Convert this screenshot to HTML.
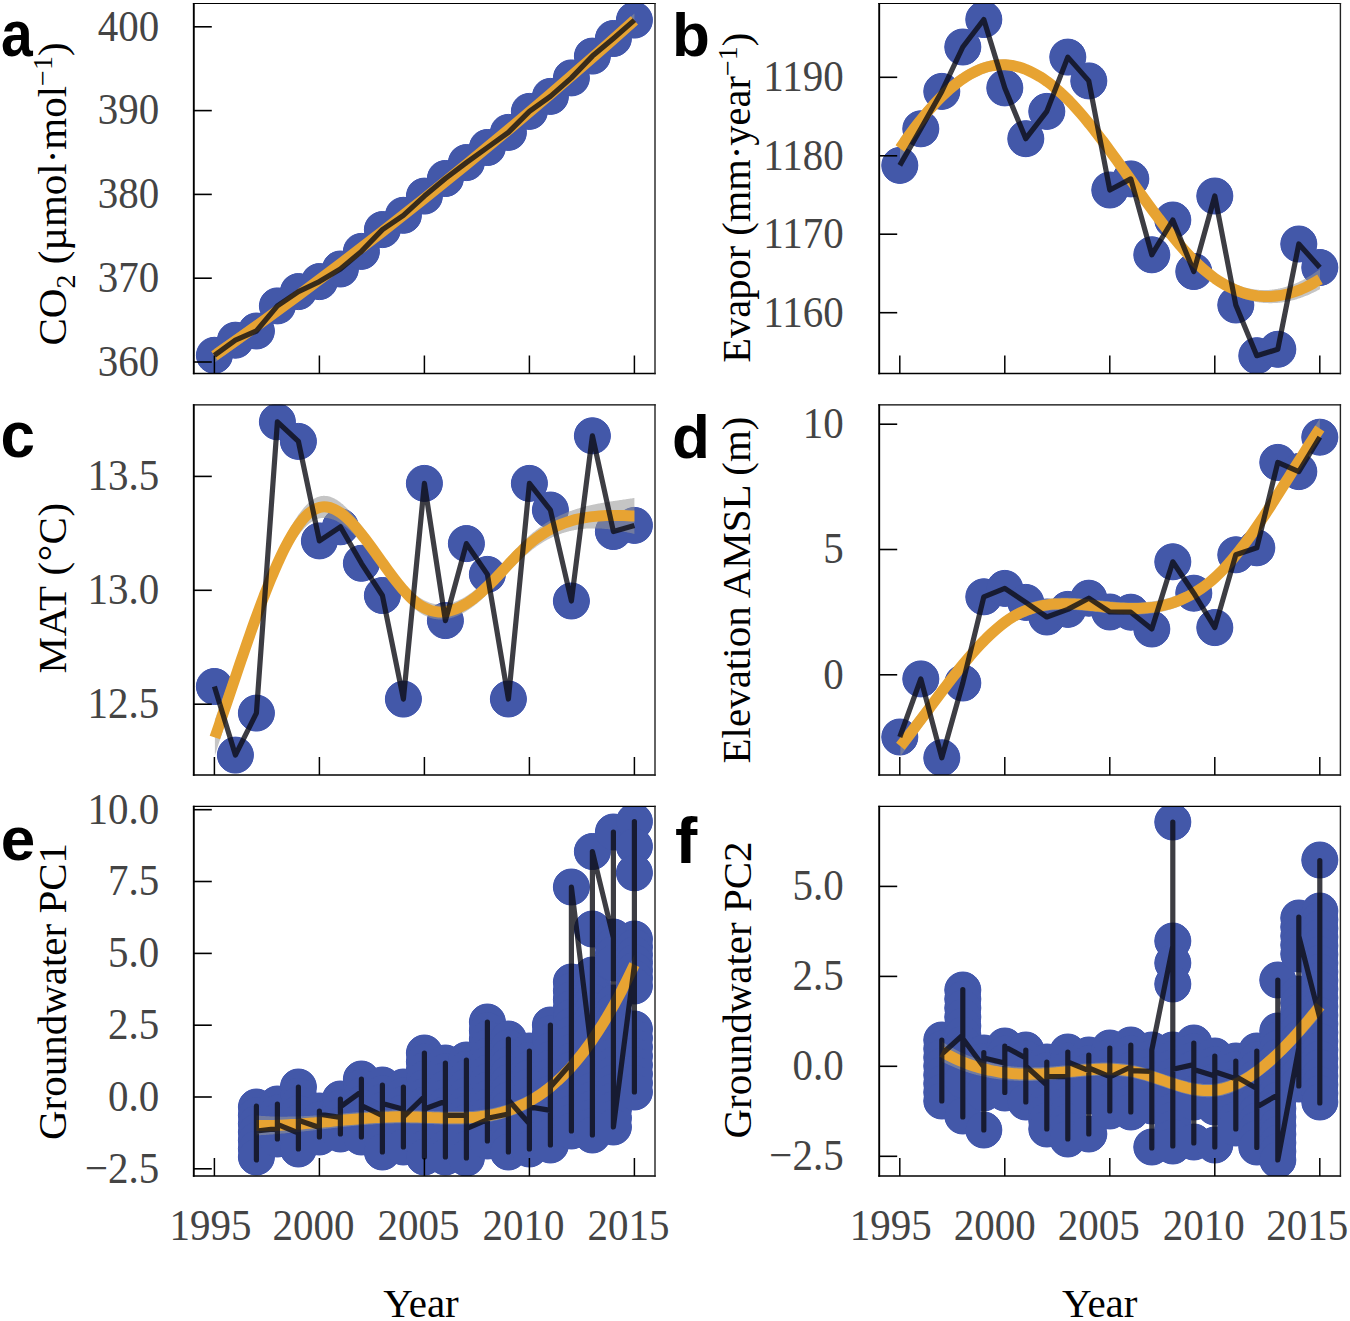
<!DOCTYPE html>
<html><head><meta charset="utf-8"><style>
html,body{margin:0;padding:0;background:#fff;overflow:hidden;width:1350px;height:1321px;}
svg{display:block;}
.tl{font-family:"Liberation Serif",serif;font-size:41px;fill:#444;}
.yt{font-family:"Liberation Serif",serif;font-size:41px;fill:#000;}
.pl{font-family:"Liberation Sans",sans-serif;font-weight:bold;font-size:62px;fill:#000;}
</style></head><body>
<svg width="1350" height="1321" viewBox="0 0 1350 1321">
<rect width="1350" height="1321" fill="#fff"/>
<defs><clipPath id="c00"><rect x="193.8" y="3.5" width="461.2" height="370"/></clipPath>
<clipPath id="c01"><rect x="193.8" y="404.8" width="461.2" height="370.2"/></clipPath>
<clipPath id="c02"><rect x="193.8" y="806.3" width="461.2" height="369.7"/></clipPath>
<clipPath id="c10"><rect x="879.2" y="3.5" width="461.2" height="370"/></clipPath>
<clipPath id="c11"><rect x="879.2" y="404.8" width="461.2" height="370.2"/></clipPath>
<clipPath id="c12"><rect x="879.2" y="806.3" width="461.2" height="369.7"/></clipPath></defs>
<g clip-path="url(#c00)">
<g fill="#4358A9" stroke="#3A50B4" stroke-width="1"><circle cx="214.4" cy="355.3" r="18"/><circle cx="235.4" cy="340.2" r="18"/><circle cx="256.4" cy="331" r="18"/><circle cx="277.4" cy="305.9" r="18"/><circle cx="298.4" cy="291.6" r="18"/><circle cx="319.4" cy="281.6" r="18"/><circle cx="340.4" cy="269" r="18"/><circle cx="361.4" cy="251.4" r="18"/><circle cx="382.4" cy="229.6" r="18"/><circle cx="403.4" cy="215.3" r="18"/><circle cx="424.4" cy="196.1" r="18"/><circle cx="445.4" cy="178.5" r="18"/><circle cx="466.4" cy="162.6" r="18"/><circle cx="487.4" cy="147.5" r="18"/><circle cx="508.4" cy="132.4" r="18"/><circle cx="529.4" cy="111.4" r="18"/><circle cx="550.4" cy="96.4" r="18"/><circle cx="571.4" cy="77.9" r="18"/><circle cx="592.4" cy="56.1" r="18"/><circle cx="613.4" cy="38.5" r="18"/><circle cx="634.4" cy="20.1" r="18"/></g>
<g fill="#4358A9"><circle cx="214.4" cy="355.3" r="18"/><circle cx="235.4" cy="340.2" r="18"/><circle cx="256.4" cy="331" r="18"/><circle cx="277.4" cy="305.9" r="18"/><circle cx="298.4" cy="291.6" r="18"/><circle cx="319.4" cy="281.6" r="18"/><circle cx="340.4" cy="269" r="18"/><circle cx="361.4" cy="251.4" r="18"/><circle cx="382.4" cy="229.6" r="18"/><circle cx="403.4" cy="215.3" r="18"/><circle cx="424.4" cy="196.1" r="18"/><circle cx="445.4" cy="178.5" r="18"/><circle cx="466.4" cy="162.6" r="18"/><circle cx="487.4" cy="147.5" r="18"/><circle cx="508.4" cy="132.4" r="18"/><circle cx="529.4" cy="111.4" r="18"/><circle cx="550.4" cy="96.4" r="18"/><circle cx="571.4" cy="77.9" r="18"/><circle cx="592.4" cy="56.1" r="18"/><circle cx="613.4" cy="38.5" r="18"/><circle cx="634.4" cy="20.1" r="18"/></g>
<path d="M214.4,348.8 L216.4,347.4 L219,345.6 L221.9,343.5 L225.3,341.2 L228.9,338.7 L232.8,336 L236.8,333.3 L240.8,330.4 L244.9,327.6 L248.9,324.8 L252.8,322.1 L256.4,319.5 L259.9,317 L263.4,314.6 L266.9,312.1 L270.4,309.6 L273.9,307.1 L277.4,304.5 L280.9,302 L284.4,299.5 L287.9,297 L291.4,294.4 L294.9,291.9 L298.4,289.3 L301.9,286.8 L305.4,284.2 L308.9,281.6 L312.4,279 L315.9,276.5 L319.4,273.9 L322.9,271.3 L326.4,268.7 L329.9,266.1 L333.4,263.4 L336.9,260.8 L340.4,258.2 L343.9,255.5 L347.4,252.9 L350.9,250.2 L354.4,247.6 L357.9,244.9 L361.4,242.2 L364.9,239.6 L368.4,236.9 L371.9,234.2 L375.4,231.5 L378.9,228.8 L382.4,226.1 L385.9,223.3 L389.4,220.6 L392.9,217.9 L396.4,215.2 L399.9,212.4 L403.4,209.7 L406.9,206.9 L410.4,204.1 L413.9,201.4 L417.4,198.6 L420.9,195.8 L424.4,193 L427.9,190.2 L431.4,187.4 L434.9,184.6 L438.4,181.8 L441.9,178.9 L445.4,176.1 L448.9,173.3 L452.4,170.4 L455.9,167.6 L459.4,164.7 L462.9,161.9 L466.4,159 L469.9,156.1 L473.4,153.2 L476.9,150.3 L480.4,147.4 L483.9,144.5 L487.4,141.6 L490.9,138.7 L494.4,135.8 L497.9,132.8 L501.4,129.9 L504.9,127 L508.4,124 L511.9,121.1 L515.4,118.1 L518.9,115.1 L522.4,112.1 L525.9,109.2 L529.4,106.2 L532.9,103.2 L536.4,100.2 L539.9,97.2 L543.4,94.1 L546.9,91.1 L550.4,88.1 L553.9,85.1 L557.4,82 L560.9,79 L564.4,75.9 L567.9,72.8 L571.4,69.8 L574.9,66.7 L578.4,63.6 L581.9,60.5 L585.4,57.4 L588.9,54.3 L592.4,51.2 L596.4,47.7 L600.6,43.9 L605,39.9 L609.4,35.9 L613.9,32 L618.1,28.1 L622.2,24.4 L626,21 L629.3,18 L632.2,15.4 L634.4,13.4 L634.4,27.4 L632.2,29.3 L629.3,31.8 L626,34.8 L622.2,38.1 L618.1,41.6 L613.9,45.4 L609.4,49.3 L605,53.2 L600.6,57 L596.4,60.7 L592.4,64.1 L588.9,67.2 L585.4,70.2 L581.9,73.2 L578.4,76.2 L574.9,79.2 L571.4,82.2 L567.9,85.2 L564.4,88.2 L560.9,91.2 L557.4,94.2 L553.9,97.2 L550.4,100.2 L546.9,103.1 L543.4,106.1 L539.9,109.1 L536.4,112 L532.9,115 L529.4,117.9 L525.9,120.9 L522.4,123.8 L518.9,126.7 L515.4,129.7 L511.9,132.6 L508.4,135.5 L504.9,138.4 L501.4,141.3 L497.9,144.2 L494.4,147.1 L490.9,150 L487.4,152.9 L483.9,155.8 L480.4,158.6 L476.9,161.5 L473.4,164.4 L469.9,167.2 L466.4,170.1 L462.9,173 L459.4,175.8 L455.9,178.6 L452.4,181.5 L448.9,184.3 L445.4,187.1 L441.9,190 L438.4,192.8 L434.9,195.6 L431.4,198.4 L427.9,201.2 L424.4,204 L420.9,206.8 L417.4,209.6 L413.9,212.4 L410.4,215.1 L406.9,217.9 L403.4,220.7 L399.9,223.4 L396.4,226.2 L392.9,229 L389.4,231.7 L385.9,234.4 L382.4,237.2 L378.9,239.9 L375.4,242.6 L371.9,245.4 L368.4,248.1 L364.9,250.8 L361.4,253.5 L357.9,256.2 L354.4,258.9 L350.9,261.6 L347.4,264.3 L343.9,267 L340.4,269.7 L336.9,272.3 L333.4,275 L329.9,277.7 L326.4,280.3 L322.9,283 L319.4,285.6 L315.9,288.3 L312.4,290.9 L308.9,293.5 L305.4,296.2 L301.9,298.8 L298.4,301.4 L294.9,304 L291.4,306.6 L287.9,309.2 L284.4,311.8 L280.9,314.4 L277.4,317 L273.9,319.6 L270.4,322.2 L266.9,324.8 L263.4,327.3 L259.9,329.9 L256.4,332.4 L252.8,335.1 L248.9,337.9 L244.9,340.8 L240.8,343.7 L236.8,346.7 L232.8,349.5 L228.9,352.3 L225.3,354.9 L221.9,357.3 L219,359.5 L216.4,361.3 L214.4,362.8 Z" fill="#989898" fill-opacity="0.56"/>
<path d="M214.4,355.8 C221.4,350.8 242.4,336.1 256.4,326 C270.4,315.9 284.4,305.7 298.4,295.4 C312.4,285 326.4,274.5 340.4,263.9 C354.4,253.3 368.4,242.5 382.4,231.6 C396.4,220.7 410.4,209.7 424.4,198.5 C438.4,187.3 452.4,176 466.4,164.5 C480.4,153.1 494.4,141.5 508.4,129.8 C522.4,118 536.4,106.1 550.4,94.1 C564.4,82.1 578.4,70 592.4,57.7 C606.4,45.4 627.4,26.6 634.4,20.4" fill="none" stroke="#E7A332" stroke-width="11"/>
<path d="M214.4,355.3 L235.4,340.2 L256.4,331 L277.4,305.9 L298.4,291.6 L319.4,281.6 L340.4,269 L361.4,251.4 L382.4,229.6 L403.4,215.3 L424.4,196.1 L445.4,178.5 L466.4,162.6 L487.4,147.5 L508.4,132.4 L529.4,111.4 L550.4,96.4 L571.4,77.9 L592.4,56.1 L613.4,38.5 L634.4,20.1" fill="none" stroke="#0c0c14" stroke-opacity="0.8" stroke-width="5.2" stroke-linejoin="round" stroke-linecap="butt"/>
</g>
<g clip-path="url(#c10)">
<g fill="#4358A9" stroke="#3A50B4" stroke-width="1"><circle cx="899.8" cy="165.4" r="18"/><circle cx="920.8" cy="128.8" r="18"/><circle cx="941.8" cy="91.4" r="18"/><circle cx="962.8" cy="47" r="18"/><circle cx="983.8" cy="19.5" r="18"/><circle cx="1004.8" cy="87.9" r="18"/><circle cx="1025.8" cy="138.7" r="18"/><circle cx="1046.8" cy="111.4" r="18"/><circle cx="1067.8" cy="57.1" r="18"/><circle cx="1088.8" cy="80.9" r="18"/><circle cx="1109.8" cy="190" r="18"/><circle cx="1130.8" cy="178.9" r="18"/><circle cx="1151.8" cy="254.8" r="18"/><circle cx="1172.8" cy="220" r="18"/><circle cx="1193.8" cy="271.5" r="18"/><circle cx="1214.8" cy="196" r="18"/><circle cx="1235.8" cy="305" r="18"/><circle cx="1256.8" cy="355.7" r="18"/><circle cx="1277.8" cy="349.3" r="18"/><circle cx="1298.8" cy="244" r="18"/><circle cx="1319.8" cy="267.5" r="18"/></g>
<g fill="#4358A9"><circle cx="899.8" cy="165.4" r="18"/><circle cx="920.8" cy="128.8" r="18"/><circle cx="941.8" cy="91.4" r="18"/><circle cx="962.8" cy="47" r="18"/><circle cx="983.8" cy="19.5" r="18"/><circle cx="1004.8" cy="87.9" r="18"/><circle cx="1025.8" cy="138.7" r="18"/><circle cx="1046.8" cy="111.4" r="18"/><circle cx="1067.8" cy="57.1" r="18"/><circle cx="1088.8" cy="80.9" r="18"/><circle cx="1109.8" cy="190" r="18"/><circle cx="1130.8" cy="178.9" r="18"/><circle cx="1151.8" cy="254.8" r="18"/><circle cx="1172.8" cy="220" r="18"/><circle cx="1193.8" cy="271.5" r="18"/><circle cx="1214.8" cy="196" r="18"/><circle cx="1235.8" cy="305" r="18"/><circle cx="1256.8" cy="355.7" r="18"/><circle cx="1277.8" cy="349.3" r="18"/><circle cx="1298.8" cy="244" r="18"/><circle cx="1319.8" cy="267.5" r="18"/></g>
<path d="M900,138.5 L900.3,138.1 L900.8,137.5 L901.3,136.8 L901.8,136.1 L902.4,135.2 L903.1,134.4 L903.7,133.5 L904.4,132.5 L905.1,131.6 L905.8,130.7 L906.4,129.9 L907,129.1 L907.6,128.3 L908.2,127.5 L908.8,126.8 L909.3,126 L909.9,125.2 L910.5,124.5 L911.1,123.7 L911.7,123 L912.2,122.2 L912.8,121.5 L913.4,120.8 L914,120 L914.6,119.3 L915.2,118.6 L915.8,117.9 L916.3,117.1 L916.9,116.4 L917.5,115.7 L918.1,115 L918.7,114.3 L919.2,113.6 L919.8,112.9 L920.4,112.2 L921,111.5 L921.6,110.8 L922.2,110.1 L922.8,109.4 L923.3,108.8 L923.9,108.1 L924.5,107.4 L925.1,106.8 L925.7,106.1 L926.2,105.4 L926.8,104.8 L927.4,104.1 L928,103.5 L928.6,102.8 L929.2,102.2 L929.8,101.6 L930.3,100.9 L930.9,100.3 L931.5,99.7 L932.1,99.1 L932.7,98.4 L933.2,97.8 L933.8,97.2 L934.4,96.6 L935,96 L935.6,95.4 L936.2,94.8 L936.8,94.3 L937.3,93.7 L937.9,93.1 L938.5,92.5 L939.1,91.9 L939.7,91.4 L940.2,90.8 L940.8,90.3 L941.4,89.7 L942,89.2 L942.6,88.6 L943.2,88.1 L943.8,87.5 L944.3,87 L944.9,86.5 L945.5,86 L946.1,85.4 L946.7,84.9 L947.2,84.4 L947.8,83.9 L948.4,83.4 L949,82.9 L949.6,82.4 L950.2,81.9 L950.8,81.5 L951.3,81 L951.9,80.5 L952.5,80 L953.1,79.6 L953.7,79.1 L954.2,78.7 L954.8,78.2 L955.4,77.8 L956,77.3 L956.6,76.9 L957.2,76.5 L957.8,76.1 L958.3,75.6 L958.9,75.2 L959.5,74.8 L960.1,74.4 L960.7,74 L961.2,73.6 L961.8,73.2 L962.4,72.8 L963,72.5 L963.6,72.1 L964.2,71.7 L964.8,71.3 L965.3,71 L965.9,70.6 L966.5,70.3 L967.1,69.9 L967.7,69.6 L968.2,69.3 L968.8,68.9 L969.4,68.6 L970,68.3 L970.6,68 L971.2,67.7 L971.8,67.4 L972.3,67.1 L972.9,66.8 L973.5,66.5 L974.1,66.2 L974.7,65.9 L975.2,65.7 L975.8,65.4 L976.4,65.1 L977,64.9 L977.6,64.6 L978.2,64.4 L978.8,64.2 L979.3,63.9 L979.9,63.7 L980.5,63.5 L981.1,63.3 L981.7,63.1 L982.2,62.9 L982.8,62.7 L983.4,62.5 L984,62.3 L984.6,62.1 L985.2,61.9 L985.8,61.7 L986.3,61.6 L986.9,61.4 L987.5,61.3 L988.1,61.1 L988.7,61 L989.2,60.9 L989.8,60.7 L990.4,60.6 L991,60.5 L991.6,60.4 L992.2,60.3 L992.8,60.2 L993.3,60.1 L993.9,60 L994.5,59.9 L995.1,59.8 L995.7,59.8 L996.2,59.7 L996.8,59.6 L997.4,59.6 L998,59.5 L998.6,59.5 L999.2,59.5 L999.8,59.5 L1000.3,59.4 L1000.9,59.4 L1001.5,59.4 L1002.1,59.4 L1002.7,59.4 L1003.2,59.4 L1003.8,59.4 L1004.4,59.5 L1005,59.5 L1005.6,59.5 L1006.2,59.6 L1006.8,59.6 L1007.3,59.7 L1007.9,59.7 L1008.5,59.8 L1009.1,59.9 L1009.7,59.9 L1010.2,60 L1010.8,60.1 L1011.4,60.2 L1012,60.3 L1012.6,60.4 L1013.2,60.5 L1013.8,60.6 L1014.3,60.8 L1014.9,60.9 L1015.5,61 L1016.1,61.2 L1016.7,61.3 L1017.2,61.5 L1017.8,61.6 L1018.4,61.8 L1019,62 L1019.6,62.1 L1020.2,62.3 L1020.8,62.5 L1021.3,62.7 L1021.9,62.9 L1022.5,63.1 L1023.1,63.3 L1023.7,63.5 L1024.2,63.7 L1024.8,64 L1025.4,64.2 L1026,64.4 L1026.6,64.7 L1027.2,64.9 L1027.8,65.2 L1028.3,65.4 L1028.9,65.7 L1029.5,65.9 L1030.1,66.2 L1030.7,66.5 L1031.2,66.8 L1031.8,67.1 L1032.4,67.4 L1033,67.7 L1033.6,68 L1034.2,68.3 L1034.8,68.6 L1035.3,68.9 L1035.9,69.2 L1036.5,69.6 L1037.1,69.9 L1037.7,70.3 L1038.2,70.6 L1038.8,71 L1039.4,71.3 L1040,71.7 L1040.6,72 L1041.2,72.4 L1041.8,72.8 L1042.3,73.2 L1042.9,73.6 L1043.5,73.9 L1044.1,74.3 L1044.7,74.7 L1045.2,75.2 L1045.8,75.6 L1046.4,76 L1047,76.4 L1047.6,76.8 L1048.2,77.3 L1048.8,77.7 L1049.3,78.1 L1049.9,78.6 L1050.5,79 L1051.1,79.5 L1051.7,80 L1052.2,80.4 L1052.8,80.9 L1053.4,81.4 L1054,81.8 L1054.6,82.3 L1055.2,82.8 L1055.8,83.3 L1056.3,83.8 L1056.9,84.3 L1057.5,84.8 L1058.1,85.3 L1058.7,85.8 L1059.2,86.4 L1059.8,86.9 L1060.4,87.4 L1061,88 L1061.6,88.5 L1062.2,89 L1062.8,89.6 L1063.3,90.1 L1063.9,90.7 L1064.5,91.3 L1065.1,91.8 L1065.7,92.4 L1066.2,93 L1066.8,93.5 L1067.4,94.1 L1068,94.7 L1068.6,95.3 L1069.2,95.9 L1069.8,96.5 L1070.3,97.1 L1070.9,97.7 L1071.5,98.3 L1072.1,98.9 L1072.7,99.6 L1073.2,100.2 L1073.8,100.8 L1074.4,101.4 L1075,102.1 L1075.6,102.7 L1076.2,103.4 L1076.8,104 L1077.3,104.7 L1077.9,105.3 L1078.5,106 L1079.1,106.6 L1079.7,107.3 L1080.2,108 L1080.8,108.7 L1081.4,109.3 L1082,110 L1082.6,110.7 L1083.2,111.4 L1083.8,112.1 L1084.3,112.8 L1084.9,113.5 L1085.5,114.2 L1086.1,114.9 L1086.7,115.6 L1087.2,116.3 L1087.8,117 L1088.4,117.7 L1089,118.4 L1089.6,119.1 L1090.2,119.9 L1090.8,120.6 L1091.3,121.3 L1091.9,122.1 L1092.5,122.8 L1093.1,123.5 L1093.7,124.3 L1094.2,125 L1094.8,125.8 L1095.4,126.5 L1096,127.3 L1096.6,128 L1097.2,128.8 L1097.8,129.5 L1098.3,130.3 L1098.9,131 L1099.5,131.8 L1100.1,132.6 L1100.7,133.3 L1101.2,134.1 L1101.8,134.9 L1102.4,135.7 L1103,136.4 L1103.6,137.2 L1104.2,138 L1104.8,138.8 L1105.3,139.6 L1105.9,140.3 L1106.5,141.1 L1107.1,141.9 L1107.7,142.7 L1108.2,143.5 L1108.8,144.3 L1109.4,145.1 L1110,145.9 L1110.6,146.7 L1111.2,147.5 L1111.8,148.3 L1112.3,149.1 L1112.9,149.9 L1113.5,150.7 L1114.1,151.5 L1114.7,152.3 L1115.2,153.1 L1115.8,153.9 L1116.4,154.7 L1117,155.5 L1117.6,156.4 L1118.2,157.2 L1118.8,158 L1119.3,158.8 L1119.9,159.6 L1120.5,160.4 L1121.1,161.2 L1121.7,162.1 L1122.2,162.9 L1122.8,163.7 L1123.4,164.5 L1124,165.3 L1124.6,166.2 L1125.2,167 L1125.8,167.8 L1126.3,168.6 L1126.9,169.4 L1127.5,170.3 L1128.1,171.1 L1128.7,171.9 L1129.2,172.7 L1129.8,173.6 L1130.4,174.4 L1131,175.2 L1131.6,176 L1132.2,176.8 L1132.8,177.7 L1133.3,178.5 L1133.9,179.3 L1134.5,180.1 L1135.1,181 L1135.7,181.8 L1136.2,182.6 L1136.8,183.4 L1137.4,184.2 L1138,185.1 L1138.6,185.9 L1139.2,186.7 L1139.8,187.5 L1140.3,188.3 L1140.9,189.2 L1141.5,190 L1142.1,190.8 L1142.7,191.6 L1143.2,192.4 L1143.8,193.2 L1144.4,194 L1145,194.8 L1145.6,195.7 L1146.2,196.5 L1146.8,197.3 L1147.3,198.1 L1147.9,198.9 L1148.5,199.7 L1149.1,200.5 L1149.7,201.3 L1150.2,202.1 L1150.8,202.9 L1151.4,203.7 L1152,204.5 L1152.6,205.3 L1153.2,206.1 L1153.8,206.9 L1154.3,207.7 L1154.9,208.4 L1155.5,209.2 L1156.1,210 L1156.7,210.8 L1157.2,211.6 L1157.8,212.4 L1158.4,213.1 L1159,213.9 L1159.6,214.7 L1160.2,215.5 L1160.8,216.2 L1161.3,217 L1161.9,217.8 L1162.5,218.5 L1163.1,219.3 L1163.7,220 L1164.2,220.8 L1164.8,221.5 L1165.4,222.3 L1166,223 L1166.6,223.8 L1167.2,224.5 L1167.8,225.3 L1168.3,226 L1168.9,226.8 L1169.5,227.5 L1170.1,228.2 L1170.7,228.9 L1171.2,229.7 L1171.8,230.4 L1172.4,231.1 L1173,231.8 L1173.6,232.5 L1174.2,233.2 L1174.8,234 L1175.3,234.7 L1175.9,235.4 L1176.5,236.1 L1177.1,236.8 L1177.7,237.4 L1178.2,238.1 L1178.8,238.8 L1179.4,239.5 L1180,240.2 L1180.6,240.8 L1181.2,241.5 L1181.8,242.2 L1182.3,242.9 L1182.9,243.5 L1183.5,244.2 L1184.1,244.8 L1184.7,245.5 L1185.2,246.1 L1185.8,246.8 L1186.4,247.4 L1187,248 L1187.6,248.7 L1188.2,249.3 L1188.8,249.9 L1189.3,250.5 L1189.9,251.1 L1190.5,251.7 L1191.1,252.3 L1191.7,252.9 L1192.2,253.5 L1192.8,254.1 L1193.4,254.7 L1194,255.3 L1194.6,255.9 L1195.2,256.5 L1195.8,257 L1196.3,257.6 L1196.9,258.1 L1197.5,258.7 L1198.1,259.3 L1198.7,259.8 L1199.2,260.3 L1199.8,260.9 L1200.4,261.4 L1201,261.9 L1201.6,262.5 L1202.2,263 L1202.8,263.5 L1203.3,264 L1203.9,264.5 L1204.5,265 L1205.1,265.5 L1205.7,266 L1206.2,266.4 L1206.8,266.9 L1207.4,267.4 L1208,267.9 L1208.6,268.3 L1209.2,268.8 L1209.8,269.2 L1210.3,269.7 L1210.9,270.1 L1211.5,270.6 L1212.1,271 L1212.7,271.4 L1213.2,271.8 L1213.8,272.3 L1214.4,272.7 L1215,273.1 L1215.6,273.5 L1216.2,273.9 L1216.8,274.3 L1217.3,274.6 L1217.9,275 L1218.5,275.4 L1219.1,275.8 L1219.7,276.1 L1220.2,276.5 L1220.8,276.9 L1221.4,277.2 L1222,277.6 L1222.6,277.9 L1223.2,278.3 L1223.8,278.6 L1224.3,278.9 L1224.9,279.2 L1225.5,279.6 L1226.1,279.9 L1226.7,280.2 L1227.2,280.5 L1227.8,280.8 L1228.4,281.1 L1229,281.4 L1229.6,281.7 L1230.2,281.9 L1230.8,282.2 L1231.3,282.5 L1231.9,282.8 L1232.5,283 L1233.1,283.3 L1233.7,283.5 L1234.2,283.8 L1234.8,284 L1235.4,284.2 L1236,284.5 L1236.6,284.7 L1237.2,284.9 L1237.8,285.1 L1238.3,285.4 L1238.9,285.6 L1239.5,285.8 L1240.1,286 L1240.7,286.2 L1241.2,286.3 L1241.8,286.5 L1242.4,286.7 L1243,286.9 L1243.6,287.1 L1244.2,287.2 L1244.8,287.4 L1245.3,287.5 L1245.9,287.7 L1246.5,287.8 L1247.1,288 L1247.7,288.1 L1248.2,288.2 L1248.8,288.4 L1249.4,288.5 L1250,288.6 L1250.6,288.7 L1251.2,288.8 L1251.8,288.9 L1252.3,289 L1252.9,289.1 L1253.5,289.2 L1254.1,289.3 L1254.7,289.4 L1255.2,289.5 L1255.8,289.5 L1256.4,289.6 L1257,289.7 L1257.6,289.7 L1258.2,289.8 L1258.8,289.8 L1259.3,289.9 L1259.9,289.9 L1260.5,289.9 L1261.1,290 L1261.7,290 L1262.2,290 L1262.8,290 L1263.4,290 L1264,290 L1264.6,290 L1265.2,290 L1265.8,290 L1266.3,290 L1266.9,290 L1267.5,290 L1268.1,289.9 L1268.7,289.9 L1269.2,289.9 L1269.8,289.8 L1270.4,289.8 L1271,289.7 L1271.6,289.7 L1272.2,289.6 L1272.8,289.5 L1273.3,289.5 L1273.9,289.4 L1274.5,289.3 L1275.1,289.2 L1275.7,289.1 L1276.2,289.1 L1276.8,289 L1277.4,288.9 L1278,288.7 L1278.6,288.6 L1279.2,288.5 L1279.8,288.4 L1280.3,288.3 L1280.9,288.1 L1281.5,288 L1282.1,287.9 L1282.7,287.7 L1283.2,287.6 L1283.8,287.4 L1284.4,287.3 L1285,287.1 L1285.6,287 L1286.2,286.8 L1286.8,286.6 L1287.3,286.4 L1287.9,286.2 L1288.5,286.1 L1289.1,285.9 L1289.7,285.7 L1290.2,285.5 L1290.8,285.3 L1291.4,285 L1292,284.8 L1292.6,284.6 L1293.2,284.4 L1293.8,284.2 L1294.3,283.9 L1294.9,283.7 L1295.5,283.4 L1296.1,283.2 L1296.7,282.9 L1297.2,282.7 L1297.8,282.4 L1298.4,282.2 L1299,281.9 L1299.6,281.6 L1300.2,281.3 L1300.8,281 L1301.3,280.8 L1301.9,280.5 L1302.5,280.2 L1303.1,279.9 L1303.7,279.6 L1304.2,279.2 L1304.8,278.9 L1305.4,278.6 L1306,278.3 L1306.6,278 L1307.2,277.6 L1307.8,277.3 L1308.3,276.9 L1308.9,276.6 L1309.5,276.3 L1310.1,275.9 L1310.7,275.5 L1311.2,275.2 L1311.8,274.8 L1312.4,274.4 L1313,274.1 L1313.7,273.6 L1314.4,273.1 L1315.1,272.6 L1315.8,272.1 L1316.6,271.6 L1317.3,271.1 L1318,270.6 L1318.6,270.2 L1319.2,269.8 L1319.6,269.4 L1320,269.2 L1320,289.2 L1319.6,289.4 L1319.2,289.6 L1318.6,289.9 L1318,290.2 L1317.3,290.6 L1316.6,291 L1315.8,291.4 L1315.1,291.7 L1314.4,292.1 L1313.7,292.5 L1313,292.8 L1312.4,293.1 L1311.8,293.3 L1311.2,293.6 L1310.7,293.9 L1310.1,294.1 L1309.5,294.4 L1308.9,294.7 L1308.3,294.9 L1307.8,295.2 L1307.2,295.4 L1306.6,295.6 L1306,295.9 L1305.4,296.1 L1304.8,296.3 L1304.2,296.6 L1303.7,296.8 L1303.1,297 L1302.5,297.2 L1301.9,297.4 L1301.3,297.6 L1300.8,297.9 L1300.2,298.1 L1299.6,298.3 L1299,298.4 L1298.4,298.6 L1297.8,298.8 L1297.2,299 L1296.7,299.2 L1296.1,299.4 L1295.5,299.5 L1294.9,299.7 L1294.3,299.9 L1293.8,300 L1293.2,300.2 L1292.6,300.3 L1292,300.5 L1291.4,300.6 L1290.8,300.8 L1290.2,300.9 L1289.7,301 L1289.1,301.1 L1288.5,301.3 L1287.9,301.4 L1287.3,301.5 L1286.8,301.6 L1286.2,301.7 L1285.6,301.8 L1285,301.9 L1284.4,302 L1283.8,302.1 L1283.2,302.2 L1282.7,302.3 L1282.1,302.4 L1281.5,302.5 L1280.9,302.5 L1280.3,302.6 L1279.8,302.7 L1279.2,302.7 L1278.6,302.8 L1278,302.8 L1277.4,302.9 L1276.8,302.9 L1276.2,303 L1275.7,303 L1275.1,303.1 L1274.5,303.1 L1273.9,303.1 L1273.3,303.1 L1272.8,303.1 L1272.2,303.2 L1271.6,303.2 L1271,303.2 L1270.4,303.2 L1269.8,303.2 L1269.2,303.2 L1268.7,303.2 L1268.1,303.1 L1267.5,303.1 L1266.9,303.1 L1266.3,303.1 L1265.8,303 L1265.2,303 L1264.6,303 L1264,302.9 L1263.4,302.9 L1262.8,302.8 L1262.2,302.8 L1261.7,302.7 L1261.1,302.6 L1260.5,302.6 L1259.9,302.5 L1259.3,302.4 L1258.8,302.3 L1258.2,302.2 L1257.6,302.2 L1257,302.1 L1256.4,302 L1255.8,301.9 L1255.2,301.7 L1254.7,301.6 L1254.1,301.5 L1253.5,301.4 L1252.9,301.3 L1252.3,301.1 L1251.8,301 L1251.2,300.9 L1250.6,300.7 L1250,300.6 L1249.4,300.4 L1248.8,300.3 L1248.2,300.1 L1247.7,300 L1247.1,299.8 L1246.5,299.6 L1245.9,299.4 L1245.3,299.3 L1244.8,299.1 L1244.2,298.9 L1243.6,298.7 L1243,298.5 L1242.4,298.3 L1241.8,298.1 L1241.2,297.9 L1240.7,297.7 L1240.1,297.4 L1239.5,297.2 L1238.9,297 L1238.3,296.8 L1237.8,296.5 L1237.2,296.3 L1236.6,296 L1236,295.8 L1235.4,295.5 L1234.8,295.3 L1234.2,295 L1233.7,294.7 L1233.1,294.4 L1232.5,294.2 L1231.9,293.9 L1231.3,293.6 L1230.8,293.3 L1230.2,293 L1229.6,292.7 L1229,292.4 L1228.4,292.1 L1227.8,291.8 L1227.2,291.5 L1226.7,291.1 L1226.1,290.8 L1225.5,290.5 L1224.9,290.1 L1224.3,289.8 L1223.8,289.4 L1223.2,289.1 L1222.6,288.7 L1222,288.4 L1221.4,288 L1220.8,287.6 L1220.2,287.3 L1219.7,286.9 L1219.1,286.5 L1218.5,286.1 L1217.9,285.7 L1217.3,285.3 L1216.8,284.9 L1216.2,284.5 L1215.6,284.1 L1215,283.7 L1214.4,283.3 L1213.8,282.8 L1213.2,282.4 L1212.7,282 L1212.1,281.5 L1211.5,281.1 L1210.9,280.6 L1210.3,280.2 L1209.8,279.7 L1209.2,279.3 L1208.6,278.8 L1208,278.3 L1207.4,277.9 L1206.8,277.4 L1206.2,276.9 L1205.7,276.4 L1205.1,275.9 L1204.5,275.4 L1203.9,274.9 L1203.3,274.4 L1202.8,273.9 L1202.2,273.3 L1201.6,272.8 L1201,272.3 L1200.4,271.7 L1199.8,271.2 L1199.2,270.7 L1198.7,270.1 L1198.1,269.6 L1197.5,269 L1196.9,268.4 L1196.3,267.9 L1195.8,267.3 L1195.2,266.7 L1194.6,266.1 L1194,265.6 L1193.4,265 L1192.8,264.4 L1192.2,263.8 L1191.7,263.2 L1191.1,262.6 L1190.5,262 L1189.9,261.3 L1189.3,260.7 L1188.8,260.1 L1188.2,259.5 L1187.6,258.8 L1187,258.2 L1186.4,257.6 L1185.8,256.9 L1185.2,256.3 L1184.7,255.6 L1184.1,255 L1183.5,254.3 L1182.9,253.7 L1182.3,253 L1181.8,252.3 L1181.2,251.7 L1180.6,251 L1180,250.3 L1179.4,249.6 L1178.8,248.9 L1178.2,248.2 L1177.7,247.6 L1177.1,246.9 L1176.5,246.2 L1175.9,245.5 L1175.3,244.8 L1174.8,244 L1174.2,243.3 L1173.6,242.6 L1173,241.9 L1172.4,241.2 L1171.8,240.5 L1171.2,239.7 L1170.7,239 L1170.1,238.3 L1169.5,237.6 L1168.9,236.8 L1168.3,236.1 L1167.8,235.3 L1167.2,234.6 L1166.6,233.8 L1166,233.1 L1165.4,232.3 L1164.8,231.6 L1164.2,230.8 L1163.7,230.1 L1163.1,229.3 L1162.5,228.6 L1161.9,227.8 L1161.3,227 L1160.8,226.3 L1160.2,225.5 L1159.6,224.7 L1159,223.9 L1158.4,223.2 L1157.8,222.4 L1157.2,221.6 L1156.7,220.8 L1156.1,220 L1155.5,219.3 L1154.9,218.5 L1154.3,217.7 L1153.8,216.9 L1153.2,216.1 L1152.6,215.3 L1152,214.5 L1151.4,213.7 L1150.8,212.9 L1150.2,212.1 L1149.7,211.3 L1149.1,210.5 L1148.5,209.7 L1147.9,208.9 L1147.3,208.1 L1146.8,207.3 L1146.2,206.5 L1145.6,205.7 L1145,204.9 L1144.4,204 L1143.8,203.2 L1143.2,202.4 L1142.7,201.6 L1142.1,200.8 L1141.5,200 L1140.9,199.2 L1140.3,198.3 L1139.8,197.5 L1139.2,196.7 L1138.6,195.9 L1138,195.1 L1137.4,194.2 L1136.8,193.4 L1136.2,192.6 L1135.7,191.8 L1135.1,191 L1134.5,190.1 L1133.9,189.3 L1133.3,188.5 L1132.8,187.7 L1132.2,186.8 L1131.6,186 L1131,185.2 L1130.4,184.4 L1129.8,183.6 L1129.2,182.7 L1128.7,181.9 L1128.1,181.1 L1127.5,180.3 L1126.9,179.4 L1126.3,178.6 L1125.8,177.8 L1125.2,177 L1124.6,176.2 L1124,175.3 L1123.4,174.5 L1122.8,173.7 L1122.2,172.9 L1121.7,172.1 L1121.1,171.2 L1120.5,170.4 L1119.9,169.6 L1119.3,168.8 L1118.8,168 L1118.2,167.2 L1117.6,166.4 L1117,165.5 L1116.4,164.7 L1115.8,163.9 L1115.2,163.1 L1114.7,162.3 L1114.1,161.5 L1113.5,160.7 L1112.9,159.9 L1112.3,159.1 L1111.8,158.3 L1111.2,157.5 L1110.6,156.7 L1110,155.9 L1109.4,155.1 L1108.8,154.3 L1108.2,153.5 L1107.7,152.7 L1107.1,151.9 L1106.5,151.1 L1105.9,150.3 L1105.3,149.6 L1104.8,148.8 L1104.2,148 L1103.6,147.2 L1103,146.4 L1102.4,145.7 L1101.8,144.9 L1101.2,144.1 L1100.7,143.3 L1100.1,142.6 L1099.5,141.8 L1098.9,141 L1098.3,140.3 L1097.8,139.5 L1097.2,138.8 L1096.6,138 L1096,137.3 L1095.4,136.5 L1094.8,135.8 L1094.2,135 L1093.7,134.3 L1093.1,133.5 L1092.5,132.8 L1091.9,132.1 L1091.3,131.3 L1090.8,130.6 L1090.2,129.9 L1089.6,129.1 L1089,128.4 L1088.4,127.7 L1087.8,127 L1087.2,126.3 L1086.7,125.6 L1086.1,124.9 L1085.5,124.2 L1084.9,123.5 L1084.3,122.8 L1083.8,122.1 L1083.2,121.4 L1082.6,120.7 L1082,120 L1081.4,119.3 L1080.8,118.7 L1080.2,118 L1079.7,117.3 L1079.1,116.6 L1078.5,116 L1077.9,115.3 L1077.3,114.7 L1076.8,114 L1076.2,113.4 L1075.6,112.7 L1075,112.1 L1074.4,111.5 L1073.8,110.8 L1073.2,110.2 L1072.7,109.6 L1072.1,109 L1071.5,108.3 L1070.9,107.7 L1070.3,107.1 L1069.8,106.5 L1069.2,105.9 L1068.6,105.3 L1068,104.7 L1067.4,104.1 L1066.8,103.6 L1066.2,103 L1065.7,102.4 L1065.1,101.8 L1064.5,101.3 L1063.9,100.7 L1063.3,100.2 L1062.8,99.6 L1062.2,99.1 L1061.6,98.5 L1061,98 L1060.4,97.4 L1059.8,96.9 L1059.2,96.4 L1058.7,95.9 L1058.1,95.4 L1057.5,94.9 L1056.9,94.3 L1056.3,93.8 L1055.8,93.4 L1055.2,92.9 L1054.6,92.4 L1054,91.9 L1053.4,91.4 L1052.8,90.9 L1052.2,90.5 L1051.7,90 L1051.1,89.6 L1050.5,89.1 L1049.9,88.7 L1049.3,88.2 L1048.8,87.8 L1048.2,87.3 L1047.6,86.9 L1047,86.5 L1046.4,86.1 L1045.8,85.7 L1045.2,85.2 L1044.7,84.8 L1044.1,84.4 L1043.5,84 L1042.9,83.7 L1042.3,83.3 L1041.8,82.9 L1041.2,82.5 L1040.6,82.2 L1040,81.8 L1039.4,81.4 L1038.8,81.1 L1038.2,80.7 L1037.7,80.4 L1037.1,80.1 L1036.5,79.7 L1035.9,79.4 L1035.3,79.1 L1034.8,78.8 L1034.2,78.5 L1033.6,78.1 L1033,77.8 L1032.4,77.6 L1031.8,77.3 L1031.2,77 L1030.7,76.7 L1030.1,76.4 L1029.5,76.2 L1028.9,75.9 L1028.3,75.6 L1027.8,75.4 L1027.2,75.1 L1026.6,74.9 L1026,74.7 L1025.4,74.4 L1024.8,74.2 L1024.2,74 L1023.7,73.8 L1023.1,73.6 L1022.5,73.4 L1021.9,73.2 L1021.3,73 L1020.8,72.8 L1020.2,72.6 L1019.6,72.5 L1019,72.3 L1018.4,72.1 L1017.8,72 L1017.2,71.8 L1016.7,71.7 L1016.1,71.6 L1015.5,71.4 L1014.9,71.3 L1014.3,71.2 L1013.8,71.1 L1013.2,71 L1012.6,70.9 L1012,70.8 L1011.4,70.7 L1010.8,70.6 L1010.2,70.5 L1009.7,70.5 L1009.1,70.4 L1008.5,70.3 L1007.9,70.3 L1007.3,70.2 L1006.8,70.2 L1006.2,70.2 L1005.6,70.1 L1005,70.1 L1004.4,70.1 L1003.8,70.1 L1003.2,70.1 L1002.7,70.1 L1002.1,70.1 L1001.5,70.1 L1000.9,70.1 L1000.3,70.2 L999.8,70.2 L999.2,70.3 L998.6,70.3 L998,70.4 L997.4,70.4 L996.8,70.5 L996.2,70.6 L995.7,70.6 L995.1,70.7 L994.5,70.8 L993.9,70.9 L993.3,71 L992.8,71.1 L992.2,71.3 L991.6,71.4 L991,71.5 L990.4,71.7 L989.8,71.8 L989.2,71.9 L988.7,72.1 L988.1,72.3 L987.5,72.4 L986.9,72.6 L986.3,72.8 L985.8,73 L985.2,73.2 L984.6,73.4 L984,73.6 L983.4,73.8 L982.8,74 L982.2,74.2 L981.7,74.4 L981.1,74.7 L980.5,74.9 L979.9,75.2 L979.3,75.4 L978.8,75.7 L978.2,75.9 L977.6,76.2 L977,76.5 L976.4,76.8 L975.8,77.1 L975.2,77.4 L974.7,77.7 L974.1,78 L973.5,78.3 L972.9,78.6 L972.3,78.9 L971.8,79.2 L971.2,79.6 L970.6,79.9 L970,80.3 L969.4,80.6 L968.8,81 L968.2,81.3 L967.7,81.7 L967.1,82.1 L966.5,82.5 L965.9,82.8 L965.3,83.2 L964.8,83.6 L964.2,84 L963.6,84.4 L963,84.9 L962.4,85.3 L961.8,85.7 L961.2,86.1 L960.7,86.6 L960.1,87 L959.5,87.4 L958.9,87.9 L958.3,88.4 L957.8,88.8 L957.2,89.3 L956.6,89.8 L956,90.2 L955.4,90.7 L954.8,91.2 L954.2,91.7 L953.7,92.2 L953.1,92.7 L952.5,93.2 L951.9,93.7 L951.3,94.2 L950.8,94.8 L950.2,95.3 L949.6,95.8 L949,96.4 L948.4,96.9 L947.8,97.5 L947.2,98 L946.7,98.6 L946.1,99.2 L945.5,99.7 L944.9,100.3 L944.3,100.9 L943.8,101.5 L943.2,102.1 L942.6,102.7 L942,103.3 L941.4,103.9 L940.8,104.5 L940.2,105.1 L939.7,105.7 L939.1,106.3 L938.5,107 L937.9,107.6 L937.3,108.2 L936.8,108.9 L936.2,109.5 L935.6,110.2 L935,110.8 L934.4,111.5 L933.8,112.2 L933.2,112.9 L932.7,113.5 L932.1,114.2 L931.5,114.9 L930.9,115.6 L930.3,116.3 L929.8,117 L929.2,117.7 L928.6,118.4 L928,119.1 L927.4,119.8 L926.8,120.6 L926.2,121.3 L925.7,122 L925.1,122.8 L924.5,123.5 L923.9,124.3 L923.3,125 L922.8,125.8 L922.2,126.5 L921.6,127.3 L921,128.1 L920.4,128.8 L919.8,129.6 L919.2,130.4 L918.7,131.2 L918.1,132 L917.5,132.8 L916.9,133.6 L916.3,134.4 L915.8,135.2 L915.2,136 L914.6,136.8 L914,137.6 L913.4,138.4 L912.8,139.3 L912.2,140.1 L911.7,140.9 L911.1,141.8 L910.5,142.6 L909.9,143.5 L909.3,144.3 L908.8,145.2 L908.2,146.1 L907.6,146.9 L907,147.8 L906.4,148.7 L905.8,149.7 L905.1,150.7 L904.4,151.7 L903.7,152.8 L903.1,153.8 L902.4,154.8 L901.8,155.7 L901.3,156.6 L900.8,157.4 L900.3,158 L900,158.5 Z" fill="#989898" fill-opacity="0.56"/>
<path d="M900,148.5 C901.2,146.9 904.7,141.7 907,138.4 C909.3,135.1 911.7,131.9 914,128.8 C916.3,125.7 918.7,122.7 921,119.8 C923.3,116.9 925.7,114 928,111.3 C930.3,108.6 932.7,106 935,103.4 C937.3,100.9 939.7,98.5 942,96.2 C944.3,93.9 946.7,91.7 949,89.6 C951.3,87.6 953.7,85.6 956,83.8 C958.3,82 960.7,80.2 963,78.7 C965.3,77.1 967.7,75.6 970,74.3 C972.3,73 974.7,71.8 977,70.7 C979.3,69.6 981.7,68.7 984,67.9 C986.3,67.1 988.7,66.5 991,66 C993.3,65.5 995.7,65.2 998,65 C1000.3,64.8 1002.7,64.7 1005,64.8 C1007.3,64.9 1009.7,65.2 1012,65.5 C1014.3,65.9 1016.7,66.5 1019,67.1 C1021.3,67.8 1023.7,68.6 1026,69.5 C1028.3,70.5 1030.7,71.6 1033,72.8 C1035.3,74 1037.7,75.3 1040,76.7 C1042.3,78.2 1044.7,79.8 1047,81.4 C1049.3,83.1 1051.7,84.9 1054,86.9 C1056.3,88.8 1058.7,90.8 1061,93 C1063.3,95.1 1065.7,97.4 1068,99.7 C1070.3,102.1 1072.7,104.5 1075,107.1 C1077.3,109.6 1079.7,112.3 1082,115 C1084.3,117.7 1086.7,120.6 1089,123.4 C1091.3,126.3 1093.7,129.3 1096,132.3 C1098.3,135.3 1100.7,138.3 1103,141.4 C1105.3,144.5 1107.7,147.7 1110,150.9 C1112.3,154.1 1114.7,157.3 1117,160.5 C1119.3,163.8 1121.7,167.1 1124,170.3 C1126.3,173.6 1128.7,176.9 1131,180.2 C1133.3,183.5 1135.7,186.8 1138,190.1 C1140.3,193.3 1142.7,196.6 1145,199.9 C1147.3,203.1 1149.7,206.3 1152,209.5 C1154.3,212.7 1156.7,215.8 1159,218.9 C1161.3,222 1163.7,225.1 1166,228.1 C1168.3,231.1 1170.7,234 1173,236.9 C1175.3,239.7 1177.7,242.5 1180,245.2 C1182.3,247.9 1184.7,250.6 1187,253.1 C1189.3,255.6 1191.7,258.1 1194,260.4 C1196.3,262.8 1198.7,265 1201,267.1 C1203.3,269.2 1205.7,271.2 1208,273.1 C1210.3,275 1212.7,276.7 1215,278.4 C1217.3,280 1219.7,281.6 1222,283 C1224.3,284.4 1226.7,285.7 1229,286.9 C1231.3,288.1 1233.7,289.2 1236,290.1 C1238.3,291.1 1240.7,291.9 1243,292.7 C1245.3,293.4 1247.7,294.1 1250,294.6 C1252.3,295.1 1254.7,295.5 1257,295.9 C1259.3,296.2 1261.7,296.4 1264,296.5 C1266.3,296.6 1268.7,296.6 1271,296.4 C1273.3,296.3 1275.7,296.1 1278,295.8 C1280.3,295.5 1282.7,295.1 1285,294.5 C1287.3,294 1289.7,293.4 1292,292.6 C1294.3,291.9 1296.7,291.1 1299,290.2 C1301.3,289.2 1303.7,288.2 1306,287.1 C1308.3,286 1310.7,284.7 1313,283.4 C1315.3,282.1 1318.8,279.9 1320,279.2" fill="none" stroke="#E7A332" stroke-width="11"/>
<path d="M899.8,165.4 L920.8,128.8 L941.8,91.4 L962.8,47 L983.8,19.5 L1004.8,87.9 L1025.8,138.7 L1046.8,111.4 L1067.8,57.1 L1088.8,80.9 L1109.8,190 L1130.8,178.9 L1151.8,254.8 L1172.8,220 L1193.8,271.5 L1214.8,196 L1235.8,305 L1256.8,355.7 L1277.8,349.3 L1298.8,244 L1319.8,267.5" fill="none" stroke="#0c0c14" stroke-opacity="0.8" stroke-width="5.2" stroke-linejoin="round" stroke-linecap="butt"/>
</g>
<g clip-path="url(#c01)">
<g fill="#4358A9" stroke="#3A50B4" stroke-width="1"><circle cx="214.4" cy="686.5" r="18"/><circle cx="235.4" cy="755.1" r="18"/><circle cx="256.4" cy="713.1" r="18"/><circle cx="277.4" cy="421.8" r="18"/><circle cx="298.4" cy="441.4" r="18"/><circle cx="319.4" cy="540.9" r="18"/><circle cx="340.4" cy="526.8" r="18"/><circle cx="361.4" cy="563.3" r="18"/><circle cx="382.4" cy="595.5" r="18"/><circle cx="403.4" cy="699.1" r="18"/><circle cx="424.4" cy="483.4" r="18"/><circle cx="445.4" cy="620.6" r="18"/><circle cx="466.4" cy="543.6" r="18"/><circle cx="487.4" cy="574.4" r="18"/><circle cx="508.4" cy="699" r="18"/><circle cx="529.4" cy="483.4" r="18"/><circle cx="550.4" cy="510" r="18"/><circle cx="571.4" cy="601" r="18"/><circle cx="592.4" cy="435.8" r="18"/><circle cx="613.4" cy="531.5" r="18"/><circle cx="634.4" cy="525.4" r="18"/></g>
<g fill="#4358A9"><circle cx="214.4" cy="686.5" r="18"/><circle cx="235.4" cy="755.1" r="18"/><circle cx="256.4" cy="713.1" r="18"/><circle cx="277.4" cy="421.8" r="18"/><circle cx="298.4" cy="441.4" r="18"/><circle cx="319.4" cy="540.9" r="18"/><circle cx="340.4" cy="526.8" r="18"/><circle cx="361.4" cy="563.3" r="18"/><circle cx="382.4" cy="595.5" r="18"/><circle cx="403.4" cy="699.1" r="18"/><circle cx="424.4" cy="483.4" r="18"/><circle cx="445.4" cy="620.6" r="18"/><circle cx="466.4" cy="543.6" r="18"/><circle cx="487.4" cy="574.4" r="18"/><circle cx="508.4" cy="699" r="18"/><circle cx="529.4" cy="483.4" r="18"/><circle cx="550.4" cy="510" r="18"/><circle cx="571.4" cy="601" r="18"/><circle cx="592.4" cy="435.8" r="18"/><circle cx="613.4" cy="531.5" r="18"/><circle cx="634.4" cy="525.4" r="18"/></g>
<path d="M214.9,719.5 L215.2,718.5 L215.7,717.4 L216.2,716.1 L216.7,714.5 L217.3,712.9 L218,711.2 L218.6,709.4 L219.3,707.5 L220,705.7 L220.6,703.9 L221.3,702.1 L221.9,700.4 L222.5,698.8 L223.1,697.2 L223.6,695.6 L224.2,694 L224.8,692.4 L225.4,690.7 L226,689.1 L226.6,687.5 L227.1,685.9 L227.7,684.2 L228.3,682.6 L228.9,681 L229.5,679.3 L230,677.7 L230.6,676 L231.2,674.4 L231.8,672.8 L232.4,671.1 L233,669.5 L233.5,667.8 L234.1,666.2 L234.7,664.6 L235.3,662.9 L235.9,661.3 L236.5,659.6 L237,658 L237.6,656.4 L238.2,654.7 L238.8,653.1 L239.4,651.4 L240,649.8 L240.5,648.2 L241.1,646.5 L241.7,644.9 L242.3,643.3 L242.9,641.6 L243.4,640 L244,638.4 L244.6,636.8 L245.2,635.1 L245.8,633.5 L246.4,631.9 L246.9,630.3 L247.5,628.7 L248.1,627.1 L248.7,625.5 L249.3,623.9 L249.9,622.3 L250.4,620.7 L251,619.1 L251.6,617.5 L252.2,615.9 L252.8,614.3 L253.4,612.8 L253.9,611.2 L254.5,609.6 L255.1,608.1 L255.7,606.5 L256.3,605 L256.9,603.4 L257.4,601.9 L258,600.4 L258.6,598.8 L259.2,597.3 L259.8,595.8 L260.3,594.3 L260.9,592.8 L261.5,591.3 L262.1,589.8 L262.7,588.3 L263.3,586.8 L263.8,585.4 L264.4,583.9 L265,582.4 L265.6,581 L266.2,579.5 L266.8,578.1 L267.3,576.7 L267.9,575.3 L268.5,573.8 L269.1,572.4 L269.7,571 L270.3,569.6 L270.8,568.3 L271.4,566.9 L272,565.5 L272.6,564.2 L273.2,562.8 L273.7,561.5 L274.3,560.2 L274.9,558.8 L275.5,557.5 L276.1,556.2 L276.7,554.9 L277.2,553.7 L277.8,552.4 L278.4,551.1 L279,549.9 L279.6,548.6 L280.2,547.4 L280.7,546.2 L281.3,545 L281.9,543.8 L282.5,542.6 L283.1,541.4 L283.7,540.2 L284.2,539.1 L284.8,537.9 L285.4,536.8 L286,535.7 L286.6,534.6 L287.1,533.5 L287.7,532.4 L288.3,531.3 L288.9,530.3 L289.5,529.2 L290.1,528.2 L290.6,527.1 L291.2,526.1 L291.8,525.1 L292.4,524.2 L293,523.2 L293.6,522.2 L294.1,521.3 L294.7,520.4 L295.3,519.5 L295.9,518.6 L296.5,517.7 L297.1,516.8 L297.6,516 L298.2,515.1 L298.8,514.3 L299.4,513.5 L300,512.7 L300.5,511.9 L301.1,511.2 L301.7,510.4 L302.3,509.7 L302.9,509 L303.5,508.3 L304,507.6 L304.6,506.9 L305.2,506.3 L305.8,505.7 L306.4,505 L307,504.5 L307.5,503.9 L308.1,503.3 L308.7,502.8 L309.3,502.3 L309.9,501.8 L310.5,501.3 L311,500.8 L311.6,500.4 L312.2,500 L312.8,499.6 L313.4,499.2 L313.9,498.8 L314.5,498.5 L315.1,498.2 L315.7,497.9 L316.3,497.6 L316.9,497.4 L317.4,497.1 L318,496.9 L318.6,496.7 L319.2,496.5 L319.8,496.4 L320.4,496.2 L320.9,496.1 L321.5,496 L322.1,495.9 L322.7,495.9 L323.3,495.8 L323.9,495.8 L324.4,495.8 L325,495.9 L325.6,495.9 L326.2,495.9 L326.8,496 L327.3,496.1 L327.9,496.2 L328.5,496.3 L329.1,496.5 L329.7,496.6 L330.3,496.8 L330.8,497 L331.4,497.2 L332,497.5 L332.6,497.7 L333.2,498 L333.8,498.2 L334.3,498.5 L334.9,498.8 L335.5,499.2 L336.1,499.5 L336.7,499.8 L337.3,500.2 L337.8,500.6 L338.4,501 L339,501.4 L339.6,501.8 L340.2,502.3 L340.8,502.7 L341.3,503.2 L341.9,503.7 L342.5,504.1 L343.1,504.6 L343.7,505.2 L344.2,505.7 L344.8,506.2 L345.4,506.8 L346,507.3 L346.6,507.9 L347.2,508.5 L347.7,509.1 L348.3,509.7 L348.9,510.3 L349.5,510.9 L350.1,511.5 L350.7,512.2 L351.2,512.8 L351.8,513.5 L352.4,514.2 L353,514.8 L353.6,515.5 L354.2,516.2 L354.7,516.9 L355.3,517.6 L355.9,518.3 L356.5,519 L357.1,519.8 L357.6,520.5 L358.2,521.2 L358.8,522 L359.4,522.7 L360,523.5 L360.6,524.2 L361.1,525 L361.7,525.8 L362.3,526.6 L362.9,527.3 L363.5,528.1 L364.1,528.9 L364.6,529.7 L365.2,530.5 L365.8,531.3 L366.4,532.1 L367,532.9 L367.6,533.7 L368.1,534.5 L368.7,535.4 L369.3,536.2 L369.9,537 L370.5,537.8 L371,538.6 L371.6,539.5 L372.2,540.3 L372.8,541.1 L373.4,542 L374,542.8 L374.5,543.6 L375.1,544.5 L375.7,545.3 L376.3,546.1 L376.9,547 L377.5,547.8 L378,548.6 L378.6,549.5 L379.2,550.3 L379.8,551.1 L380.4,552 L381,552.8 L381.5,553.6 L382.1,554.5 L382.7,555.3 L383.3,556.1 L383.9,556.9 L384.4,557.8 L385,558.6 L385.6,559.4 L386.2,560.2 L386.8,561.1 L387.4,561.9 L387.9,562.7 L388.5,563.5 L389.1,564.3 L389.7,565.1 L390.3,565.9 L390.9,566.7 L391.4,567.5 L392,568.2 L392.6,569 L393.2,569.8 L393.8,570.6 L394.4,571.3 L394.9,572.1 L395.5,572.9 L396.1,573.6 L396.7,574.3 L397.3,575.1 L397.8,575.8 L398.4,576.5 L399,577.3 L399.6,578 L400.2,578.7 L400.8,579.4 L401.3,580.1 L401.9,580.8 L402.5,581.5 L403.1,582.2 L403.7,582.8 L404.3,583.5 L404.8,584.1 L405.4,584.8 L406,585.4 L406.6,586 L407.2,586.7 L407.8,587.3 L408.3,587.9 L408.9,588.5 L409.5,589.1 L410.1,589.6 L410.7,590.2 L411.2,590.8 L411.8,591.3 L412.4,591.8 L413,592.4 L413.6,592.9 L414.2,593.4 L414.7,593.9 L415.3,594.4 L415.9,594.8 L416.5,595.3 L417.1,595.7 L417.7,596.2 L418.2,596.6 L418.8,597 L419.4,597.4 L420,597.8 L420.6,598.2 L421.2,598.6 L421.7,598.9 L422.3,599.3 L422.9,599.6 L423.5,599.9 L424.1,600.2 L424.6,600.5 L425.2,600.8 L425.8,601.1 L426.4,601.3 L427,601.6 L427.6,601.8 L428.1,602.1 L428.7,602.3 L429.3,602.5 L429.9,602.7 L430.5,602.9 L431.1,603.1 L431.6,603.2 L432.2,603.4 L432.8,603.5 L433.4,603.7 L434,603.8 L434.6,603.9 L435.1,604 L435.7,604.1 L436.3,604.2 L436.9,604.2 L437.5,604.3 L438.1,604.4 L438.6,604.4 L439.2,604.4 L439.8,604.5 L440.4,604.5 L441,604.5 L441.5,604.5 L442.1,604.4 L442.7,604.4 L443.3,604.4 L443.9,604.3 L444.5,604.3 L445,604.2 L445.6,604.2 L446.2,604.1 L446.8,604 L447.4,603.9 L448,603.8 L448.5,603.7 L449.1,603.5 L449.7,603.4 L450.3,603.3 L450.9,603.1 L451.5,602.9 L452,602.8 L452.6,602.6 L453.2,602.4 L453.8,602.2 L454.4,602 L454.9,601.8 L455.5,601.6 L456.1,601.4 L456.7,601.1 L457.3,600.9 L457.9,600.6 L458.4,600.4 L459,600.1 L459.6,599.8 L460.2,599.6 L460.8,599.3 L461.4,599 L461.9,598.7 L462.5,598.4 L463.1,598 L463.7,597.7 L464.3,597.4 L464.9,597 L465.4,596.7 L466,596.3 L466.6,596 L467.2,595.6 L467.8,595.2 L468.3,594.8 L468.9,594.4 L469.5,594 L470.1,593.6 L470.7,593.2 L471.3,592.8 L471.8,592.4 L472.4,592 L473,591.5 L473.6,591.1 L474.2,590.6 L474.8,590.2 L475.3,589.7 L475.9,589.3 L476.5,588.8 L477.1,588.3 L477.7,587.8 L478.3,587.3 L478.8,586.8 L479.4,586.3 L480,585.8 L480.6,585.3 L481.2,584.8 L481.7,584.3 L482.3,583.7 L482.9,583.2 L483.5,582.7 L484.1,582.1 L484.7,581.6 L485.2,581 L485.8,580.5 L486.4,579.9 L487,579.3 L487.6,578.8 L488.2,578.2 L488.7,577.6 L489.3,577 L489.9,576.5 L490.5,575.9 L491.1,575.3 L491.7,574.7 L492.2,574.1 L492.8,573.5 L493.4,572.9 L494,572.3 L494.6,571.6 L495.1,571 L495.7,570.4 L496.3,569.8 L496.9,569.2 L497.5,568.6 L498.1,567.9 L498.6,567.3 L499.2,566.7 L499.8,566.1 L500.4,565.4 L501,564.8 L501.6,564.2 L502.1,563.6 L502.7,562.9 L503.3,562.3 L503.9,561.7 L504.5,561 L505.1,560.4 L505.6,559.8 L506.2,559.1 L506.8,558.5 L507.4,557.9 L508,557.2 L508.5,556.6 L509.1,556 L509.7,555.4 L510.3,554.7 L510.9,554.1 L511.5,553.5 L512,552.9 L512.6,552.2 L513.2,551.6 L513.8,551 L514.4,550.4 L515,549.8 L515.5,549.2 L516.1,548.6 L516.7,548 L517.3,547.4 L517.9,546.8 L518.5,546.2 L519,545.6 L519.6,545 L520.2,544.4 L520.8,543.8 L521.4,543.2 L522,542.7 L522.5,542.1 L523.1,541.5 L523.7,541 L524.3,540.4 L524.9,539.9 L525.4,539.3 L526,538.8 L526.6,538.2 L527.2,537.7 L527.8,537.1 L528.4,536.6 L528.9,536.1 L529.5,535.6 L530.1,535.1 L530.7,534.6 L531.3,534.1 L531.9,533.6 L532.4,533.1 L533,532.6 L533.6,532.1 L534.2,531.7 L534.8,531.2 L535.4,530.7 L535.9,530.3 L536.5,529.8 L537.1,529.4 L537.7,528.9 L538.3,528.5 L538.8,528.1 L539.4,527.7 L540,527.2 L540.6,526.8 L541.2,526.4 L541.8,526 L542.3,525.6 L542.9,525.2 L543.5,524.8 L544.1,524.4 L544.7,524 L545.3,523.6 L545.8,523.3 L546.4,522.9 L547,522.5 L547.6,522.2 L548.2,521.8 L548.8,521.5 L549.3,521.1 L549.9,520.8 L550.5,520.4 L551.1,520.1 L551.7,519.8 L552.2,519.4 L552.8,519.1 L553.4,518.8 L554,518.5 L554.6,518.2 L555.2,517.8 L555.7,517.5 L556.3,517.2 L556.9,516.9 L557.5,516.7 L558.1,516.4 L558.7,516.1 L559.2,515.8 L559.8,515.5 L560.4,515.2 L561,515 L561.6,514.7 L562.2,514.4 L562.7,514.2 L563.3,513.9 L563.9,513.7 L564.5,513.4 L565.1,513.2 L565.6,512.9 L566.2,512.7 L566.8,512.5 L567.4,512.2 L568,512 L568.6,511.8 L569.1,511.6 L569.7,511.3 L570.3,511.1 L570.9,510.9 L571.5,510.7 L572.1,510.5 L572.6,510.3 L573.2,510.1 L573.8,509.9 L574.4,509.7 L575,509.5 L575.6,509.3 L576.1,509.1 L576.7,508.9 L577.3,508.7 L577.9,508.6 L578.5,508.4 L579,508.2 L579.6,508 L580.2,507.9 L580.8,507.7 L581.4,507.5 L582,507.4 L582.5,507.2 L583.1,507 L583.7,506.9 L584.3,506.7 L584.9,506.6 L585.5,506.4 L586,506.3 L586.6,506.1 L587.2,506 L587.8,505.8 L588.4,505.7 L589,505.6 L589.5,505.4 L590.1,505.3 L590.7,505.2 L591.3,505 L591.9,504.9 L592.4,504.8 L593,504.7 L593.6,504.5 L594.2,504.4 L594.8,504.3 L595.4,504.2 L595.9,504.1 L596.5,503.9 L597.1,503.8 L597.7,503.7 L598.3,503.6 L598.9,503.5 L599.4,503.4 L600,503.3 L600.6,503.2 L601.2,503.1 L601.8,503 L602.4,502.9 L602.9,502.8 L603.5,502.7 L604.1,502.6 L604.7,502.5 L605.3,502.4 L605.9,502.3 L606.4,502.2 L607,502.1 L607.6,502 L608.2,501.9 L608.8,501.8 L609.3,501.7 L609.9,501.6 L610.5,501.5 L611.1,501.4 L611.7,501.3 L612.3,501.3 L612.8,501.2 L613.4,501.1 L614,501 L614.6,500.9 L615.2,500.8 L615.8,500.7 L616.3,500.7 L616.9,500.6 L617.5,500.5 L618.1,500.4 L618.7,500.3 L619.3,500.2 L619.8,500.1 L620.4,500.1 L621,500 L621.6,499.9 L622.2,499.8 L622.7,499.7 L623.3,499.6 L623.9,499.5 L624.5,499.5 L625.1,499.4 L625.7,499.3 L626.2,499.2 L626.8,499.1 L627.4,499 L628.1,498.9 L628.8,498.8 L629.5,498.7 L630.2,498.6 L631,498.5 L631.7,498.4 L632.4,498.3 L633,498.2 L633.6,498.1 L634,498 L634.4,497.9 L634.4,533.9 L634,533.9 L633.6,533.7 L633,533.6 L632.4,533.5 L631.7,533.3 L631,533.1 L630.2,533 L629.5,532.8 L628.8,532.7 L628.1,532.5 L627.4,532.4 L626.8,532.2 L626.2,532.1 L625.7,532 L625.1,531.9 L624.5,531.8 L623.9,531.7 L623.3,531.5 L622.7,531.4 L622.2,531.3 L621.6,531.2 L621,531.1 L620.4,531 L619.8,530.9 L619.3,530.8 L618.7,530.7 L618.1,530.6 L617.5,530.5 L616.9,530.4 L616.3,530.3 L615.8,530.2 L615.2,530.1 L614.6,530 L614,529.9 L613.4,529.9 L612.8,529.8 L612.3,529.7 L611.7,529.6 L611.1,529.5 L610.5,529.5 L609.9,529.4 L609.3,529.3 L608.8,529.3 L608.2,529.2 L607.6,529.1 L607,529.1 L606.4,529 L605.9,529 L605.3,528.9 L604.7,528.9 L604.1,528.8 L603.5,528.8 L602.9,528.7 L602.4,528.7 L601.8,528.6 L601.2,528.6 L600.6,528.6 L600,528.5 L599.4,528.5 L598.9,528.5 L598.3,528.5 L597.7,528.4 L597.1,528.4 L596.5,528.4 L595.9,528.4 L595.4,528.4 L594.8,528.4 L594.2,528.4 L593.6,528.4 L593,528.4 L592.4,528.4 L591.9,528.4 L591.3,528.4 L590.7,528.4 L590.1,528.4 L589.5,528.5 L589,528.5 L588.4,528.5 L587.8,528.5 L587.2,528.6 L586.6,528.6 L586,528.6 L585.5,528.7 L584.9,528.7 L584.3,528.8 L583.7,528.8 L583.1,528.9 L582.5,528.9 L582,529 L581.4,529.1 L580.8,529.1 L580.2,529.2 L579.6,529.3 L579,529.4 L578.5,529.4 L577.9,529.5 L577.3,529.6 L576.7,529.7 L576.1,529.8 L575.6,529.9 L575,530 L574.4,530.1 L573.8,530.2 L573.2,530.4 L572.6,530.5 L572.1,530.6 L571.5,530.7 L570.9,530.9 L570.3,531 L569.7,531.1 L569.1,531.3 L568.6,531.4 L568,531.6 L567.4,531.7 L566.8,531.9 L566.2,532.1 L565.6,532.2 L565.1,532.4 L564.5,532.6 L563.9,532.8 L563.3,532.9 L562.7,533.1 L562.2,533.3 L561.6,533.5 L561,533.7 L560.4,533.9 L559.8,534.1 L559.2,534.4 L558.7,534.6 L558.1,534.8 L557.5,535 L556.9,535.3 L556.3,535.5 L555.7,535.7 L555.2,536 L554.6,536.2 L554,536.5 L553.4,536.8 L552.8,537 L552.2,537.3 L551.7,537.6 L551.1,537.9 L550.5,538.1 L549.9,538.4 L549.3,538.7 L548.8,539 L548.2,539.3 L547.6,539.6 L547,540 L546.4,540.3 L545.8,540.6 L545.3,540.9 L544.7,541.3 L544.1,541.6 L543.5,542 L542.9,542.3 L542.3,542.7 L541.8,543 L541.2,543.4 L540.6,543.8 L540,544.2 L539.4,544.5 L538.8,544.9 L538.3,545.3 L537.7,545.7 L537.1,546.1 L536.5,546.5 L535.9,546.9 L535.4,547.4 L534.8,547.8 L534.2,548.2 L533.6,548.7 L533,549.1 L532.4,549.6 L531.9,550 L531.3,550.5 L530.7,550.9 L530.1,551.4 L529.5,551.9 L528.9,552.4 L528.4,552.9 L527.8,553.4 L527.2,553.9 L526.6,554.4 L526,554.9 L525.4,555.4 L524.9,555.9 L524.3,556.5 L523.7,557 L523.1,557.5 L522.5,558.1 L522,558.6 L521.4,559.2 L520.8,559.7 L520.2,560.3 L519.6,560.9 L519,561.4 L518.5,562 L517.9,562.6 L517.3,563.2 L516.7,563.7 L516.1,564.3 L515.5,564.9 L515,565.5 L514.4,566.1 L513.8,566.7 L513.2,567.3 L512.6,567.9 L512,568.5 L511.5,569.1 L510.9,569.7 L510.3,570.3 L509.7,570.9 L509.1,571.5 L508.5,572.2 L508,572.8 L507.4,573.4 L506.8,574 L506.2,574.6 L505.6,575.2 L505.1,575.9 L504.5,576.5 L503.9,577.1 L503.3,577.7 L502.7,578.3 L502.1,579 L501.6,579.6 L501,580.2 L500.4,580.8 L499.8,581.4 L499.2,582 L498.6,582.6 L498.1,583.3 L497.5,583.9 L496.9,584.5 L496.3,585.1 L495.7,585.7 L495.1,586.3 L494.6,586.9 L494,587.5 L493.4,588.1 L492.8,588.7 L492.2,589.3 L491.7,589.9 L491.1,590.5 L490.5,591.1 L489.9,591.6 L489.3,592.2 L488.7,592.8 L488.2,593.4 L487.6,593.9 L487,594.5 L486.4,595.1 L485.8,595.6 L485.2,596.2 L484.7,596.7 L484.1,597.3 L483.5,597.8 L482.9,598.3 L482.3,598.9 L481.7,599.4 L481.2,599.9 L480.6,600.4 L480,600.9 L479.4,601.4 L478.8,601.9 L478.3,602.4 L477.7,602.9 L477.1,603.4 L476.5,603.9 L475.9,604.3 L475.3,604.8 L474.8,605.3 L474.2,605.7 L473.6,606.2 L473,606.6 L472.4,607 L471.8,607.4 L471.3,607.9 L470.7,608.3 L470.1,608.7 L469.5,609.1 L468.9,609.5 L468.3,609.9 L467.8,610.3 L467.2,610.6 L466.6,611 L466,611.4 L465.4,611.7 L464.9,612.1 L464.3,612.4 L463.7,612.7 L463.1,613.1 L462.5,613.4 L461.9,613.7 L461.4,614 L460.8,614.3 L460.2,614.6 L459.6,614.9 L459,615.1 L458.4,615.4 L457.9,615.6 L457.3,615.9 L456.7,616.1 L456.1,616.4 L455.5,616.6 L454.9,616.8 L454.4,617 L453.8,617.2 L453.2,617.4 L452.6,617.6 L452,617.8 L451.5,617.9 L450.9,618.1 L450.3,618.3 L449.7,618.4 L449.1,618.5 L448.5,618.7 L448,618.8 L447.4,618.9 L446.8,619 L446.2,619.1 L445.6,619.2 L445,619.2 L444.5,619.3 L443.9,619.3 L443.3,619.4 L442.7,619.4 L442.1,619.4 L441.5,619.5 L441,619.5 L440.4,619.5 L439.8,619.5 L439.2,619.4 L438.6,619.4 L438.1,619.4 L437.5,619.3 L436.9,619.2 L436.3,619.2 L435.7,619.1 L435.1,619 L434.6,618.9 L434,618.8 L433.4,618.7 L432.8,618.5 L432.2,618.4 L431.6,618.2 L431.1,618.1 L430.5,617.9 L429.9,617.7 L429.3,617.5 L428.7,617.3 L428.1,617.1 L427.6,616.8 L427,616.6 L426.4,616.3 L425.8,616.1 L425.2,615.8 L424.6,615.5 L424.1,615.2 L423.5,614.9 L422.9,614.6 L422.3,614.3 L421.7,613.9 L421.2,613.6 L420.6,613.2 L420,612.8 L419.4,612.4 L418.8,612 L418.2,611.6 L417.7,611.2 L417.1,610.8 L416.5,610.3 L415.9,609.8 L415.3,609.4 L414.7,608.9 L414.2,608.4 L413.6,607.9 L413,607.4 L412.4,606.8 L411.8,606.3 L411.2,605.8 L410.7,605.2 L410.1,604.7 L409.5,604.1 L408.9,603.5 L408.3,602.9 L407.8,602.3 L407.2,601.7 L406.6,601.1 L406,600.4 L405.4,599.8 L404.8,599.2 L404.3,598.5 L403.7,597.9 L403.1,597.2 L402.5,596.5 L401.9,595.9 L401.3,595.2 L400.8,594.5 L400.2,593.8 L399.6,593.1 L399,592.3 L398.4,591.6 L397.8,590.9 L397.3,590.2 L396.7,589.4 L396.1,588.7 L395.5,588 L394.9,587.2 L394.4,586.5 L393.8,585.7 L393.2,584.9 L392.6,584.2 L392,583.4 L391.4,582.6 L390.9,581.9 L390.3,581.1 L389.7,580.3 L389.1,579.5 L388.5,578.7 L387.9,577.9 L387.4,577.2 L386.8,576.4 L386.2,575.6 L385.6,574.8 L385,574 L384.4,573.2 L383.9,572.4 L383.3,571.6 L382.7,570.8 L382.1,570 L381.5,569.2 L381,568.4 L380.4,567.6 L379.8,566.8 L379.2,565.9 L378.6,565.1 L378,564.3 L377.5,563.5 L376.9,562.8 L376.3,562 L375.7,561.2 L375.1,560.4 L374.5,559.6 L374,558.8 L373.4,558 L372.8,557.2 L372.2,556.5 L371.6,555.7 L371,554.9 L370.5,554.1 L369.9,553.4 L369.3,552.6 L368.7,551.9 L368.1,551.1 L367.6,550.4 L367,549.6 L366.4,548.9 L365.8,548.1 L365.2,547.4 L364.6,546.7 L364.1,546 L363.5,545.3 L362.9,544.5 L362.3,543.8 L361.7,543.2 L361.1,542.5 L360.6,541.8 L360,541.1 L359.4,540.4 L358.8,539.8 L358.2,539.1 L357.6,538.5 L357.1,537.8 L356.5,537.2 L355.9,536.6 L355.3,536 L354.7,535.4 L354.2,534.8 L353.6,534.2 L353,533.6 L352.4,533 L351.8,532.4 L351.2,531.9 L350.7,531.3 L350.1,530.8 L349.5,530.3 L348.9,529.7 L348.3,529.2 L347.7,528.7 L347.2,528.2 L346.6,527.7 L346,527.3 L345.4,526.8 L344.8,526.4 L344.2,525.9 L343.7,525.5 L343.1,525 L342.5,524.6 L341.9,524.2 L341.3,523.8 L340.8,523.5 L340.2,523.1 L339.6,522.7 L339,522.4 L338.4,522.1 L337.8,521.7 L337.3,521.4 L336.7,521.1 L336.1,520.8 L335.5,520.6 L334.9,520.3 L334.3,520 L333.8,519.8 L333.2,519.6 L332.6,519.4 L332,519.2 L331.4,519 L330.8,518.8 L330.3,518.7 L329.7,518.5 L329.1,518.4 L328.5,518.3 L327.9,518.2 L327.3,518.1 L326.8,518 L326.2,517.9 L325.6,517.9 L325,517.9 L324.4,517.9 L323.9,517.9 L323.3,517.9 L322.7,517.9 L322.1,517.9 L321.5,518 L320.9,518.1 L320.4,518.2 L319.8,518.3 L319.2,518.5 L318.6,518.6 L318,518.8 L317.4,519 L316.9,519.2 L316.3,519.4 L315.7,519.6 L315.1,519.9 L314.5,520.2 L313.9,520.5 L313.4,520.8 L312.8,521.1 L312.2,521.5 L311.6,521.9 L311,522.3 L310.5,522.7 L309.9,523.1 L309.3,523.6 L308.7,524 L308.1,524.5 L307.5,525 L307,525.6 L306.4,526.1 L305.8,526.7 L305.2,527.2 L304.6,527.8 L304,528.5 L303.5,529.1 L302.9,529.7 L302.3,530.4 L301.7,531.1 L301.1,531.8 L300.5,532.5 L300,533.3 L299.4,534 L298.8,534.8 L298.2,535.6 L297.6,536.4 L297.1,537.2 L296.5,538.1 L295.9,538.9 L295.3,539.8 L294.7,540.7 L294.1,541.6 L293.6,542.5 L293,543.5 L292.4,544.4 L291.8,545.4 L291.2,546.4 L290.6,547.4 L290.1,548.4 L289.5,549.4 L288.9,550.5 L288.3,551.5 L287.7,552.6 L287.1,553.7 L286.6,554.8 L286,555.9 L285.4,557.1 L284.8,558.2 L284.2,559.4 L283.7,560.5 L283.1,561.7 L282.5,562.9 L281.9,564.2 L281.3,565.4 L280.7,566.6 L280.2,567.9 L279.6,569.2 L279,570.5 L278.4,571.8 L277.8,573.1 L277.2,574.4 L276.7,575.7 L276.1,577.1 L275.5,578.4 L274.9,579.8 L274.3,581.2 L273.7,582.6 L273.2,584 L272.6,585.4 L272,586.8 L271.4,588.2 L270.8,589.7 L270.3,591.1 L269.7,592.6 L269.1,594.1 L268.5,595.5 L267.9,597 L267.3,598.5 L266.8,600.1 L266.2,601.6 L265.6,603.1 L265,604.7 L264.4,606.2 L263.8,607.8 L263.3,609.3 L262.7,610.9 L262.1,612.5 L261.5,614.1 L260.9,615.7 L260.3,617.3 L259.8,618.9 L259.2,620.5 L258.6,622.2 L258,623.8 L257.4,625.5 L256.9,627.1 L256.3,628.8 L255.7,630.4 L255.1,632.1 L254.5,633.8 L253.9,635.5 L253.4,637.2 L252.8,638.9 L252.2,640.6 L251.6,642.3 L251,644 L250.4,645.7 L249.9,647.4 L249.3,649.2 L248.7,650.9 L248.1,652.6 L247.5,654.4 L246.9,656.1 L246.4,657.9 L245.8,659.6 L245.2,661.4 L244.6,663.2 L244,664.9 L243.4,666.7 L242.9,668.5 L242.3,670.3 L241.7,672.1 L241.1,673.8 L240.5,675.6 L240,677.4 L239.4,679.2 L238.8,681 L238.2,682.8 L237.6,684.6 L237,686.4 L236.5,688.2 L235.9,690.1 L235.3,691.9 L234.7,693.7 L234.1,695.5 L233.5,697.3 L233,699.1 L232.4,701 L231.8,702.8 L231.2,704.6 L230.6,706.4 L230,708.2 L229.5,710.1 L228.9,711.9 L228.3,713.7 L227.7,715.5 L227.1,717.4 L226.6,719.2 L226,721 L225.4,722.8 L224.8,724.7 L224.2,726.5 L223.6,728.3 L223.1,730.1 L222.5,732 L221.9,733.8 L221.3,735.7 L220.6,737.6 L220,739.7 L219.3,741.8 L218.6,743.9 L218,746 L217.3,748 L216.7,749.8 L216.2,751.6 L215.7,753.1 L215.2,754.4 L214.9,755.5 Z" fill="#989898" fill-opacity="0.56"/>
<path d="M214.9,737.5 C216.1,734.1 219.6,723.9 221.9,717.1 C224.2,710.3 226.6,703.3 228.9,696.4 C231.2,689.5 233.5,682.6 235.9,675.7 C238.2,668.8 240.5,661.9 242.9,655.1 C245.2,648.3 247.5,641.5 249.9,634.8 C252.2,628.2 254.5,621.6 256.9,615.3 C259.2,608.9 261.5,602.6 263.8,596.6 C266.2,590.5 268.5,584.6 270.8,579 C273.2,573.3 275.5,567.9 277.8,562.7 C280.2,557.6 282.5,552.6 284.8,548.1 C287.1,543.5 289.5,539.2 291.8,535.3 C294.1,531.3 296.5,527.7 298.8,524.5 C301.1,521.4 303.5,518.5 305.8,516.2 C308.1,513.8 310.5,511.8 312.8,510.4 C315.1,508.9 317.4,507.9 319.8,507.3 C322.1,506.8 324.4,506.7 326.8,507 C329.1,507.3 331.4,508 333.8,509 C336.1,510 338.4,511.4 340.8,513.1 C343.1,514.7 345.4,516.7 347.7,518.9 C350.1,521.1 352.4,523.5 354.7,526.1 C357.1,528.7 359.4,531.6 361.7,534.5 C364.1,537.4 366.4,540.5 368.7,543.6 C371,546.7 373.4,550 375.7,553.2 C378,556.5 380.4,559.8 382.7,563 C385,566.3 387.4,569.5 389.7,572.7 C392,575.8 394.4,579 396.7,581.9 C399,584.8 401.3,587.7 403.7,590.3 C406,593 408.3,595.5 410.7,597.7 C413,599.9 415.3,602 417.7,603.7 C420,605.4 422.3,606.8 424.6,608 C427,609.2 429.3,610.1 431.6,610.7 C434,611.4 436.3,611.7 438.6,611.9 C441,612.1 443.3,612 445.6,611.7 C448,611.4 450.3,610.8 452.6,610.1 C454.9,609.4 457.3,608.4 459.6,607.3 C461.9,606.2 464.3,604.9 466.6,603.5 C468.9,602 471.3,600.4 473.6,598.6 C475.9,596.9 478.3,594.9 480.6,592.9 C482.9,590.8 485.2,588.6 487.6,586.4 C489.9,584.1 492.2,581.7 494.6,579.3 C496.9,576.9 499.2,574.4 501.6,571.9 C503.9,569.4 506.2,566.9 508.5,564.4 C510.9,561.9 513.2,559.4 515.5,557 C517.9,554.7 520.2,552.3 522.5,550.1 C524.9,547.9 527.2,545.7 529.5,543.7 C531.9,541.8 534.2,539.9 536.5,538.2 C538.8,536.5 541.2,534.9 543.5,533.4 C545.8,531.9 548.2,530.5 550.5,529.3 C552.8,528 555.2,526.9 557.5,525.8 C559.8,524.8 562.2,523.9 564.5,523 C566.8,522.1 569.1,521.4 571.5,520.7 C573.8,520 576.1,519.4 578.5,518.9 C580.8,518.4 583.1,517.9 585.5,517.6 C587.8,517.2 590.1,516.9 592.4,516.6 C594.8,516.3 597.1,516.1 599.4,515.9 C601.8,515.8 604.1,515.7 606.4,515.6 C608.8,515.5 611.1,515.5 613.4,515.5 C615.8,515.5 618.1,515.5 620.4,515.5 C622.7,515.6 625.1,515.6 627.4,515.7 C629.7,515.8 633.2,515.9 634.4,515.9" fill="none" stroke="#E7A332" stroke-width="11"/>
<path d="M214.4,686.5 L235.4,755.1 L256.4,713.1 L277.4,421.8 L298.4,441.4 L319.4,540.9 L340.4,526.8 L361.4,563.3 L382.4,595.5 L403.4,699.1 L424.4,483.4 L445.4,620.6 L466.4,543.6 L487.4,574.4 L508.4,699 L529.4,483.4 L550.4,510 L571.4,601 L592.4,435.8 L613.4,531.5 L634.4,525.4" fill="none" stroke="#0c0c14" stroke-opacity="0.8" stroke-width="5.2" stroke-linejoin="round" stroke-linecap="butt"/>
</g>
<g clip-path="url(#c11)">
<g fill="#4358A9" stroke="#3A50B4" stroke-width="1"><circle cx="899.8" cy="737" r="18"/><circle cx="920.8" cy="678.9" r="18"/><circle cx="941.8" cy="757.8" r="18"/><circle cx="962.8" cy="683" r="18"/><circle cx="983.8" cy="596.8" r="18"/><circle cx="1004.8" cy="588.4" r="18"/><circle cx="1025.8" cy="602.4" r="18"/><circle cx="1046.8" cy="617" r="18"/><circle cx="1067.8" cy="609.4" r="18"/><circle cx="1088.8" cy="598.2" r="18"/><circle cx="1109.8" cy="612" r="18"/><circle cx="1130.8" cy="612.2" r="18"/><circle cx="1151.8" cy="629" r="18"/><circle cx="1172.8" cy="561.8" r="18"/><circle cx="1193.8" cy="593.2" r="18"/><circle cx="1214.8" cy="627.6" r="18"/><circle cx="1235.8" cy="554.8" r="18"/><circle cx="1256.8" cy="547.8" r="18"/><circle cx="1277.8" cy="462.4" r="18"/><circle cx="1298.8" cy="471.6" r="18"/><circle cx="1319.8" cy="437.2" r="18"/></g>
<g fill="#4358A9"><circle cx="899.8" cy="737" r="18"/><circle cx="920.8" cy="678.9" r="18"/><circle cx="941.8" cy="757.8" r="18"/><circle cx="962.8" cy="683" r="18"/><circle cx="983.8" cy="596.8" r="18"/><circle cx="1004.8" cy="588.4" r="18"/><circle cx="1025.8" cy="602.4" r="18"/><circle cx="1046.8" cy="617" r="18"/><circle cx="1067.8" cy="609.4" r="18"/><circle cx="1088.8" cy="598.2" r="18"/><circle cx="1109.8" cy="612" r="18"/><circle cx="1130.8" cy="612.2" r="18"/><circle cx="1151.8" cy="629" r="18"/><circle cx="1172.8" cy="561.8" r="18"/><circle cx="1193.8" cy="593.2" r="18"/><circle cx="1214.8" cy="627.6" r="18"/><circle cx="1235.8" cy="554.8" r="18"/><circle cx="1256.8" cy="547.8" r="18"/><circle cx="1277.8" cy="462.4" r="18"/><circle cx="1298.8" cy="471.6" r="18"/><circle cx="1319.8" cy="437.2" r="18"/></g>
<path d="M900.4,736.2 L900.7,735.8 L901.2,735.3 L901.7,734.7 L902.2,734 L902.8,733.3 L903.5,732.5 L904.1,731.7 L904.8,730.9 L905.5,730.1 L906.1,729.3 L906.8,728.5 L907.4,727.8 L908,727.1 L908.6,726.4 L909.1,725.7 L909.7,725 L910.3,724.2 L910.9,723.5 L911.5,722.8 L912,722.1 L912.6,721.3 L913.2,720.6 L913.8,719.9 L914.4,719.2 L915,718.4 L915.5,717.7 L916.1,717 L916.7,716.2 L917.3,715.5 L917.9,714.7 L918.5,714 L919,713.3 L919.6,712.5 L920.2,711.8 L920.8,711 L921.4,710.3 L922,709.6 L922.5,708.8 L923.1,708.1 L923.7,707.3 L924.3,706.6 L924.9,705.8 L925.4,705.1 L926,704.3 L926.6,703.6 L927.2,702.8 L927.8,702.1 L928.4,701.3 L928.9,700.6 L929.5,699.8 L930.1,699.1 L930.7,698.3 L931.3,697.6 L931.9,696.8 L932.4,696 L933,695.3 L933.6,694.5 L934.2,693.8 L934.8,693 L935.4,692.3 L935.9,691.5 L936.5,690.8 L937.1,690 L937.7,689.3 L938.3,688.5 L938.8,687.8 L939.4,687 L940,686.3 L940.6,685.5 L941.2,684.8 L941.8,684 L942.3,683.3 L942.9,682.5 L943.5,681.8 L944.1,681 L944.7,680.3 L945.3,679.5 L945.8,678.8 L946.4,678.1 L947,677.3 L947.6,676.6 L948.2,675.8 L948.7,675.1 L949.3,674.4 L949.9,673.6 L950.5,672.9 L951.1,672.2 L951.7,671.4 L952.2,670.7 L952.8,670 L953.4,669.2 L954,668.5 L954.6,667.8 L955.2,667.1 L955.7,666.3 L956.3,665.6 L956.9,664.9 L957.5,664.2 L958.1,663.5 L958.6,662.8 L959.2,662.1 L959.8,661.3 L960.4,660.6 L961,659.9 L961.6,659.2 L962.1,658.5 L962.7,657.8 L963.3,657.1 L963.9,656.4 L964.5,655.8 L965.1,655.1 L965.6,654.4 L966.2,653.7 L966.8,653 L967.4,652.3 L968,651.7 L968.6,651 L969.1,650.3 L969.7,649.6 L970.3,649 L970.9,648.3 L971.5,647.7 L972,647 L972.6,646.3 L973.2,645.7 L973.8,645 L974.4,644.4 L975,643.8 L975.5,643.1 L976.1,642.5 L976.7,641.9 L977.3,641.2 L977.9,640.6 L978.5,640 L979,639.4 L979.6,638.7 L980.2,638.1 L980.8,637.5 L981.4,636.9 L981.9,636.3 L982.5,635.7 L983.1,635.1 L983.7,634.5 L984.3,633.9 L984.9,633.4 L985.4,632.8 L986,632.2 L986.6,631.6 L987.2,631.1 L987.8,630.5 L988.4,630 L988.9,629.4 L989.5,628.8 L990.1,628.3 L990.7,627.8 L991.3,627.2 L991.9,626.7 L992.4,626.2 L993,625.6 L993.6,625.1 L994.2,624.6 L994.8,624.1 L995.3,623.6 L995.9,623.1 L996.5,622.6 L997.1,622.1 L997.7,621.6 L998.3,621.1 L998.8,620.6 L999.4,620.2 L1000,619.7 L1000.6,619.2 L1001.2,618.8 L1001.8,618.3 L1002.3,617.9 L1002.9,617.4 L1003.5,617 L1004.1,616.6 L1004.7,616.1 L1005.2,615.7 L1005.8,615.3 L1006.4,614.9 L1007,614.5 L1007.6,614.1 L1008.2,613.7 L1008.7,613.3 L1009.3,612.9 L1009.9,612.6 L1010.5,612.2 L1011.1,611.8 L1011.7,611.5 L1012.2,611.1 L1012.8,610.8 L1013.4,610.4 L1014,610.1 L1014.6,609.7 L1015.2,609.4 L1015.7,609.1 L1016.3,608.8 L1016.9,608.5 L1017.5,608.2 L1018.1,607.9 L1018.6,607.6 L1019.2,607.3 L1019.8,607 L1020.4,606.7 L1021,606.4 L1021.6,606.2 L1022.1,605.9 L1022.7,605.7 L1023.3,605.4 L1023.9,605.2 L1024.5,604.9 L1025.1,604.7 L1025.6,604.4 L1026.2,604.2 L1026.8,604 L1027.4,603.8 L1028,603.6 L1028.5,603.3 L1029.1,603.1 L1029.7,602.9 L1030.3,602.7 L1030.9,602.5 L1031.5,602.4 L1032,602.2 L1032.6,602 L1033.2,601.8 L1033.8,601.7 L1034.4,601.5 L1035,601.3 L1035.5,601.2 L1036.1,601 L1036.7,600.9 L1037.3,600.7 L1037.9,600.6 L1038.5,600.4 L1039,600.3 L1039.6,600.2 L1040.2,600 L1040.8,599.9 L1041.4,599.8 L1041.9,599.7 L1042.5,599.6 L1043.1,599.5 L1043.7,599.4 L1044.3,599.3 L1044.9,599.2 L1045.4,599.1 L1046,599 L1046.6,598.9 L1047.2,598.8 L1047.8,598.7 L1048.4,598.7 L1048.9,598.6 L1049.5,598.5 L1050.1,598.5 L1050.7,598.4 L1051.3,598.3 L1051.8,598.3 L1052.4,598.2 L1053,598.2 L1053.6,598.1 L1054.2,598.1 L1054.8,598 L1055.3,598 L1055.9,598 L1056.5,597.9 L1057.1,597.9 L1057.7,597.9 L1058.3,597.8 L1058.8,597.8 L1059.4,597.8 L1060,597.8 L1060.6,597.8 L1061.2,597.7 L1061.8,597.7 L1062.3,597.7 L1062.9,597.7 L1063.5,597.7 L1064.1,597.7 L1064.7,597.7 L1065.2,597.7 L1065.8,597.7 L1066.4,597.7 L1067,597.7 L1067.6,597.7 L1068.2,597.8 L1068.7,597.8 L1069.3,597.8 L1069.9,597.8 L1070.5,597.8 L1071.1,597.8 L1071.7,597.9 L1072.2,597.9 L1072.8,597.9 L1073.4,598 L1074,598 L1074.6,598 L1075.1,598.1 L1075.7,598.1 L1076.3,598.1 L1076.9,598.2 L1077.5,598.2 L1078.1,598.2 L1078.6,598.3 L1079.2,598.3 L1079.8,598.4 L1080.4,598.4 L1081,598.5 L1081.6,598.5 L1082.1,598.6 L1082.7,598.6 L1083.3,598.7 L1083.9,598.7 L1084.5,598.8 L1085.1,598.8 L1085.6,598.9 L1086.2,598.9 L1086.8,599 L1087.4,599 L1088,599.1 L1088.5,599.2 L1089.1,599.2 L1089.7,599.3 L1090.3,599.3 L1090.9,599.4 L1091.5,599.5 L1092,599.5 L1092.6,599.6 L1093.2,599.6 L1093.8,599.7 L1094.4,599.8 L1095,599.8 L1095.5,599.9 L1096.1,599.9 L1096.7,600 L1097.3,600.1 L1097.9,600.1 L1098.5,600.2 L1099,600.3 L1099.6,600.3 L1100.2,600.4 L1100.8,600.4 L1101.4,600.5 L1101.9,600.6 L1102.5,600.6 L1103.1,600.7 L1103.7,600.8 L1104.3,600.8 L1104.9,600.9 L1105.4,600.9 L1106,601 L1106.6,601 L1107.2,601.1 L1107.8,601.2 L1108.4,601.2 L1108.9,601.3 L1109.5,601.3 L1110.1,601.4 L1110.7,601.4 L1111.3,601.5 L1111.8,601.5 L1112.4,601.6 L1113,601.6 L1113.6,601.7 L1114.2,601.7 L1114.8,601.8 L1115.3,601.8 L1115.9,601.9 L1116.5,601.9 L1117.1,601.9 L1117.7,602 L1118.3,602 L1118.8,602.1 L1119.4,602.1 L1120,602.1 L1120.6,602.2 L1121.2,602.2 L1121.7,602.2 L1122.3,602.3 L1122.9,602.3 L1123.5,602.3 L1124.1,602.3 L1124.7,602.4 L1125.2,602.4 L1125.8,602.4 L1126.4,602.4 L1127,602.5 L1127.6,602.5 L1128.2,602.5 L1128.7,602.5 L1129.3,602.5 L1129.9,602.5 L1130.5,602.5 L1131.1,602.5 L1131.7,602.5 L1132.2,602.5 L1132.8,602.5 L1133.4,602.5 L1134,602.5 L1134.6,602.5 L1135.1,602.5 L1135.7,602.5 L1136.3,602.5 L1136.9,602.5 L1137.5,602.5 L1138.1,602.5 L1138.6,602.5 L1139.2,602.4 L1139.8,602.4 L1140.4,602.4 L1141,602.4 L1141.6,602.3 L1142.1,602.3 L1142.7,602.3 L1143.3,602.2 L1143.9,602.2 L1144.5,602.1 L1145,602.1 L1145.6,602.1 L1146.2,602 L1146.8,602 L1147.4,601.9 L1148,601.8 L1148.5,601.8 L1149.1,601.7 L1149.7,601.7 L1150.3,601.6 L1150.9,601.5 L1151.5,601.5 L1152,601.4 L1152.6,601.3 L1153.2,601.2 L1153.8,601.1 L1154.4,601.1 L1155,601 L1155.5,600.9 L1156.1,600.8 L1156.7,600.7 L1157.3,600.6 L1157.9,600.5 L1158.4,600.4 L1159,600.3 L1159.6,600.1 L1160.2,600 L1160.8,599.9 L1161.4,599.8 L1161.9,599.7 L1162.5,599.5 L1163.1,599.4 L1163.7,599.3 L1164.3,599.1 L1164.9,599 L1165.4,598.8 L1166,598.7 L1166.6,598.5 L1167.2,598.4 L1167.8,598.2 L1168.4,598.1 L1168.9,597.9 L1169.5,597.7 L1170.1,597.6 L1170.7,597.4 L1171.3,597.2 L1171.8,597 L1172.4,596.8 L1173,596.6 L1173.6,596.4 L1174.2,596.2 L1174.8,596 L1175.3,595.8 L1175.9,595.6 L1176.5,595.4 L1177.1,595.2 L1177.7,595 L1178.3,594.7 L1178.8,594.5 L1179.4,594.3 L1180,594 L1180.6,593.8 L1181.2,593.6 L1181.7,593.3 L1182.3,593.1 L1182.9,592.8 L1183.5,592.5 L1184.1,592.3 L1184.7,592 L1185.2,591.7 L1185.8,591.4 L1186.4,591.2 L1187,590.9 L1187.6,590.6 L1188.2,590.3 L1188.7,590 L1189.3,589.7 L1189.9,589.4 L1190.5,589 L1191.1,588.7 L1191.7,588.4 L1192.2,588.1 L1192.8,587.7 L1193.4,587.4 L1194,587.1 L1194.6,586.7 L1195.1,586.4 L1195.7,586 L1196.3,585.6 L1196.9,585.3 L1197.5,584.9 L1198.1,584.5 L1198.6,584.1 L1199.2,583.8 L1199.8,583.4 L1200.4,583 L1201,582.6 L1201.6,582.2 L1202.1,581.7 L1202.7,581.3 L1203.3,580.9 L1203.9,580.5 L1204.5,580 L1205,579.6 L1205.6,579.2 L1206.2,578.7 L1206.8,578.3 L1207.4,577.8 L1208,577.3 L1208.5,576.9 L1209.1,576.4 L1209.7,575.9 L1210.3,575.4 L1210.9,574.9 L1211.5,574.4 L1212,573.9 L1212.6,573.4 L1213.2,572.9 L1213.8,572.4 L1214.4,571.9 L1214.9,571.4 L1215.5,570.8 L1216.1,570.3 L1216.7,569.7 L1217.3,569.2 L1217.9,568.6 L1218.4,568 L1219,567.5 L1219.6,566.9 L1220.2,566.3 L1220.8,565.7 L1221.4,565.1 L1221.9,564.5 L1222.5,563.9 L1223.1,563.3 L1223.7,562.7 L1224.3,562.1 L1224.9,561.5 L1225.4,560.8 L1226,560.2 L1226.6,559.5 L1227.2,558.9 L1227.8,558.2 L1228.3,557.6 L1228.9,556.9 L1229.5,556.2 L1230.1,555.6 L1230.7,554.9 L1231.3,554.2 L1231.8,553.5 L1232.4,552.8 L1233,552.1 L1233.6,551.4 L1234.2,550.7 L1234.8,550 L1235.3,549.2 L1235.9,548.5 L1236.5,547.8 L1237.1,547.1 L1237.7,546.3 L1238.2,545.6 L1238.8,544.8 L1239.4,544.1 L1240,543.3 L1240.6,542.6 L1241.2,541.8 L1241.7,541 L1242.3,540.2 L1242.9,539.5 L1243.5,538.7 L1244.1,537.9 L1244.7,537.1 L1245.2,536.3 L1245.8,535.5 L1246.4,534.7 L1247,533.9 L1247.6,533.1 L1248.2,532.3 L1248.7,531.5 L1249.3,530.7 L1249.9,529.8 L1250.5,529 L1251.1,528.2 L1251.6,527.3 L1252.2,526.5 L1252.8,525.7 L1253.4,524.8 L1254,524 L1254.6,523.1 L1255.1,522.3 L1255.7,521.4 L1256.3,520.5 L1256.9,519.7 L1257.5,518.8 L1258.1,517.9 L1258.6,517.1 L1259.2,516.2 L1259.8,515.3 L1260.4,514.4 L1261,513.6 L1261.5,512.7 L1262.1,511.8 L1262.7,510.9 L1263.3,510 L1263.9,509.1 L1264.5,508.2 L1265,507.3 L1265.6,506.4 L1266.2,505.5 L1266.8,504.6 L1267.4,503.7 L1268,502.8 L1268.5,501.9 L1269.1,500.9 L1269.7,500 L1270.3,499.1 L1270.9,498.2 L1271.5,497.3 L1272,496.3 L1272.6,495.4 L1273.2,494.5 L1273.8,493.5 L1274.4,492.6 L1274.9,491.7 L1275.5,490.7 L1276.1,489.8 L1276.7,488.9 L1277.3,487.9 L1277.9,487 L1278.4,486 L1279,485.1 L1279.6,484.1 L1280.2,483.2 L1280.8,482.3 L1281.4,481.3 L1281.9,480.4 L1282.5,479.4 L1283.1,478.4 L1283.7,477.5 L1284.3,476.5 L1284.8,475.6 L1285.4,474.6 L1286,473.7 L1286.6,472.7 L1287.2,471.8 L1287.8,470.8 L1288.3,469.8 L1288.9,468.9 L1289.5,467.9 L1290.1,467 L1290.7,466 L1291.3,465 L1291.8,464.1 L1292.4,463.1 L1293,462.2 L1293.6,461.2 L1294.2,460.2 L1294.8,459.3 L1295.3,458.3 L1295.9,457.4 L1296.5,456.4 L1297.1,455.4 L1297.7,454.5 L1298.2,453.5 L1298.8,452.6 L1299.4,451.6 L1300,450.6 L1300.6,449.7 L1301.2,448.7 L1301.7,447.8 L1302.3,446.8 L1302.9,445.8 L1303.5,444.9 L1304.1,443.9 L1304.7,443 L1305.2,442 L1305.8,441.1 L1306.4,440.1 L1307,439.2 L1307.6,438.2 L1308.2,437.3 L1308.7,436.3 L1309.3,435.4 L1309.9,434.4 L1310.5,433.5 L1311.1,432.5 L1311.6,431.6 L1312.2,430.6 L1312.8,429.7 L1313.5,428.6 L1314.2,427.5 L1314.9,426.3 L1315.6,425.2 L1316.4,424 L1317.1,422.8 L1317.8,421.8 L1318.4,420.8 L1319,419.9 L1319.4,419.1 L1319.8,418.5 L1319.8,438.5 L1319.4,439.1 L1319,439.8 L1318.4,440.6 L1317.8,441.5 L1317.1,442.4 L1316.4,443.5 L1315.6,444.5 L1314.9,445.6 L1314.2,446.7 L1313.5,447.7 L1312.8,448.7 L1312.2,449.5 L1311.6,450.4 L1311.1,451.3 L1310.5,452.1 L1309.9,453 L1309.3,453.9 L1308.7,454.7 L1308.2,455.6 L1307.6,456.5 L1307,457.4 L1306.4,458.3 L1305.8,459.1 L1305.2,460 L1304.7,460.9 L1304.1,461.8 L1303.5,462.7 L1302.9,463.6 L1302.3,464.4 L1301.7,465.3 L1301.2,466.2 L1300.6,467.1 L1300,468 L1299.4,468.9 L1298.8,469.8 L1298.2,470.7 L1297.7,471.6 L1297.1,472.5 L1296.5,473.4 L1295.9,474.3 L1295.3,475.2 L1294.8,476.1 L1294.2,477 L1293.6,477.9 L1293,478.8 L1292.4,479.7 L1291.8,480.6 L1291.3,481.5 L1290.7,482.4 L1290.1,483.3 L1289.5,484.2 L1288.9,485.1 L1288.3,486 L1287.8,486.9 L1287.2,487.8 L1286.6,488.7 L1286,489.6 L1285.4,490.5 L1284.8,491.4 L1284.3,492.4 L1283.7,493.3 L1283.1,494.2 L1282.5,495.1 L1281.9,496 L1281.4,496.9 L1280.8,497.8 L1280.2,498.7 L1279.6,499.6 L1279,500.5 L1278.4,501.4 L1277.9,502.3 L1277.3,503.2 L1276.7,504 L1276.1,504.9 L1275.5,505.8 L1274.9,506.7 L1274.4,507.6 L1273.8,508.5 L1273.2,509.4 L1272.6,510.3 L1272,511.2 L1271.5,512.1 L1270.9,512.9 L1270.3,513.8 L1269.7,514.7 L1269.1,515.6 L1268.5,516.5 L1268,517.3 L1267.4,518.2 L1266.8,519.1 L1266.2,520 L1265.6,520.8 L1265,521.7 L1264.5,522.6 L1263.9,523.4 L1263.3,524.3 L1262.7,525.1 L1262.1,526 L1261.5,526.8 L1261,527.7 L1260.4,528.6 L1259.8,529.4 L1259.2,530.2 L1258.6,531.1 L1258.1,531.9 L1257.5,532.8 L1256.9,533.6 L1256.3,534.4 L1255.7,535.3 L1255.1,536.1 L1254.6,536.9 L1254,537.7 L1253.4,538.6 L1252.8,539.4 L1252.2,540.2 L1251.6,541 L1251.1,541.8 L1250.5,542.6 L1249.9,543.4 L1249.3,544.2 L1248.7,545 L1248.2,545.8 L1247.6,546.6 L1247,547.4 L1246.4,548.1 L1245.8,548.9 L1245.2,549.7 L1244.7,550.5 L1244.1,551.2 L1243.5,552 L1242.9,552.8 L1242.3,553.5 L1241.7,554.3 L1241.2,555 L1240.6,555.8 L1240,556.5 L1239.4,557.2 L1238.8,558 L1238.2,558.7 L1237.7,559.4 L1237.1,560.1 L1236.5,560.8 L1235.9,561.6 L1235.3,562.3 L1234.8,563 L1234.2,563.7 L1233.6,564.4 L1233,565 L1232.4,565.7 L1231.8,566.4 L1231.3,567.1 L1230.7,567.7 L1230.1,568.4 L1229.5,569.1 L1228.9,569.7 L1228.3,570.4 L1227.8,571 L1227.2,571.7 L1226.6,572.3 L1226,572.9 L1225.4,573.5 L1224.9,574.2 L1224.3,574.8 L1223.7,575.4 L1223.1,576 L1222.5,576.6 L1221.9,577.2 L1221.4,577.8 L1220.8,578.4 L1220.2,578.9 L1219.6,579.5 L1219,580.1 L1218.4,580.6 L1217.9,581.2 L1217.3,581.7 L1216.7,582.3 L1216.1,582.8 L1215.5,583.3 L1214.9,583.9 L1214.4,584.4 L1213.8,584.9 L1213.2,585.4 L1212.6,585.9 L1212,586.4 L1211.5,586.9 L1210.9,587.4 L1210.3,587.9 L1209.7,588.3 L1209.1,588.8 L1208.5,589.3 L1208,589.7 L1207.4,590.2 L1206.8,590.6 L1206.2,591.1 L1205.6,591.5 L1205,591.9 L1204.5,592.4 L1203.9,592.8 L1203.3,593.2 L1202.7,593.6 L1202.1,594 L1201.6,594.4 L1201,594.8 L1200.4,595.2 L1199.8,595.6 L1199.2,596 L1198.6,596.4 L1198.1,596.8 L1197.5,597.1 L1196.9,597.5 L1196.3,597.9 L1195.7,598.2 L1195.1,598.6 L1194.6,598.9 L1194,599.3 L1193.4,599.6 L1192.8,599.9 L1192.2,600.3 L1191.7,600.6 L1191.1,600.9 L1190.5,601.2 L1189.9,601.5 L1189.3,601.8 L1188.7,602.1 L1188.2,602.4 L1187.6,602.7 L1187,603 L1186.4,603.3 L1185.8,603.6 L1185.2,603.9 L1184.7,604.1 L1184.1,604.4 L1183.5,604.7 L1182.9,604.9 L1182.3,605.2 L1181.7,605.4 L1181.2,605.7 L1180.6,605.9 L1180,606.1 L1179.4,606.4 L1178.8,606.6 L1178.3,606.8 L1177.7,607.1 L1177.1,607.3 L1176.5,607.5 L1175.9,607.7 L1175.3,607.9 L1174.8,608.1 L1174.2,608.3 L1173.6,608.5 L1173,608.7 L1172.4,608.9 L1171.8,609.1 L1171.3,609.3 L1170.7,609.4 L1170.1,609.6 L1169.5,609.8 L1168.9,609.9 L1168.4,610.1 L1167.8,610.3 L1167.2,610.4 L1166.6,610.6 L1166,610.7 L1165.4,610.9 L1164.9,611 L1164.3,611.2 L1163.7,611.3 L1163.1,611.4 L1162.5,611.6 L1161.9,611.7 L1161.4,611.8 L1160.8,611.9 L1160.2,612.1 L1159.6,612.2 L1159,612.3 L1158.4,612.4 L1157.9,612.5 L1157.3,612.6 L1156.7,612.7 L1156.1,612.8 L1155.5,612.9 L1155,613 L1154.4,613.1 L1153.8,613.2 L1153.2,613.2 L1152.6,613.3 L1152,613.4 L1151.5,613.5 L1150.9,613.5 L1150.3,613.6 L1149.7,613.7 L1149.1,613.7 L1148.5,613.8 L1148,613.9 L1147.4,613.9 L1146.8,614 L1146.2,614 L1145.6,614.1 L1145,614.1 L1144.5,614.2 L1143.9,614.2 L1143.3,614.2 L1142.7,614.3 L1142.1,614.3 L1141.6,614.3 L1141,614.4 L1140.4,614.4 L1139.8,614.4 L1139.2,614.4 L1138.6,614.5 L1138.1,614.5 L1137.5,614.5 L1136.9,614.5 L1136.3,614.5 L1135.7,614.5 L1135.1,614.5 L1134.6,614.5 L1134,614.5 L1133.4,614.5 L1132.8,614.5 L1132.2,614.5 L1131.7,614.5 L1131.1,614.5 L1130.5,614.5 L1129.9,614.5 L1129.3,614.5 L1128.7,614.5 L1128.2,614.5 L1127.6,614.5 L1127,614.5 L1126.4,614.4 L1125.8,614.4 L1125.2,614.4 L1124.7,614.4 L1124.1,614.3 L1123.5,614.3 L1122.9,614.3 L1122.3,614.3 L1121.7,614.2 L1121.2,614.2 L1120.6,614.2 L1120,614.1 L1119.4,614.1 L1118.8,614.1 L1118.3,614 L1117.7,614 L1117.1,613.9 L1116.5,613.9 L1115.9,613.9 L1115.3,613.8 L1114.8,613.8 L1114.2,613.7 L1113.6,613.7 L1113,613.6 L1112.4,613.6 L1111.8,613.5 L1111.3,613.5 L1110.7,613.4 L1110.1,613.4 L1109.5,613.3 L1108.9,613.3 L1108.4,613.2 L1107.8,613.2 L1107.2,613.1 L1106.6,613 L1106,613 L1105.4,612.9 L1104.9,612.9 L1104.3,612.8 L1103.7,612.8 L1103.1,612.7 L1102.5,612.6 L1101.9,612.6 L1101.4,612.5 L1100.8,612.4 L1100.2,612.4 L1099.6,612.3 L1099,612.3 L1098.5,612.2 L1097.9,612.1 L1097.3,612.1 L1096.7,612 L1096.1,611.9 L1095.5,611.9 L1095,611.8 L1094.4,611.8 L1093.8,611.7 L1093.2,611.6 L1092.6,611.6 L1092,611.5 L1091.5,611.5 L1090.9,611.4 L1090.3,611.3 L1089.7,611.3 L1089.1,611.2 L1088.5,611.2 L1088,611.1 L1087.4,611 L1086.8,611 L1086.2,610.9 L1085.6,610.9 L1085.1,610.8 L1084.5,610.8 L1083.9,610.7 L1083.3,610.7 L1082.7,610.6 L1082.1,610.6 L1081.6,610.5 L1081,610.5 L1080.4,610.4 L1079.8,610.4 L1079.2,610.3 L1078.6,610.3 L1078.1,610.2 L1077.5,610.2 L1076.9,610.2 L1076.3,610.1 L1075.7,610.1 L1075.1,610.1 L1074.6,610 L1074,610 L1073.4,610 L1072.8,609.9 L1072.2,609.9 L1071.7,609.9 L1071.1,609.9 L1070.5,609.8 L1069.9,609.8 L1069.3,609.8 L1068.7,609.8 L1068.2,609.8 L1067.6,609.8 L1067,609.7 L1066.4,609.7 L1065.8,609.7 L1065.2,609.7 L1064.7,609.7 L1064.1,609.7 L1063.5,609.7 L1062.9,609.7 L1062.3,609.7 L1061.8,609.8 L1061.2,609.8 L1060.6,609.8 L1060,609.8 L1059.4,609.8 L1058.8,609.8 L1058.3,609.9 L1057.7,609.9 L1057.1,609.9 L1056.5,610 L1055.9,610 L1055.3,610 L1054.8,610.1 L1054.2,610.1 L1053.6,610.2 L1053,610.2 L1052.4,610.3 L1051.8,610.3 L1051.3,610.4 L1050.7,610.4 L1050.1,610.5 L1049.5,610.6 L1048.9,610.6 L1048.4,610.7 L1047.8,610.8 L1047.2,610.9 L1046.6,611 L1046,611.1 L1045.4,611.2 L1044.9,611.2 L1044.3,611.3 L1043.7,611.5 L1043.1,611.6 L1042.5,611.7 L1041.9,611.8 L1041.4,611.9 L1040.8,612 L1040.2,612.1 L1039.6,612.3 L1039,612.4 L1038.5,612.5 L1037.9,612.7 L1037.3,612.8 L1036.7,613 L1036.1,613.1 L1035.5,613.3 L1035,613.5 L1034.4,613.6 L1033.8,613.8 L1033.2,614 L1032.6,614.1 L1032,614.3 L1031.5,614.5 L1030.9,614.7 L1030.3,614.9 L1029.7,615.1 L1029.1,615.3 L1028.5,615.5 L1028,615.7 L1027.4,616 L1026.8,616.2 L1026.2,616.4 L1025.6,616.7 L1025.1,616.9 L1024.5,617.1 L1023.9,617.4 L1023.3,617.6 L1022.7,617.9 L1022.1,618.2 L1021.6,618.4 L1021,618.7 L1020.4,619 L1019.8,619.3 L1019.2,619.6 L1018.6,619.9 L1018.1,620.2 L1017.5,620.5 L1016.9,620.8 L1016.3,621.1 L1015.7,621.4 L1015.2,621.8 L1014.6,622.1 L1014,622.4 L1013.4,622.8 L1012.8,623.1 L1012.2,623.5 L1011.7,623.8 L1011.1,624.2 L1010.5,624.6 L1009.9,625 L1009.3,625.4 L1008.7,625.8 L1008.2,626.1 L1007.6,626.6 L1007,627 L1006.4,627.4 L1005.8,627.8 L1005.2,628.2 L1004.7,628.7 L1004.1,629.1 L1003.5,629.5 L1002.9,630 L1002.3,630.4 L1001.8,630.9 L1001.2,631.4 L1000.6,631.8 L1000,632.3 L999.4,632.8 L998.8,633.3 L998.3,633.8 L997.7,634.3 L997.1,634.8 L996.5,635.3 L995.9,635.8 L995.3,636.3 L994.8,636.8 L994.2,637.3 L993.6,637.9 L993,638.4 L992.4,639 L991.9,639.5 L991.3,640 L990.7,640.6 L990.1,641.2 L989.5,641.7 L988.9,642.3 L988.4,642.9 L987.8,643.4 L987.2,644 L986.6,644.6 L986,645.2 L985.4,645.8 L984.9,646.4 L984.3,647 L983.7,647.6 L983.1,648.2 L982.5,648.8 L981.9,649.4 L981.4,650.1 L980.8,650.7 L980.2,651.3 L979.6,651.9 L979,652.6 L978.5,653.2 L977.9,653.9 L977.3,654.5 L976.7,655.2 L976.1,655.8 L975.5,656.5 L975,657.1 L974.4,657.8 L973.8,658.5 L973.2,659.2 L972.6,659.8 L972,660.5 L971.5,661.2 L970.9,661.9 L970.3,662.6 L969.7,663.3 L969.1,663.9 L968.6,664.6 L968,665.3 L967.4,666.1 L966.8,666.8 L966.2,667.5 L965.6,668.2 L965.1,668.9 L964.5,669.6 L963.9,670.3 L963.3,671.1 L962.7,671.8 L962.1,672.5 L961.6,673.2 L961,674 L960.4,674.7 L959.8,675.5 L959.2,676.2 L958.6,676.9 L958.1,677.7 L957.5,678.4 L956.9,679.2 L956.3,679.9 L955.7,680.7 L955.2,681.4 L954.6,682.2 L954,683 L953.4,683.7 L952.8,684.5 L952.2,685.3 L951.7,686 L951.1,686.8 L950.5,687.6 L949.9,688.3 L949.3,689.1 L948.7,689.9 L948.2,690.7 L947.6,691.5 L947,692.2 L946.4,693 L945.8,693.8 L945.3,694.6 L944.7,695.4 L944.1,696.2 L943.5,697 L942.9,697.8 L942.3,698.5 L941.8,699.3 L941.2,700.1 L940.6,700.9 L940,701.7 L939.4,702.5 L938.8,703.3 L938.3,704.1 L937.7,704.9 L937.1,705.7 L936.5,706.5 L935.9,707.3 L935.4,708.1 L934.8,708.9 L934.2,709.7 L933.6,710.6 L933,711.4 L932.4,712.2 L931.9,713 L931.3,713.8 L930.7,714.6 L930.1,715.4 L929.5,716.2 L928.9,717 L928.4,717.8 L927.8,718.6 L927.2,719.4 L926.6,720.3 L926,721.1 L925.4,721.9 L924.9,722.7 L924.3,723.5 L923.7,724.3 L923.1,725.1 L922.5,725.9 L922,726.7 L921.4,727.5 L920.8,728.4 L920.2,729.2 L919.6,730 L919,730.8 L918.5,731.6 L917.9,732.4 L917.3,733.2 L916.7,734 L916.1,734.8 L915.5,735.6 L915,736.4 L914.4,737.2 L913.8,738 L913.2,738.8 L912.6,739.6 L912,740.4 L911.5,741.2 L910.9,742 L910.3,742.8 L909.7,743.6 L909.1,744.4 L908.6,745.2 L908,746 L907.4,746.8 L906.8,747.6 L906.1,748.5 L905.5,749.4 L904.8,750.3 L904.1,751.2 L903.5,752.1 L902.8,752.9 L902.2,753.8 L901.7,754.5 L901.2,755.2 L900.7,755.7 L900.4,756.2 Z" fill="#989898" fill-opacity="0.56"/>
<path d="M900.4,746.2 C901.6,744.7 905.1,740.3 907.4,737.3 C909.7,734.3 912,731.3 914.4,728.2 C916.7,725.1 919,722 921.4,718.9 C923.7,715.8 926,712.7 928.4,709.6 C930.7,706.5 933,703.3 935.4,700.2 C937.7,697.1 940,694 942.3,690.9 C944.7,687.8 947,684.8 949.3,681.7 C951.7,678.7 954,675.7 956.3,672.8 C958.6,669.8 961,666.9 963.3,664.1 C965.6,661.3 968,658.5 970.3,655.8 C972.6,653.1 975,650.4 977.3,647.9 C979.6,645.3 981.9,642.8 984.3,640.5 C986.6,638.1 988.9,635.8 991.3,633.6 C993.6,631.5 995.9,629.4 998.3,627.4 C1000.6,625.5 1002.9,623.7 1005.2,622 C1007.6,620.3 1009.9,618.7 1012.2,617.3 C1014.6,615.9 1016.9,614.6 1019.2,613.4 C1021.6,612.3 1023.9,611.2 1026.2,610.3 C1028.5,609.4 1030.9,608.6 1033.2,607.9 C1035.5,607.2 1037.9,606.6 1040.2,606.1 C1042.5,605.6 1044.9,605.2 1047.2,604.9 C1049.5,604.5 1051.8,604.3 1054.2,604.1 C1056.5,603.9 1058.8,603.8 1061.2,603.8 C1063.5,603.7 1065.8,603.7 1068.2,603.8 C1070.5,603.8 1072.8,603.9 1075.1,604.1 C1077.5,604.2 1079.8,604.4 1082.1,604.6 C1084.5,604.8 1086.8,605 1089.1,605.2 C1091.5,605.4 1093.8,605.7 1096.1,605.9 C1098.4,606.2 1100.8,606.5 1103.1,606.7 C1105.4,606.9 1107.8,607.2 1110.1,607.4 C1112.4,607.6 1114.8,607.8 1117.1,607.9 C1119.4,608.1 1121.8,608.2 1124.1,608.3 C1126.4,608.4 1128.7,608.5 1131.1,608.5 C1133.4,608.6 1135.7,608.5 1138.1,608.5 C1140.4,608.4 1142.7,608.3 1145,608.1 C1147.4,607.9 1149.7,607.7 1152,607.4 C1154.4,607.1 1156.7,606.7 1159,606.3 C1161.4,605.8 1163.7,605.3 1166,604.7 C1168.3,604.1 1170.7,603.4 1173,602.7 C1175.3,601.9 1177.7,601 1180,600.1 C1182.3,599.1 1184.7,598.1 1187,596.9 C1189.3,595.8 1191.7,594.5 1194,593.2 C1196.3,591.8 1198.6,590.3 1201,588.7 C1203.3,587.1 1205.6,585.4 1208,583.5 C1210.3,581.7 1212.6,579.7 1214.9,577.6 C1217.3,575.5 1219.6,573.2 1221.9,570.9 C1224.3,568.5 1226.6,566 1228.9,563.3 C1231.3,560.7 1233.6,557.9 1235.9,555 C1238.2,552.2 1240.6,549.2 1242.9,546.1 C1245.2,543 1247.6,539.9 1249.9,536.6 C1252.2,533.4 1254.6,530 1256.9,526.6 C1259.2,523.2 1261.5,519.8 1263.9,516.3 C1266.2,512.7 1268.5,509.2 1270.9,505.6 C1273.2,502 1275.5,498.3 1277.9,494.6 C1280.2,490.9 1282.5,487.2 1284.8,483.5 C1287.2,479.8 1289.5,476.1 1291.8,472.3 C1294.2,468.6 1296.5,464.9 1298.8,461.2 C1301.2,457.5 1303.5,453.8 1305.8,450.1 C1308.1,446.4 1310.5,442.8 1312.8,439.2 C1315.1,435.6 1318.6,430.3 1319.8,428.5" fill="none" stroke="#E7A332" stroke-width="11"/>
<path d="M899.8,737 L920.8,678.9 L941.8,757.8 L962.8,683 L983.8,596.8 L1004.8,588.4 L1025.8,602.4 L1046.8,617 L1067.8,609.4 L1088.8,598.2 L1109.8,612 L1130.8,612.2 L1151.8,629 L1172.8,561.8 L1193.8,593.2 L1214.8,627.6 L1235.8,554.8 L1256.8,547.8 L1277.8,462.4 L1298.8,471.6 L1319.8,437.2" fill="none" stroke="#0c0c14" stroke-opacity="0.8" stroke-width="5.2" stroke-linejoin="round" stroke-linecap="butt"/>
</g>
<g clip-path="url(#c02)">
<g fill="#4358A9" stroke="#3A50B4" stroke-width="1"><circle cx="256.4" cy="1107" r="18"/><circle cx="256.4" cy="1115.3" r="18"/><circle cx="256.4" cy="1123.7" r="18"/><circle cx="256.4" cy="1132" r="18"/><circle cx="256.4" cy="1140.3" r="18"/><circle cx="256.4" cy="1148.7" r="18"/><circle cx="256.4" cy="1157" r="18"/><circle cx="277.4" cy="1104" r="18"/><circle cx="277.4" cy="1112.8" r="18"/><circle cx="277.4" cy="1121.5" r="18"/><circle cx="277.4" cy="1130.2" r="18"/><circle cx="277.4" cy="1139" r="18"/><circle cx="298.4" cy="1087" r="18"/><circle cx="298.4" cy="1095.9" r="18"/><circle cx="298.4" cy="1104.7" r="18"/><circle cx="298.4" cy="1113.6" r="18"/><circle cx="298.4" cy="1122.4" r="18"/><circle cx="298.4" cy="1131.3" r="18"/><circle cx="298.4" cy="1140.1" r="18"/><circle cx="298.4" cy="1149" r="18"/><circle cx="319.4" cy="1111" r="18"/><circle cx="319.4" cy="1119.7" r="18"/><circle cx="319.4" cy="1128.3" r="18"/><circle cx="319.4" cy="1137" r="18"/><circle cx="340.4" cy="1099" r="18"/><circle cx="340.4" cy="1107.8" r="18"/><circle cx="340.4" cy="1116.5" r="18"/><circle cx="340.4" cy="1125.2" r="18"/><circle cx="340.4" cy="1134" r="18"/><circle cx="361.4" cy="1079" r="18"/><circle cx="361.4" cy="1087.3" r="18"/><circle cx="361.4" cy="1095.6" r="18"/><circle cx="361.4" cy="1103.9" r="18"/><circle cx="361.4" cy="1112.1" r="18"/><circle cx="361.4" cy="1120.4" r="18"/><circle cx="361.4" cy="1128.7" r="18"/><circle cx="361.4" cy="1137" r="18"/><circle cx="382.4" cy="1085" r="18"/><circle cx="382.4" cy="1093.4" r="18"/><circle cx="382.4" cy="1101.8" r="18"/><circle cx="382.4" cy="1110.1" r="18"/><circle cx="382.4" cy="1118.5" r="18"/><circle cx="382.4" cy="1126.9" r="18"/><circle cx="382.4" cy="1135.2" r="18"/><circle cx="382.4" cy="1143.6" r="18"/><circle cx="382.4" cy="1152" r="18"/><circle cx="403.4" cy="1087" r="18"/><circle cx="403.4" cy="1095.6" r="18"/><circle cx="403.4" cy="1104.1" r="18"/><circle cx="403.4" cy="1112.7" r="18"/><circle cx="403.4" cy="1121.3" r="18"/><circle cx="403.4" cy="1129.9" r="18"/><circle cx="403.4" cy="1138.4" r="18"/><circle cx="403.4" cy="1147" r="18"/><circle cx="424.4" cy="1053" r="18"/><circle cx="424.4" cy="1061.7" r="18"/><circle cx="424.4" cy="1070.3" r="18"/><circle cx="424.4" cy="1079" r="18"/><circle cx="424.4" cy="1087.7" r="18"/><circle cx="424.4" cy="1096.3" r="18"/><circle cx="424.4" cy="1105" r="18"/><circle cx="424.4" cy="1113.7" r="18"/><circle cx="424.4" cy="1122.3" r="18"/><circle cx="424.4" cy="1131" r="18"/><circle cx="424.4" cy="1139.7" r="18"/><circle cx="424.4" cy="1148.3" r="18"/><circle cx="424.4" cy="1157" r="18"/><circle cx="445.4" cy="1063" r="18"/><circle cx="445.4" cy="1071.5" r="18"/><circle cx="445.4" cy="1080.1" r="18"/><circle cx="445.4" cy="1088.6" r="18"/><circle cx="445.4" cy="1097.2" r="18"/><circle cx="445.4" cy="1105.7" r="18"/><circle cx="445.4" cy="1114.3" r="18"/><circle cx="445.4" cy="1122.8" r="18"/><circle cx="445.4" cy="1131.4" r="18"/><circle cx="445.4" cy="1139.9" r="18"/><circle cx="445.4" cy="1148.5" r="18"/><circle cx="445.4" cy="1157" r="18"/><circle cx="466.4" cy="1060" r="18"/><circle cx="466.4" cy="1068.9" r="18"/><circle cx="466.4" cy="1077.8" r="18"/><circle cx="466.4" cy="1086.7" r="18"/><circle cx="466.4" cy="1095.6" r="18"/><circle cx="466.4" cy="1104.5" r="18"/><circle cx="466.4" cy="1113.5" r="18"/><circle cx="466.4" cy="1122.4" r="18"/><circle cx="466.4" cy="1131.3" r="18"/><circle cx="466.4" cy="1140.2" r="18"/><circle cx="466.4" cy="1149.1" r="18"/><circle cx="466.4" cy="1158" r="18"/><circle cx="487.4" cy="1022" r="18"/><circle cx="487.4" cy="1030.5" r="18"/><circle cx="487.4" cy="1039" r="18"/><circle cx="487.4" cy="1047.5" r="18"/><circle cx="487.4" cy="1056" r="18"/><circle cx="487.4" cy="1064.5" r="18"/><circle cx="487.4" cy="1073" r="18"/><circle cx="487.4" cy="1081.5" r="18"/><circle cx="487.4" cy="1090" r="18"/><circle cx="487.4" cy="1098.5" r="18"/><circle cx="487.4" cy="1107" r="18"/><circle cx="487.4" cy="1115.5" r="18"/><circle cx="487.4" cy="1124" r="18"/><circle cx="487.4" cy="1132.5" r="18"/><circle cx="487.4" cy="1141" r="18"/><circle cx="508.4" cy="1039" r="18"/><circle cx="508.4" cy="1047.7" r="18"/><circle cx="508.4" cy="1056.4" r="18"/><circle cx="508.4" cy="1065.1" r="18"/><circle cx="508.4" cy="1073.8" r="18"/><circle cx="508.4" cy="1082.5" r="18"/><circle cx="508.4" cy="1091.2" r="18"/><circle cx="508.4" cy="1099.8" r="18"/><circle cx="508.4" cy="1108.5" r="18"/><circle cx="508.4" cy="1117.2" r="18"/><circle cx="508.4" cy="1125.9" r="18"/><circle cx="508.4" cy="1134.6" r="18"/><circle cx="508.4" cy="1143.3" r="18"/><circle cx="508.4" cy="1152" r="18"/><circle cx="529.4" cy="1051" r="18"/><circle cx="529.4" cy="1059.9" r="18"/><circle cx="529.4" cy="1068.8" r="18"/><circle cx="529.4" cy="1077.7" r="18"/><circle cx="529.4" cy="1086.6" r="18"/><circle cx="529.4" cy="1095.5" r="18"/><circle cx="529.4" cy="1104.5" r="18"/><circle cx="529.4" cy="1113.4" r="18"/><circle cx="529.4" cy="1122.3" r="18"/><circle cx="529.4" cy="1131.2" r="18"/><circle cx="529.4" cy="1140.1" r="18"/><circle cx="529.4" cy="1149" r="18"/><circle cx="550.4" cy="1025" r="18"/><circle cx="550.4" cy="1033.6" r="18"/><circle cx="550.4" cy="1042.1" r="18"/><circle cx="550.4" cy="1050.7" r="18"/><circle cx="550.4" cy="1059.3" r="18"/><circle cx="550.4" cy="1067.9" r="18"/><circle cx="550.4" cy="1076.4" r="18"/><circle cx="550.4" cy="1085" r="18"/><circle cx="550.4" cy="1093.6" r="18"/><circle cx="550.4" cy="1102.1" r="18"/><circle cx="550.4" cy="1110.7" r="18"/><circle cx="550.4" cy="1119.3" r="18"/><circle cx="550.4" cy="1127.9" r="18"/><circle cx="550.4" cy="1136.4" r="18"/><circle cx="550.4" cy="1145" r="18"/><circle cx="571.4" cy="887" r="18"/><circle cx="571.4" cy="982" r="18"/><circle cx="571.4" cy="990.8" r="18"/><circle cx="571.4" cy="999.5" r="18"/><circle cx="571.4" cy="1008.3" r="18"/><circle cx="571.4" cy="1017.1" r="18"/><circle cx="571.4" cy="1025.8" r="18"/><circle cx="571.4" cy="1034.6" r="18"/><circle cx="571.4" cy="1043.4" r="18"/><circle cx="571.4" cy="1052.1" r="18"/><circle cx="571.4" cy="1060.9" r="18"/><circle cx="571.4" cy="1069.6" r="18"/><circle cx="571.4" cy="1078.4" r="18"/><circle cx="571.4" cy="1087.2" r="18"/><circle cx="571.4" cy="1095.9" r="18"/><circle cx="571.4" cy="1104.7" r="18"/><circle cx="571.4" cy="1113.5" r="18"/><circle cx="571.4" cy="1122.2" r="18"/><circle cx="571.4" cy="1131" r="18"/><circle cx="592.4" cy="851.5" r="18"/><circle cx="592.4" cy="929" r="18"/><circle cx="592.4" cy="975" r="18"/><circle cx="592.4" cy="983.9" r="18"/><circle cx="592.4" cy="992.8" r="18"/><circle cx="592.4" cy="1001.7" r="18"/><circle cx="592.4" cy="1010.6" r="18"/><circle cx="592.4" cy="1019.4" r="18"/><circle cx="592.4" cy="1028.3" r="18"/><circle cx="592.4" cy="1037.2" r="18"/><circle cx="592.4" cy="1046.1" r="18"/><circle cx="592.4" cy="1055" r="18"/><circle cx="592.4" cy="1063.9" r="18"/><circle cx="592.4" cy="1072.8" r="18"/><circle cx="592.4" cy="1081.7" r="18"/><circle cx="592.4" cy="1090.6" r="18"/><circle cx="592.4" cy="1099.4" r="18"/><circle cx="592.4" cy="1108.3" r="18"/><circle cx="592.4" cy="1117.2" r="18"/><circle cx="592.4" cy="1126.1" r="18"/><circle cx="592.4" cy="1135" r="18"/><circle cx="613.4" cy="832" r="18"/><circle cx="613.4" cy="937" r="18"/><circle cx="613.4" cy="945.7" r="18"/><circle cx="613.4" cy="954.3" r="18"/><circle cx="613.4" cy="963" r="18"/><circle cx="613.4" cy="1003" r="18"/><circle cx="613.4" cy="1011.9" r="18"/><circle cx="613.4" cy="1020.7" r="18"/><circle cx="613.4" cy="1029.6" r="18"/><circle cx="613.4" cy="1038.4" r="18"/><circle cx="613.4" cy="1047.3" r="18"/><circle cx="613.4" cy="1056.1" r="18"/><circle cx="613.4" cy="1065" r="18"/><circle cx="613.4" cy="1073.9" r="18"/><circle cx="613.4" cy="1082.7" r="18"/><circle cx="613.4" cy="1091.6" r="18"/><circle cx="613.4" cy="1100.4" r="18"/><circle cx="613.4" cy="1109.3" r="18"/><circle cx="613.4" cy="1118.1" r="18"/><circle cx="613.4" cy="1127" r="18"/><circle cx="634.4" cy="821.5" r="18"/><circle cx="634.4" cy="846.4" r="18"/><circle cx="634.4" cy="872.8" r="18"/><circle cx="634.4" cy="939" r="18"/><circle cx="634.4" cy="946.8" r="18"/><circle cx="634.4" cy="954.7" r="18"/><circle cx="634.4" cy="962.5" r="18"/><circle cx="634.4" cy="970.3" r="18"/><circle cx="634.4" cy="978.2" r="18"/><circle cx="634.4" cy="986" r="18"/><circle cx="634.4" cy="1029" r="18"/><circle cx="634.4" cy="1038" r="18"/><circle cx="634.4" cy="1047" r="18"/><circle cx="634.4" cy="1056" r="18"/><circle cx="634.4" cy="1065" r="18"/><circle cx="634.4" cy="1074" r="18"/><circle cx="634.4" cy="1083" r="18"/><circle cx="634.4" cy="1092" r="18"/></g>
<g fill="#4358A9"><circle cx="256.4" cy="1107" r="18"/><circle cx="256.4" cy="1115.3" r="18"/><circle cx="256.4" cy="1123.7" r="18"/><circle cx="256.4" cy="1132" r="18"/><circle cx="256.4" cy="1140.3" r="18"/><circle cx="256.4" cy="1148.7" r="18"/><circle cx="256.4" cy="1157" r="18"/><circle cx="277.4" cy="1104" r="18"/><circle cx="277.4" cy="1112.8" r="18"/><circle cx="277.4" cy="1121.5" r="18"/><circle cx="277.4" cy="1130.2" r="18"/><circle cx="277.4" cy="1139" r="18"/><circle cx="298.4" cy="1087" r="18"/><circle cx="298.4" cy="1095.9" r="18"/><circle cx="298.4" cy="1104.7" r="18"/><circle cx="298.4" cy="1113.6" r="18"/><circle cx="298.4" cy="1122.4" r="18"/><circle cx="298.4" cy="1131.3" r="18"/><circle cx="298.4" cy="1140.1" r="18"/><circle cx="298.4" cy="1149" r="18"/><circle cx="319.4" cy="1111" r="18"/><circle cx="319.4" cy="1119.7" r="18"/><circle cx="319.4" cy="1128.3" r="18"/><circle cx="319.4" cy="1137" r="18"/><circle cx="340.4" cy="1099" r="18"/><circle cx="340.4" cy="1107.8" r="18"/><circle cx="340.4" cy="1116.5" r="18"/><circle cx="340.4" cy="1125.2" r="18"/><circle cx="340.4" cy="1134" r="18"/><circle cx="361.4" cy="1079" r="18"/><circle cx="361.4" cy="1087.3" r="18"/><circle cx="361.4" cy="1095.6" r="18"/><circle cx="361.4" cy="1103.9" r="18"/><circle cx="361.4" cy="1112.1" r="18"/><circle cx="361.4" cy="1120.4" r="18"/><circle cx="361.4" cy="1128.7" r="18"/><circle cx="361.4" cy="1137" r="18"/><circle cx="382.4" cy="1085" r="18"/><circle cx="382.4" cy="1093.4" r="18"/><circle cx="382.4" cy="1101.8" r="18"/><circle cx="382.4" cy="1110.1" r="18"/><circle cx="382.4" cy="1118.5" r="18"/><circle cx="382.4" cy="1126.9" r="18"/><circle cx="382.4" cy="1135.2" r="18"/><circle cx="382.4" cy="1143.6" r="18"/><circle cx="382.4" cy="1152" r="18"/><circle cx="403.4" cy="1087" r="18"/><circle cx="403.4" cy="1095.6" r="18"/><circle cx="403.4" cy="1104.1" r="18"/><circle cx="403.4" cy="1112.7" r="18"/><circle cx="403.4" cy="1121.3" r="18"/><circle cx="403.4" cy="1129.9" r="18"/><circle cx="403.4" cy="1138.4" r="18"/><circle cx="403.4" cy="1147" r="18"/><circle cx="424.4" cy="1053" r="18"/><circle cx="424.4" cy="1061.7" r="18"/><circle cx="424.4" cy="1070.3" r="18"/><circle cx="424.4" cy="1079" r="18"/><circle cx="424.4" cy="1087.7" r="18"/><circle cx="424.4" cy="1096.3" r="18"/><circle cx="424.4" cy="1105" r="18"/><circle cx="424.4" cy="1113.7" r="18"/><circle cx="424.4" cy="1122.3" r="18"/><circle cx="424.4" cy="1131" r="18"/><circle cx="424.4" cy="1139.7" r="18"/><circle cx="424.4" cy="1148.3" r="18"/><circle cx="424.4" cy="1157" r="18"/><circle cx="445.4" cy="1063" r="18"/><circle cx="445.4" cy="1071.5" r="18"/><circle cx="445.4" cy="1080.1" r="18"/><circle cx="445.4" cy="1088.6" r="18"/><circle cx="445.4" cy="1097.2" r="18"/><circle cx="445.4" cy="1105.7" r="18"/><circle cx="445.4" cy="1114.3" r="18"/><circle cx="445.4" cy="1122.8" r="18"/><circle cx="445.4" cy="1131.4" r="18"/><circle cx="445.4" cy="1139.9" r="18"/><circle cx="445.4" cy="1148.5" r="18"/><circle cx="445.4" cy="1157" r="18"/><circle cx="466.4" cy="1060" r="18"/><circle cx="466.4" cy="1068.9" r="18"/><circle cx="466.4" cy="1077.8" r="18"/><circle cx="466.4" cy="1086.7" r="18"/><circle cx="466.4" cy="1095.6" r="18"/><circle cx="466.4" cy="1104.5" r="18"/><circle cx="466.4" cy="1113.5" r="18"/><circle cx="466.4" cy="1122.4" r="18"/><circle cx="466.4" cy="1131.3" r="18"/><circle cx="466.4" cy="1140.2" r="18"/><circle cx="466.4" cy="1149.1" r="18"/><circle cx="466.4" cy="1158" r="18"/><circle cx="487.4" cy="1022" r="18"/><circle cx="487.4" cy="1030.5" r="18"/><circle cx="487.4" cy="1039" r="18"/><circle cx="487.4" cy="1047.5" r="18"/><circle cx="487.4" cy="1056" r="18"/><circle cx="487.4" cy="1064.5" r="18"/><circle cx="487.4" cy="1073" r="18"/><circle cx="487.4" cy="1081.5" r="18"/><circle cx="487.4" cy="1090" r="18"/><circle cx="487.4" cy="1098.5" r="18"/><circle cx="487.4" cy="1107" r="18"/><circle cx="487.4" cy="1115.5" r="18"/><circle cx="487.4" cy="1124" r="18"/><circle cx="487.4" cy="1132.5" r="18"/><circle cx="487.4" cy="1141" r="18"/><circle cx="508.4" cy="1039" r="18"/><circle cx="508.4" cy="1047.7" r="18"/><circle cx="508.4" cy="1056.4" r="18"/><circle cx="508.4" cy="1065.1" r="18"/><circle cx="508.4" cy="1073.8" r="18"/><circle cx="508.4" cy="1082.5" r="18"/><circle cx="508.4" cy="1091.2" r="18"/><circle cx="508.4" cy="1099.8" r="18"/><circle cx="508.4" cy="1108.5" r="18"/><circle cx="508.4" cy="1117.2" r="18"/><circle cx="508.4" cy="1125.9" r="18"/><circle cx="508.4" cy="1134.6" r="18"/><circle cx="508.4" cy="1143.3" r="18"/><circle cx="508.4" cy="1152" r="18"/><circle cx="529.4" cy="1051" r="18"/><circle cx="529.4" cy="1059.9" r="18"/><circle cx="529.4" cy="1068.8" r="18"/><circle cx="529.4" cy="1077.7" r="18"/><circle cx="529.4" cy="1086.6" r="18"/><circle cx="529.4" cy="1095.5" r="18"/><circle cx="529.4" cy="1104.5" r="18"/><circle cx="529.4" cy="1113.4" r="18"/><circle cx="529.4" cy="1122.3" r="18"/><circle cx="529.4" cy="1131.2" r="18"/><circle cx="529.4" cy="1140.1" r="18"/><circle cx="529.4" cy="1149" r="18"/><circle cx="550.4" cy="1025" r="18"/><circle cx="550.4" cy="1033.6" r="18"/><circle cx="550.4" cy="1042.1" r="18"/><circle cx="550.4" cy="1050.7" r="18"/><circle cx="550.4" cy="1059.3" r="18"/><circle cx="550.4" cy="1067.9" r="18"/><circle cx="550.4" cy="1076.4" r="18"/><circle cx="550.4" cy="1085" r="18"/><circle cx="550.4" cy="1093.6" r="18"/><circle cx="550.4" cy="1102.1" r="18"/><circle cx="550.4" cy="1110.7" r="18"/><circle cx="550.4" cy="1119.3" r="18"/><circle cx="550.4" cy="1127.9" r="18"/><circle cx="550.4" cy="1136.4" r="18"/><circle cx="550.4" cy="1145" r="18"/><circle cx="571.4" cy="887" r="18"/><circle cx="571.4" cy="982" r="18"/><circle cx="571.4" cy="990.8" r="18"/><circle cx="571.4" cy="999.5" r="18"/><circle cx="571.4" cy="1008.3" r="18"/><circle cx="571.4" cy="1017.1" r="18"/><circle cx="571.4" cy="1025.8" r="18"/><circle cx="571.4" cy="1034.6" r="18"/><circle cx="571.4" cy="1043.4" r="18"/><circle cx="571.4" cy="1052.1" r="18"/><circle cx="571.4" cy="1060.9" r="18"/><circle cx="571.4" cy="1069.6" r="18"/><circle cx="571.4" cy="1078.4" r="18"/><circle cx="571.4" cy="1087.2" r="18"/><circle cx="571.4" cy="1095.9" r="18"/><circle cx="571.4" cy="1104.7" r="18"/><circle cx="571.4" cy="1113.5" r="18"/><circle cx="571.4" cy="1122.2" r="18"/><circle cx="571.4" cy="1131" r="18"/><circle cx="592.4" cy="851.5" r="18"/><circle cx="592.4" cy="929" r="18"/><circle cx="592.4" cy="975" r="18"/><circle cx="592.4" cy="983.9" r="18"/><circle cx="592.4" cy="992.8" r="18"/><circle cx="592.4" cy="1001.7" r="18"/><circle cx="592.4" cy="1010.6" r="18"/><circle cx="592.4" cy="1019.4" r="18"/><circle cx="592.4" cy="1028.3" r="18"/><circle cx="592.4" cy="1037.2" r="18"/><circle cx="592.4" cy="1046.1" r="18"/><circle cx="592.4" cy="1055" r="18"/><circle cx="592.4" cy="1063.9" r="18"/><circle cx="592.4" cy="1072.8" r="18"/><circle cx="592.4" cy="1081.7" r="18"/><circle cx="592.4" cy="1090.6" r="18"/><circle cx="592.4" cy="1099.4" r="18"/><circle cx="592.4" cy="1108.3" r="18"/><circle cx="592.4" cy="1117.2" r="18"/><circle cx="592.4" cy="1126.1" r="18"/><circle cx="592.4" cy="1135" r="18"/><circle cx="613.4" cy="832" r="18"/><circle cx="613.4" cy="937" r="18"/><circle cx="613.4" cy="945.7" r="18"/><circle cx="613.4" cy="954.3" r="18"/><circle cx="613.4" cy="963" r="18"/><circle cx="613.4" cy="1003" r="18"/><circle cx="613.4" cy="1011.9" r="18"/><circle cx="613.4" cy="1020.7" r="18"/><circle cx="613.4" cy="1029.6" r="18"/><circle cx="613.4" cy="1038.4" r="18"/><circle cx="613.4" cy="1047.3" r="18"/><circle cx="613.4" cy="1056.1" r="18"/><circle cx="613.4" cy="1065" r="18"/><circle cx="613.4" cy="1073.9" r="18"/><circle cx="613.4" cy="1082.7" r="18"/><circle cx="613.4" cy="1091.6" r="18"/><circle cx="613.4" cy="1100.4" r="18"/><circle cx="613.4" cy="1109.3" r="18"/><circle cx="613.4" cy="1118.1" r="18"/><circle cx="613.4" cy="1127" r="18"/><circle cx="634.4" cy="821.5" r="18"/><circle cx="634.4" cy="846.4" r="18"/><circle cx="634.4" cy="872.8" r="18"/><circle cx="634.4" cy="939" r="18"/><circle cx="634.4" cy="946.8" r="18"/><circle cx="634.4" cy="954.7" r="18"/><circle cx="634.4" cy="962.5" r="18"/><circle cx="634.4" cy="970.3" r="18"/><circle cx="634.4" cy="978.2" r="18"/><circle cx="634.4" cy="986" r="18"/><circle cx="634.4" cy="1029" r="18"/><circle cx="634.4" cy="1038" r="18"/><circle cx="634.4" cy="1047" r="18"/><circle cx="634.4" cy="1056" r="18"/><circle cx="634.4" cy="1065" r="18"/><circle cx="634.4" cy="1074" r="18"/><circle cx="634.4" cy="1083" r="18"/><circle cx="634.4" cy="1092" r="18"/></g>
<path d="M256.4,1115.4 L256.7,1115.4 L257.2,1115.5 L257.7,1115.5 L258.2,1115.6 L258.8,1115.6 L259.5,1115.7 L260.1,1115.7 L260.8,1115.8 L261.5,1115.9 L262.2,1115.9 L262.8,1116 L263.4,1116 L264,1116 L264.6,1116.1 L265.1,1116.1 L265.7,1116.2 L266.3,1116.2 L266.9,1116.2 L267.5,1116.3 L268.1,1116.3 L268.6,1116.3 L269.2,1116.3 L269.8,1116.4 L270.4,1116.4 L271,1116.4 L271.6,1116.4 L272.1,1116.5 L272.7,1116.5 L273.3,1116.5 L273.9,1116.5 L274.5,1116.5 L275.1,1116.6 L275.6,1116.6 L276.2,1116.6 L276.8,1116.6 L277.4,1116.6 L278,1116.6 L278.6,1116.6 L279.1,1116.6 L279.7,1116.6 L280.3,1116.7 L280.9,1116.7 L281.5,1116.7 L282.1,1116.7 L282.6,1116.7 L283.2,1116.7 L283.8,1116.7 L284.4,1116.7 L285,1116.7 L285.6,1116.7 L286.1,1116.7 L286.7,1116.7 L287.3,1116.7 L287.9,1116.6 L288.5,1116.6 L289.1,1116.6 L289.6,1116.6 L290.2,1116.6 L290.8,1116.6 L291.4,1116.6 L292,1116.6 L292.6,1116.6 L293.1,1116.6 L293.7,1116.5 L294.3,1116.5 L294.9,1116.5 L295.5,1116.5 L296.1,1116.5 L296.6,1116.5 L297.2,1116.4 L297.8,1116.4 L298.4,1116.4 L299,1116.4 L299.6,1116.3 L300.1,1116.3 L300.7,1116.3 L301.3,1116.3 L301.9,1116.3 L302.5,1116.2 L303.1,1116.2 L303.6,1116.2 L304.2,1116.1 L304.8,1116.1 L305.4,1116.1 L306,1116.1 L306.6,1116 L307.1,1116 L307.7,1116 L308.3,1115.9 L308.9,1115.9 L309.5,1115.9 L310.1,1115.8 L310.6,1115.8 L311.2,1115.8 L311.8,1115.7 L312.4,1115.7 L313,1115.7 L313.6,1115.6 L314.1,1115.6 L314.7,1115.6 L315.3,1115.5 L315.9,1115.5 L316.5,1115.4 L317.1,1115.4 L317.6,1115.4 L318.2,1115.3 L318.8,1115.3 L319.4,1115.2 L320,1115.2 L320.6,1115.2 L321.1,1115.1 L321.7,1115.1 L322.3,1115 L322.9,1115 L323.5,1114.9 L324.1,1114.9 L324.6,1114.9 L325.2,1114.8 L325.8,1114.8 L326.4,1114.7 L327,1114.7 L327.6,1114.6 L328.1,1114.6 L328.7,1114.5 L329.3,1114.5 L329.9,1114.5 L330.5,1114.4 L331.1,1114.4 L331.6,1114.3 L332.2,1114.3 L332.8,1114.2 L333.4,1114.2 L334,1114.1 L334.6,1114.1 L335.1,1114 L335.7,1114 L336.3,1113.9 L336.9,1113.9 L337.5,1113.8 L338.1,1113.8 L338.6,1113.7 L339.2,1113.7 L339.8,1113.7 L340.4,1113.6 L341,1113.6 L341.6,1113.5 L342.1,1113.5 L342.7,1113.4 L343.3,1113.4 L343.9,1113.3 L344.5,1113.3 L345.1,1113.2 L345.6,1113.2 L346.2,1113.1 L346.8,1113.1 L347.4,1113 L348,1113 L348.6,1112.9 L349.1,1112.9 L349.7,1112.8 L350.3,1112.8 L350.9,1112.7 L351.5,1112.7 L352.1,1112.7 L352.6,1112.6 L353.2,1112.6 L353.8,1112.5 L354.4,1112.5 L355,1112.4 L355.6,1112.4 L356.1,1112.3 L356.7,1112.3 L357.3,1112.2 L357.9,1112.2 L358.5,1112.2 L359.1,1112.1 L359.6,1112.1 L360.2,1112 L360.8,1112 L361.4,1111.9 L362,1111.9 L362.6,1111.9 L363.1,1111.8 L363.7,1111.8 L364.3,1111.7 L364.9,1111.7 L365.5,1111.7 L366.1,1111.6 L366.6,1111.6 L367.2,1111.5 L367.8,1111.5 L368.4,1111.5 L369,1111.4 L369.6,1111.4 L370.1,1111.3 L370.7,1111.3 L371.3,1111.3 L371.9,1111.2 L372.5,1111.2 L373.1,1111.2 L373.6,1111.1 L374.2,1111.1 L374.8,1111.1 L375.4,1111 L376,1111 L376.6,1111 L377.1,1110.9 L377.7,1110.9 L378.3,1110.9 L378.9,1110.8 L379.5,1110.8 L380.1,1110.8 L380.6,1110.8 L381.2,1110.7 L381.8,1110.7 L382.4,1110.7 L383,1110.7 L383.6,1110.6 L384.1,1110.6 L384.7,1110.6 L385.3,1110.6 L385.9,1110.5 L386.5,1110.5 L387.1,1110.5 L387.6,1110.5 L388.2,1110.5 L388.8,1110.4 L389.4,1110.4 L390,1110.4 L390.6,1110.4 L391.1,1110.4 L391.7,1110.4 L392.3,1110.3 L392.9,1110.3 L393.5,1110.3 L394.1,1110.3 L394.6,1110.3 L395.2,1110.3 L395.8,1110.3 L396.4,1110.3 L397,1110.3 L397.6,1110.3 L398.1,1110.3 L398.7,1110.3 L399.3,1110.2 L399.9,1110.2 L400.5,1110.2 L401.1,1110.2 L401.6,1110.2 L402.2,1110.2 L402.8,1110.2 L403.4,1110.2 L404,1110.3 L404.6,1110.3 L405.1,1110.3 L405.7,1110.3 L406.3,1110.3 L406.9,1110.3 L407.5,1110.3 L408.1,1110.3 L408.6,1110.3 L409.2,1110.3 L409.8,1110.3 L410.4,1110.3 L411,1110.4 L411.6,1110.4 L412.1,1110.4 L412.7,1110.4 L413.3,1110.4 L413.9,1110.4 L414.5,1110.5 L415.1,1110.5 L415.6,1110.5 L416.2,1110.5 L416.8,1110.5 L417.4,1110.5 L418,1110.6 L418.6,1110.6 L419.1,1110.6 L419.7,1110.6 L420.3,1110.6 L420.9,1110.7 L421.5,1110.7 L422.1,1110.7 L422.6,1110.7 L423.2,1110.7 L423.8,1110.8 L424.4,1110.8 L425,1110.8 L425.6,1110.8 L426.1,1110.9 L426.7,1110.9 L427.3,1110.9 L427.9,1110.9 L428.5,1110.9 L429.1,1111 L429.6,1111 L430.2,1111 L430.8,1111 L431.4,1111.1 L432,1111.1 L432.6,1111.1 L433.1,1111.1 L433.7,1111.1 L434.3,1111.2 L434.9,1111.2 L435.5,1111.2 L436.1,1111.2 L436.6,1111.3 L437.2,1111.3 L437.8,1111.3 L438.4,1111.3 L439,1111.3 L439.6,1111.3 L440.1,1111.4 L440.7,1111.4 L441.3,1111.4 L441.9,1111.4 L442.5,1111.4 L443.1,1111.4 L443.6,1111.5 L444.2,1111.5 L444.8,1111.5 L445.4,1111.5 L446,1111.5 L446.6,1111.5 L447.1,1111.5 L447.7,1111.5 L448.3,1111.5 L448.9,1111.6 L449.5,1111.6 L450.1,1111.6 L450.6,1111.6 L451.2,1111.6 L451.8,1111.6 L452.4,1111.6 L453,1111.6 L453.6,1111.6 L454.1,1111.6 L454.7,1111.6 L455.3,1111.6 L455.9,1111.6 L456.5,1111.6 L457.1,1111.6 L457.6,1111.6 L458.2,1111.6 L458.8,1111.5 L459.4,1111.5 L460,1111.5 L460.6,1111.5 L461.1,1111.5 L461.7,1111.5 L462.3,1111.5 L462.9,1111.4 L463.5,1111.4 L464.1,1111.4 L464.6,1111.4 L465.2,1111.4 L465.8,1111.3 L466.4,1111.3 L467,1111.3 L467.6,1111.2 L468.1,1111.2 L468.7,1111.2 L469.3,1111.1 L469.9,1111.1 L470.5,1111.1 L471.1,1111 L471.6,1111 L472.2,1110.9 L472.8,1110.9 L473.4,1110.9 L474,1110.8 L474.6,1110.8 L475.1,1110.7 L475.7,1110.6 L476.3,1110.6 L476.9,1110.5 L477.5,1110.5 L478.1,1110.4 L478.6,1110.3 L479.2,1110.3 L479.8,1110.2 L480.4,1110.1 L481,1110.1 L481.6,1110 L482.1,1109.9 L482.7,1109.8 L483.3,1109.8 L483.9,1109.7 L484.5,1109.6 L485.1,1109.5 L485.6,1109.4 L486.2,1109.3 L486.8,1109.2 L487.4,1109.1 L488,1109 L488.6,1108.9 L489.1,1108.8 L489.7,1108.7 L490.3,1108.6 L490.9,1108.5 L491.5,1108.4 L492.1,1108.3 L492.6,1108.2 L493.2,1108 L493.8,1107.9 L494.4,1107.8 L495,1107.7 L495.6,1107.5 L496.1,1107.4 L496.7,1107.3 L497.3,1107.1 L497.9,1107 L498.5,1106.8 L499.1,1106.7 L499.6,1106.5 L500.2,1106.4 L500.8,1106.2 L501.4,1106.1 L502,1105.9 L502.6,1105.7 L503.1,1105.6 L503.7,1105.4 L504.3,1105.2 L504.9,1105 L505.5,1104.9 L506.1,1104.7 L506.6,1104.5 L507.2,1104.3 L507.8,1104.1 L508.4,1103.9 L509,1103.7 L509.6,1103.5 L510.1,1103.3 L510.7,1103.1 L511.3,1102.9 L511.9,1102.7 L512.5,1102.4 L513.1,1102.2 L513.6,1102 L514.2,1101.8 L514.8,1101.5 L515.4,1101.3 L516,1101.1 L516.6,1100.8 L517.1,1100.6 L517.7,1100.3 L518.3,1100.1 L518.9,1099.8 L519.5,1099.6 L520.1,1099.3 L520.6,1099 L521.2,1098.8 L521.8,1098.5 L522.4,1098.2 L523,1097.9 L523.6,1097.6 L524.1,1097.3 L524.7,1097.1 L525.3,1096.8 L525.9,1096.5 L526.5,1096.2 L527.1,1095.8 L527.6,1095.5 L528.2,1095.2 L528.8,1094.9 L529.4,1094.6 L530,1094.2 L530.6,1093.9 L531.1,1093.6 L531.7,1093.2 L532.3,1092.9 L532.9,1092.5 L533.5,1092.2 L534.1,1091.8 L534.6,1091.5 L535.2,1091.1 L535.8,1090.7 L536.4,1090.4 L537,1090 L537.6,1089.6 L538.1,1089.2 L538.7,1088.8 L539.3,1088.5 L539.9,1088.1 L540.5,1087.7 L541.1,1087.2 L541.6,1086.8 L542.2,1086.4 L542.8,1086 L543.4,1085.6 L544,1085.1 L544.6,1084.7 L545.1,1084.3 L545.7,1083.8 L546.3,1083.4 L546.9,1082.9 L547.5,1082.5 L548.1,1082 L548.6,1081.6 L549.2,1081.1 L549.8,1080.6 L550.4,1080.1 L551,1079.6 L551.6,1079.2 L552.1,1078.7 L552.7,1078.2 L553.3,1077.7 L553.9,1077.2 L554.5,1076.6 L555.1,1076.1 L555.6,1075.6 L556.2,1075.1 L556.8,1074.5 L557.4,1074 L558,1073.5 L558.6,1072.9 L559.1,1072.4 L559.7,1071.8 L560.3,1071.2 L560.9,1070.7 L561.5,1070.1 L562.1,1069.5 L562.6,1068.9 L563.2,1068.4 L563.8,1067.8 L564.4,1067.2 L565,1066.6 L565.6,1065.9 L566.1,1065.3 L566.7,1064.7 L567.3,1064.1 L567.9,1063.5 L568.5,1062.8 L569.1,1062.2 L569.6,1061.5 L570.2,1060.9 L570.8,1060.2 L571.4,1059.6 L572,1058.9 L572.6,1058.2 L573.1,1057.5 L573.7,1056.9 L574.3,1056.2 L574.9,1055.5 L575.5,1054.8 L576.1,1054.1 L576.6,1053.4 L577.2,1052.6 L577.8,1051.9 L578.4,1051.2 L579,1050.5 L579.6,1049.7 L580.1,1049 L580.7,1048.2 L581.3,1047.5 L581.9,1046.7 L582.5,1045.9 L583.1,1045.2 L583.6,1044.4 L584.2,1043.6 L584.8,1042.8 L585.4,1042 L586,1041.2 L586.6,1040.4 L587.1,1039.6 L587.7,1038.8 L588.3,1038 L588.9,1037.1 L589.5,1036.3 L590.1,1035.5 L590.6,1034.6 L591.2,1033.8 L591.8,1032.9 L592.4,1032 L593,1031.2 L593.6,1030.3 L594.1,1029.4 L594.7,1028.5 L595.3,1027.6 L595.9,1026.8 L596.5,1025.8 L597.1,1024.9 L597.6,1024 L598.2,1023.1 L598.8,1022.2 L599.4,1021.3 L600,1020.3 L600.6,1019.4 L601.1,1018.4 L601.7,1017.5 L602.3,1016.5 L602.9,1015.6 L603.5,1014.6 L604.1,1013.6 L604.6,1012.6 L605.2,1011.6 L605.8,1010.6 L606.4,1009.6 L607,1008.6 L607.6,1007.6 L608.1,1006.6 L608.7,1005.6 L609.3,1004.6 L609.9,1003.5 L610.5,1002.5 L611.1,1001.4 L611.6,1000.4 L612.2,999.3 L612.8,998.3 L613.4,997.2 L614,996.1 L614.6,995 L615.1,993.9 L615.7,992.8 L616.3,991.7 L616.9,990.6 L617.5,989.5 L618.1,988.4 L618.6,987.3 L619.2,986.2 L619.8,985 L620.4,983.9 L621,982.7 L621.6,981.6 L622.1,980.4 L622.7,979.3 L623.3,978.1 L623.9,976.9 L624.5,975.7 L625.1,974.5 L625.6,973.3 L626.2,972.1 L626.8,970.9 L627.4,969.7 L628.1,968.3 L628.8,966.8 L629.5,965.3 L630.2,963.7 L631,962.1 L631.7,960.5 L632.4,959.1 L633,957.7 L633.6,956.5 L634,955.5 L634.4,954.7 L634.4,974.7 L634,975.4 L633.6,976.4 L633,977.5 L632.4,978.8 L631.7,980.2 L631,981.6 L630.2,983.1 L629.5,984.6 L628.8,986 L628.1,987.4 L627.4,988.7 L626.8,989.9 L626.2,991 L625.6,992.1 L625.1,993.2 L624.5,994.4 L623.9,995.5 L623.3,996.6 L622.7,997.7 L622.1,998.8 L621.6,999.9 L621,1000.9 L620.4,1002 L619.8,1003.1 L619.2,1004.2 L618.6,1005.2 L618.1,1006.3 L617.5,1007.3 L616.9,1008.4 L616.3,1009.4 L615.7,1010.5 L615.1,1011.5 L614.6,1012.5 L614,1013.5 L613.4,1014.6 L612.8,1015.6 L612.2,1016.6 L611.6,1017.6 L611.1,1018.6 L610.5,1019.6 L609.9,1020.5 L609.3,1021.5 L608.7,1022.5 L608.1,1023.5 L607.6,1024.4 L607,1025.4 L606.4,1026.3 L605.8,1027.3 L605.2,1028.2 L604.6,1029.1 L604.1,1030.1 L603.5,1031 L602.9,1031.9 L602.3,1032.8 L601.7,1033.8 L601.1,1034.7 L600.6,1035.6 L600,1036.5 L599.4,1037.3 L598.8,1038.2 L598.2,1039.1 L597.6,1040 L597.1,1040.8 L596.5,1041.7 L595.9,1042.6 L595.3,1043.4 L594.7,1044.3 L594.1,1045.1 L593.6,1045.9 L593,1046.8 L592.4,1047.6 L591.8,1048.4 L591.2,1049.2 L590.6,1050.1 L590.1,1050.9 L589.5,1051.7 L588.9,1052.5 L588.3,1053.2 L587.7,1054 L587.1,1054.8 L586.6,1055.6 L586,1056.4 L585.4,1057.1 L584.8,1057.9 L584.2,1058.6 L583.6,1059.4 L583.1,1060.1 L582.5,1060.9 L581.9,1061.6 L581.3,1062.3 L580.7,1063.1 L580.1,1063.8 L579.6,1064.5 L579,1065.2 L578.4,1065.9 L577.8,1066.6 L577.2,1067.3 L576.6,1068 L576.1,1068.7 L575.5,1069.3 L574.9,1070 L574.3,1070.7 L573.7,1071.3 L573.1,1072 L572.6,1072.7 L572,1073.3 L571.4,1073.9 L570.8,1074.6 L570.2,1075.2 L569.6,1075.8 L569.1,1076.5 L568.5,1077.1 L567.9,1077.7 L567.3,1078.3 L566.7,1078.9 L566.1,1079.5 L565.6,1080.1 L565,1080.7 L564.4,1081.3 L563.8,1081.8 L563.2,1082.4 L562.6,1083 L562.1,1083.5 L561.5,1084.1 L560.9,1084.7 L560.3,1085.2 L559.7,1085.7 L559.1,1086.3 L558.6,1086.8 L558,1087.3 L557.4,1087.9 L556.8,1088.4 L556.2,1088.9 L555.6,1089.4 L555.1,1089.9 L554.5,1090.4 L553.9,1090.9 L553.3,1091.4 L552.7,1091.9 L552.1,1092.4 L551.6,1092.9 L551,1093.3 L550.4,1093.8 L549.8,1094.3 L549.2,1094.7 L548.6,1095.2 L548.1,1095.6 L547.5,1096.1 L546.9,1096.5 L546.3,1097 L545.7,1097.4 L545.1,1097.8 L544.6,1098.2 L544,1098.7 L543.4,1099.1 L542.8,1099.5 L542.2,1099.9 L541.6,1100.3 L541.1,1100.7 L540.5,1101.1 L539.9,1101.5 L539.3,1101.9 L538.7,1102.3 L538.1,1102.6 L537.6,1103 L537,1103.4 L536.4,1103.8 L535.8,1104.1 L535.2,1104.5 L534.6,1104.8 L534.1,1105.2 L533.5,1105.5 L532.9,1105.9 L532.3,1106.2 L531.7,1106.5 L531.1,1106.9 L530.6,1107.2 L530,1107.5 L529.4,1107.8 L528.8,1108.2 L528.2,1108.5 L527.6,1108.8 L527.1,1109.1 L526.5,1109.4 L525.9,1109.7 L525.3,1110 L524.7,1110.3 L524.1,1110.6 L523.6,1110.8 L523,1111.1 L522.4,1111.4 L521.8,1111.7 L521.2,1111.9 L520.6,1112.2 L520.1,1112.5 L519.5,1112.7 L518.9,1113 L518.3,1113.2 L517.7,1113.5 L517.1,1113.7 L516.6,1114 L516,1114.2 L515.4,1114.4 L514.8,1114.7 L514.2,1114.9 L513.6,1115.1 L513.1,1115.3 L512.5,1115.6 L511.9,1115.8 L511.3,1116 L510.7,1116.2 L510.1,1116.4 L509.6,1116.6 L509,1116.8 L508.4,1117 L507.8,1117.2 L507.2,1117.4 L506.6,1117.6 L506.1,1117.7 L505.5,1117.9 L504.9,1118.1 L504.3,1118.3 L503.7,1118.5 L503.1,1118.6 L502.6,1118.8 L502,1118.9 L501.4,1119.1 L500.8,1119.3 L500.2,1119.4 L499.6,1119.6 L499.1,1119.7 L498.5,1119.9 L497.9,1120 L497.3,1120.2 L496.7,1120.3 L496.1,1120.4 L495.6,1120.6 L495,1120.7 L494.4,1120.8 L493.8,1120.9 L493.2,1121.1 L492.6,1121.2 L492.1,1121.3 L491.5,1121.4 L490.9,1121.5 L490.3,1121.6 L489.7,1121.7 L489.1,1121.8 L488.6,1122 L488,1122.1 L487.4,1122.2 L486.8,1122.2 L486.2,1122.3 L485.6,1122.4 L485.1,1122.5 L484.5,1122.6 L483.9,1122.7 L483.3,1122.8 L482.7,1122.9 L482.1,1122.9 L481.6,1123 L481,1123.1 L480.4,1123.2 L479.8,1123.2 L479.2,1123.3 L478.6,1123.4 L478.1,1123.4 L477.5,1123.5 L476.9,1123.5 L476.3,1123.6 L475.7,1123.6 L475.1,1123.7 L474.6,1123.8 L474,1123.8 L473.4,1123.9 L472.8,1123.9 L472.2,1123.9 L471.6,1124 L471.1,1124 L470.5,1124.1 L469.9,1124.1 L469.3,1124.1 L468.7,1124.2 L468.1,1124.2 L467.6,1124.2 L467,1124.3 L466.4,1124.3 L465.8,1124.3 L465.2,1124.4 L464.6,1124.4 L464.1,1124.4 L463.5,1124.4 L462.9,1124.4 L462.3,1124.5 L461.7,1124.5 L461.1,1124.5 L460.6,1124.5 L460,1124.5 L459.4,1124.5 L458.8,1124.5 L458.2,1124.6 L457.6,1124.6 L457.1,1124.6 L456.5,1124.6 L455.9,1124.6 L455.3,1124.6 L454.7,1124.6 L454.1,1124.6 L453.6,1124.6 L453,1124.6 L452.4,1124.6 L451.8,1124.6 L451.2,1124.6 L450.6,1124.6 L450.1,1124.6 L449.5,1124.6 L448.9,1124.6 L448.3,1124.5 L447.7,1124.5 L447.1,1124.5 L446.6,1124.5 L446,1124.5 L445.4,1124.5 L444.8,1124.5 L444.2,1124.5 L443.6,1124.5 L443.1,1124.4 L442.5,1124.4 L441.9,1124.4 L441.3,1124.4 L440.7,1124.4 L440.1,1124.4 L439.6,1124.3 L439,1124.3 L438.4,1124.3 L437.8,1124.3 L437.2,1124.3 L436.6,1124.3 L436.1,1124.2 L435.5,1124.2 L434.9,1124.2 L434.3,1124.2 L433.7,1124.1 L433.1,1124.1 L432.6,1124.1 L432,1124.1 L431.4,1124.1 L430.8,1124 L430.2,1124 L429.6,1124 L429.1,1124 L428.5,1124 L427.9,1123.9 L427.3,1123.9 L426.7,1123.9 L426.1,1123.9 L425.6,1123.8 L425,1123.8 L424.4,1123.8 L423.8,1123.8 L423.2,1123.7 L422.6,1123.7 L422.1,1123.7 L421.5,1123.7 L420.9,1123.7 L420.3,1123.6 L419.7,1123.6 L419.1,1123.6 L418.6,1123.6 L418,1123.6 L417.4,1123.5 L416.8,1123.5 L416.2,1123.5 L415.6,1123.5 L415.1,1123.5 L414.5,1123.5 L413.9,1123.4 L413.3,1123.4 L412.7,1123.4 L412.1,1123.4 L411.6,1123.4 L411,1123.4 L410.4,1123.4 L409.8,1123.3 L409.2,1123.3 L408.6,1123.3 L408.1,1123.3 L407.5,1123.3 L406.9,1123.3 L406.3,1123.3 L405.7,1123.3 L405.1,1123.3 L404.6,1123.3 L404,1123.3 L403.4,1123.3 L402.8,1123.3 L402.2,1123.3 L401.6,1123.3 L401.1,1123.3 L400.5,1123.3 L399.9,1123.3 L399.3,1123.3 L398.7,1123.3 L398.1,1123.3 L397.6,1123.3 L397,1123.3 L396.4,1123.3 L395.8,1123.3 L395.2,1123.3 L394.6,1123.3 L394.1,1123.3 L393.5,1123.4 L392.9,1123.4 L392.3,1123.4 L391.7,1123.4 L391.1,1123.4 L390.6,1123.4 L390,1123.5 L389.4,1123.5 L388.8,1123.5 L388.2,1123.5 L387.6,1123.5 L387.1,1123.6 L386.5,1123.6 L385.9,1123.6 L385.3,1123.6 L384.7,1123.7 L384.1,1123.7 L383.6,1123.7 L383,1123.7 L382.4,1123.8 L381.8,1123.8 L381.2,1123.8 L380.6,1123.9 L380.1,1123.9 L379.5,1123.9 L378.9,1124 L378.3,1124 L377.7,1124 L377.1,1124.1 L376.6,1124.1 L376,1124.1 L375.4,1124.2 L374.8,1124.2 L374.2,1124.2 L373.6,1124.3 L373.1,1124.3 L372.5,1124.4 L371.9,1124.4 L371.3,1124.4 L370.7,1124.5 L370.1,1124.5 L369.6,1124.6 L369,1124.6 L368.4,1124.6 L367.8,1124.7 L367.2,1124.7 L366.6,1124.8 L366.1,1124.8 L365.5,1124.9 L364.9,1124.9 L364.3,1125 L363.7,1125 L363.1,1125.1 L362.6,1125.1 L362,1125.2 L361.4,1125.2 L360.8,1125.3 L360.2,1125.3 L359.6,1125.4 L359.1,1125.4 L358.5,1125.5 L357.9,1125.5 L357.3,1125.6 L356.7,1125.6 L356.1,1125.7 L355.6,1125.7 L355,1125.8 L354.4,1125.8 L353.8,1125.9 L353.2,1126 L352.6,1126 L352.1,1126.1 L351.5,1126.1 L350.9,1126.2 L350.3,1126.2 L349.7,1126.3 L349.1,1126.4 L348.6,1126.4 L348,1126.5 L347.4,1126.5 L346.8,1126.6 L346.2,1126.7 L345.6,1126.7 L345.1,1126.8 L344.5,1126.8 L343.9,1126.9 L343.3,1127 L342.7,1127 L342.1,1127.1 L341.6,1127.1 L341,1127.2 L340.4,1127.3 L339.8,1127.3 L339.2,1127.4 L338.6,1127.5 L338.1,1127.5 L337.5,1127.6 L336.9,1127.7 L336.3,1127.7 L335.7,1127.8 L335.1,1127.8 L334.6,1127.9 L334,1128 L333.4,1128 L332.8,1128.1 L332.2,1128.2 L331.6,1128.2 L331.1,1128.3 L330.5,1128.4 L329.9,1128.4 L329.3,1128.5 L328.7,1128.6 L328.1,1128.6 L327.6,1128.7 L327,1128.8 L326.4,1128.8 L325.8,1128.9 L325.2,1129 L324.6,1129 L324.1,1129.1 L323.5,1129.2 L322.9,1129.2 L322.3,1129.3 L321.7,1129.4 L321.1,1129.4 L320.6,1129.5 L320,1129.6 L319.4,1129.6 L318.8,1129.7 L318.2,1129.8 L317.6,1129.8 L317.1,1129.9 L316.5,1130 L315.9,1130 L315.3,1130.1 L314.7,1130.2 L314.1,1130.2 L313.6,1130.3 L313,1130.3 L312.4,1130.4 L311.8,1130.5 L311.2,1130.5 L310.6,1130.6 L310.1,1130.7 L309.5,1130.7 L308.9,1130.8 L308.3,1130.9 L307.7,1130.9 L307.1,1131 L306.6,1131.1 L306,1131.1 L305.4,1131.2 L304.8,1131.3 L304.2,1131.3 L303.6,1131.4 L303.1,1131.5 L302.5,1131.5 L301.9,1131.6 L301.3,1131.6 L300.7,1131.7 L300.1,1131.8 L299.6,1131.8 L299,1131.9 L298.4,1132 L297.8,1132 L297.2,1132.1 L296.6,1132.1 L296.1,1132.2 L295.5,1132.3 L294.9,1132.3 L294.3,1132.4 L293.7,1132.4 L293.1,1132.5 L292.6,1132.6 L292,1132.6 L291.4,1132.7 L290.8,1132.7 L290.2,1132.8 L289.6,1132.9 L289.1,1132.9 L288.5,1133 L287.9,1133 L287.3,1133.1 L286.7,1133.1 L286.1,1133.2 L285.6,1133.2 L285,1133.3 L284.4,1133.4 L283.8,1133.4 L283.2,1133.5 L282.6,1133.5 L282.1,1133.6 L281.5,1133.6 L280.9,1133.7 L280.3,1133.7 L279.7,1133.8 L279.1,1133.8 L278.6,1133.9 L278,1133.9 L277.4,1134 L276.8,1134 L276.2,1134.1 L275.6,1134.1 L275.1,1134.2 L274.5,1134.2 L273.9,1134.3 L273.3,1134.3 L272.7,1134.4 L272.1,1134.4 L271.6,1134.5 L271,1134.5 L270.4,1134.5 L269.8,1134.6 L269.2,1134.6 L268.6,1134.7 L268.1,1134.7 L267.5,1134.7 L266.9,1134.8 L266.3,1134.8 L265.7,1134.9 L265.1,1134.9 L264.6,1134.9 L264,1135 L263.4,1135 L262.8,1135.1 L262.2,1135.1 L261.5,1135.1 L260.8,1135.2 L260.1,1135.2 L259.5,1135.2 L258.8,1135.3 L258.2,1135.3 L257.7,1135.3 L257.2,1135.4 L256.7,1135.4 L256.4,1135.4 Z" fill="#989898" fill-opacity="0.56"/>
<path d="M256.4,1125.4 C257.6,1125.4 261.1,1125.5 263.4,1125.5 C265.7,1125.5 268.1,1125.5 270.4,1125.5 C272.7,1125.4 275.1,1125.4 277.4,1125.3 C279.7,1125.2 282.1,1125.1 284.4,1125 C286.7,1124.9 289.1,1124.8 291.4,1124.6 C293.7,1124.5 296.1,1124.3 298.4,1124.2 C300.7,1124 303.1,1123.8 305.4,1123.6 C307.7,1123.5 310.1,1123.3 312.4,1123.1 C314.7,1122.9 317.1,1122.6 319.4,1122.4 C321.7,1122.2 324.1,1122 326.4,1121.8 C328.7,1121.6 331.1,1121.3 333.4,1121.1 C335.7,1120.9 338.1,1120.7 340.4,1120.4 C342.7,1120.2 345.1,1120 347.4,1119.8 C349.7,1119.6 352.1,1119.4 354.4,1119.2 C356.7,1119 359.1,1118.8 361.4,1118.6 C363.7,1118.4 366.1,1118.2 368.4,1118.1 C370.7,1117.9 373.1,1117.7 375.4,1117.6 C377.7,1117.5 380.1,1117.3 382.4,1117.2 C384.7,1117.1 387.1,1117 389.4,1117 C391.7,1116.9 394.1,1116.8 396.4,1116.8 C398.7,1116.8 401.1,1116.7 403.4,1116.8 C405.7,1116.8 408.1,1116.8 410.4,1116.9 C412.7,1116.9 415.1,1117 417.4,1117 C419.7,1117.1 422.1,1117.2 424.4,1117.3 C426.7,1117.4 429.1,1117.5 431.4,1117.6 C433.7,1117.6 436.1,1117.7 438.4,1117.8 C440.7,1117.9 443.1,1118 445.4,1118 C447.7,1118 450.1,1118.1 452.4,1118.1 C454.7,1118.1 457.1,1118.1 459.4,1118 C461.7,1118 464.1,1117.9 466.4,1117.8 C468.7,1117.7 471.1,1117.5 473.4,1117.4 C475.7,1117.2 478.1,1116.9 480.4,1116.6 C482.7,1116.4 485.1,1116 487.4,1115.6 C489.7,1115.3 492.1,1114.8 494.4,1114.3 C496.7,1113.8 499.1,1113.2 501.4,1112.6 C503.7,1111.9 506.1,1111.2 508.4,1110.5 C510.7,1109.7 513.1,1108.8 515.4,1107.9 C517.7,1106.9 520.1,1105.9 522.4,1104.8 C524.7,1103.7 527.1,1102.5 529.4,1101.2 C531.7,1099.9 534.1,1098.5 536.4,1097.1 C538.7,1095.6 541.1,1094 543.4,1092.3 C545.7,1090.6 548.1,1088.9 550.4,1087 C552.7,1085.1 555.1,1083.1 557.4,1080.9 C559.7,1078.8 562.1,1076.6 564.4,1074.2 C566.7,1071.8 569.1,1069.4 571.4,1066.8 C573.7,1064.1 576.1,1061.4 578.4,1058.5 C580.7,1055.7 583.1,1052.7 585.4,1049.6 C587.7,1046.4 590.1,1043.2 592.4,1039.8 C594.7,1036.4 597.1,1032.9 599.4,1029.3 C601.7,1025.7 604.1,1021.9 606.4,1018 C608.7,1014.1 611.1,1010 613.4,1005.9 C615.7,1001.7 618.1,997.4 620.4,993 C622.7,988.5 625.1,983.9 627.4,979.2 C629.7,974.5 633.2,967.1 634.4,964.7" fill="none" stroke="#E7A332" stroke-width="11"/>
<path d="M256.4,1130 L256.4,1106 L256.4,1160 L256.4,1131 L277.4,1128.6 L277.4,1104 L277.4,1139 L277.4,1124.4 L298.4,1133 L298.4,1087 L298.4,1149 L298.4,1120.3 L319.4,1127.5 L319.4,1111 L319.4,1137 L319.4,1114.3 L340.4,1117.4 L340.4,1134 L340.4,1099 L340.4,1106.8 L361.4,1091.7 L361.4,1079 L361.4,1137 L361.4,1105.5 L382.4,1115.6 L382.4,1152 L382.4,1085 L382.4,1103.6 L403.4,1109.3 L403.4,1087 L403.4,1147 L403.4,1116.8 L424.4,1096.7 L424.4,1053 L424.4,1157 L424.4,1109 L445.4,1101.3 L445.4,1063 L445.4,1157 L445.4,1115.4 L466.4,1115.4 L466.4,1060 L466.4,1158 L466.4,1128.7 L487.4,1119.6 L487.4,1022 L487.4,1141 L487.4,1118.2 L508.4,1114 L508.4,1152 L508.4,1039 L508.4,1099.9 L529.4,1123.8 L529.4,1051 L529.4,1149 L529.4,1106.9 L550.4,1110.4 L550.4,1145 L550.4,1025 L550.4,1087 L571.4,1063 L571.4,1131 L571.4,887 L592.4,1058 L592.4,1135 L592.4,851.5 L613.4,938 L613.4,832 L613.4,1127 L634.4,965 L634.4,821.5 L634.4,1092 L634.4,1060" fill="none" stroke="#0c0c14" stroke-opacity="0.8" stroke-width="5.2" stroke-linejoin="round" stroke-linecap="butt"/>
</g>
<g clip-path="url(#c12)">
<g fill="#4358A9" stroke="#3A50B4" stroke-width="1"><circle cx="941.8" cy="1040" r="18"/><circle cx="941.8" cy="1048.7" r="18"/><circle cx="941.8" cy="1057.4" r="18"/><circle cx="941.8" cy="1066.1" r="18"/><circle cx="941.8" cy="1074.9" r="18"/><circle cx="941.8" cy="1083.6" r="18"/><circle cx="941.8" cy="1092.3" r="18"/><circle cx="941.8" cy="1101" r="18"/><circle cx="962.8" cy="990" r="18"/><circle cx="962.8" cy="999" r="18"/><circle cx="962.8" cy="1008" r="18"/><circle cx="962.8" cy="1017" r="18"/><circle cx="962.8" cy="1026" r="18"/><circle cx="962.8" cy="1035" r="18"/><circle cx="962.8" cy="1044" r="18"/><circle cx="962.8" cy="1053" r="18"/><circle cx="962.8" cy="1062" r="18"/><circle cx="962.8" cy="1071" r="18"/><circle cx="962.8" cy="1080" r="18"/><circle cx="962.8" cy="1116" r="18"/><circle cx="983.8" cy="1053" r="18"/><circle cx="983.8" cy="1061" r="18"/><circle cx="983.8" cy="1069" r="18"/><circle cx="983.8" cy="1077" r="18"/><circle cx="983.8" cy="1085" r="18"/><circle cx="983.8" cy="1093" r="18"/><circle cx="983.8" cy="1130" r="18"/><circle cx="1004.8" cy="1046" r="18"/><circle cx="1004.8" cy="1053.8" r="18"/><circle cx="1004.8" cy="1061.7" r="18"/><circle cx="1004.8" cy="1069.5" r="18"/><circle cx="1004.8" cy="1077.3" r="18"/><circle cx="1004.8" cy="1085.2" r="18"/><circle cx="1004.8" cy="1093" r="18"/><circle cx="1025.8" cy="1050" r="18"/><circle cx="1025.8" cy="1058.7" r="18"/><circle cx="1025.8" cy="1067.3" r="18"/><circle cx="1025.8" cy="1076" r="18"/><circle cx="1025.8" cy="1084.7" r="18"/><circle cx="1025.8" cy="1093.3" r="18"/><circle cx="1025.8" cy="1102" r="18"/><circle cx="1046.8" cy="1062" r="18"/><circle cx="1046.8" cy="1070.4" r="18"/><circle cx="1046.8" cy="1078.8" r="18"/><circle cx="1046.8" cy="1087.1" r="18"/><circle cx="1046.8" cy="1095.5" r="18"/><circle cx="1046.8" cy="1103.9" r="18"/><circle cx="1046.8" cy="1112.2" r="18"/><circle cx="1046.8" cy="1120.6" r="18"/><circle cx="1046.8" cy="1129" r="18"/><circle cx="1067.8" cy="1052" r="18"/><circle cx="1067.8" cy="1060.7" r="18"/><circle cx="1067.8" cy="1069.4" r="18"/><circle cx="1067.8" cy="1078.1" r="18"/><circle cx="1067.8" cy="1086.8" r="18"/><circle cx="1067.8" cy="1095.5" r="18"/><circle cx="1067.8" cy="1104.2" r="18"/><circle cx="1067.8" cy="1112.9" r="18"/><circle cx="1067.8" cy="1121.6" r="18"/><circle cx="1067.8" cy="1130.3" r="18"/><circle cx="1067.8" cy="1139" r="18"/><circle cx="1088.8" cy="1055" r="18"/><circle cx="1088.8" cy="1063.2" r="18"/><circle cx="1088.8" cy="1071.4" r="18"/><circle cx="1088.8" cy="1079.6" r="18"/><circle cx="1088.8" cy="1087.8" r="18"/><circle cx="1088.8" cy="1096" r="18"/><circle cx="1088.8" cy="1134" r="18"/><circle cx="1109.8" cy="1048" r="18"/><circle cx="1109.8" cy="1057" r="18"/><circle cx="1109.8" cy="1066" r="18"/><circle cx="1109.8" cy="1075" r="18"/><circle cx="1109.8" cy="1084" r="18"/><circle cx="1109.8" cy="1093" r="18"/><circle cx="1109.8" cy="1102" r="18"/><circle cx="1109.8" cy="1111" r="18"/><circle cx="1130.8" cy="1045" r="18"/><circle cx="1130.8" cy="1053.4" r="18"/><circle cx="1130.8" cy="1061.8" r="18"/><circle cx="1130.8" cy="1070.1" r="18"/><circle cx="1130.8" cy="1078.5" r="18"/><circle cx="1130.8" cy="1086.9" r="18"/><circle cx="1130.8" cy="1095.2" r="18"/><circle cx="1130.8" cy="1103.6" r="18"/><circle cx="1130.8" cy="1112" r="18"/><circle cx="1151.8" cy="1050" r="18"/><circle cx="1151.8" cy="1058" r="18"/><circle cx="1151.8" cy="1066" r="18"/><circle cx="1151.8" cy="1074" r="18"/><circle cx="1151.8" cy="1082" r="18"/><circle cx="1151.8" cy="1090" r="18"/><circle cx="1151.8" cy="1098" r="18"/><circle cx="1151.8" cy="1106" r="18"/><circle cx="1151.8" cy="1147" r="18"/><circle cx="1172.8" cy="822" r="18"/><circle cx="1172.8" cy="941" r="18"/><circle cx="1172.8" cy="963" r="18"/><circle cx="1172.8" cy="984" r="18"/><circle cx="1172.8" cy="1050" r="18"/><circle cx="1172.8" cy="1058.7" r="18"/><circle cx="1172.8" cy="1067.5" r="18"/><circle cx="1172.8" cy="1076.2" r="18"/><circle cx="1172.8" cy="1084.9" r="18"/><circle cx="1172.8" cy="1093.6" r="18"/><circle cx="1172.8" cy="1102.4" r="18"/><circle cx="1172.8" cy="1111.1" r="18"/><circle cx="1172.8" cy="1119.8" r="18"/><circle cx="1172.8" cy="1128.5" r="18"/><circle cx="1172.8" cy="1137.3" r="18"/><circle cx="1172.8" cy="1146" r="18"/><circle cx="1193.8" cy="1043" r="18"/><circle cx="1193.8" cy="1051.4" r="18"/><circle cx="1193.8" cy="1059.9" r="18"/><circle cx="1193.8" cy="1068.3" r="18"/><circle cx="1193.8" cy="1076.7" r="18"/><circle cx="1193.8" cy="1085.1" r="18"/><circle cx="1193.8" cy="1093.6" r="18"/><circle cx="1193.8" cy="1102" r="18"/><circle cx="1193.8" cy="1142" r="18"/><circle cx="1214.8" cy="1056" r="18"/><circle cx="1214.8" cy="1064.5" r="18"/><circle cx="1214.8" cy="1073" r="18"/><circle cx="1214.8" cy="1081.5" r="18"/><circle cx="1214.8" cy="1090" r="18"/><circle cx="1214.8" cy="1098.5" r="18"/><circle cx="1214.8" cy="1107" r="18"/><circle cx="1214.8" cy="1145" r="18"/><circle cx="1235.8" cy="1061" r="18"/><circle cx="1235.8" cy="1069.4" r="18"/><circle cx="1235.8" cy="1077.8" r="18"/><circle cx="1235.8" cy="1086.1" r="18"/><circle cx="1235.8" cy="1094.5" r="18"/><circle cx="1235.8" cy="1102.9" r="18"/><circle cx="1235.8" cy="1111.2" r="18"/><circle cx="1235.8" cy="1119.6" r="18"/><circle cx="1235.8" cy="1128" r="18"/><circle cx="1256.8" cy="1051" r="18"/><circle cx="1256.8" cy="1059.7" r="18"/><circle cx="1256.8" cy="1068.5" r="18"/><circle cx="1256.8" cy="1077.2" r="18"/><circle cx="1256.8" cy="1085.9" r="18"/><circle cx="1256.8" cy="1094.6" r="18"/><circle cx="1256.8" cy="1103.4" r="18"/><circle cx="1256.8" cy="1112.1" r="18"/><circle cx="1256.8" cy="1120.8" r="18"/><circle cx="1256.8" cy="1129.5" r="18"/><circle cx="1256.8" cy="1138.3" r="18"/><circle cx="1256.8" cy="1147" r="18"/><circle cx="1277.8" cy="980" r="18"/><circle cx="1277.8" cy="1031" r="18"/><circle cx="1277.8" cy="1039.6" r="18"/><circle cx="1277.8" cy="1048.2" r="18"/><circle cx="1277.8" cy="1056.8" r="18"/><circle cx="1277.8" cy="1065.4" r="18"/><circle cx="1277.8" cy="1074" r="18"/><circle cx="1277.8" cy="1082.6" r="18"/><circle cx="1277.8" cy="1091.2" r="18"/><circle cx="1277.8" cy="1099.8" r="18"/><circle cx="1277.8" cy="1108.4" r="18"/><circle cx="1277.8" cy="1117" r="18"/><circle cx="1277.8" cy="1125.6" r="18"/><circle cx="1277.8" cy="1134.2" r="18"/><circle cx="1277.8" cy="1142.8" r="18"/><circle cx="1277.8" cy="1151.4" r="18"/><circle cx="1277.8" cy="1160" r="18"/><circle cx="1298.8" cy="918" r="18"/><circle cx="1298.8" cy="927" r="18"/><circle cx="1298.8" cy="936" r="18"/><circle cx="1298.8" cy="945" r="18"/><circle cx="1298.8" cy="954" r="18"/><circle cx="1298.8" cy="994" r="18"/><circle cx="1298.8" cy="1003" r="18"/><circle cx="1298.8" cy="1012" r="18"/><circle cx="1298.8" cy="1021" r="18"/><circle cx="1298.8" cy="1030" r="18"/><circle cx="1298.8" cy="1039" r="18"/><circle cx="1298.8" cy="1048" r="18"/><circle cx="1298.8" cy="1057" r="18"/><circle cx="1298.8" cy="1066" r="18"/><circle cx="1298.8" cy="1075" r="18"/><circle cx="1298.8" cy="1084" r="18"/><circle cx="1319.8" cy="860" r="18"/><circle cx="1319.8" cy="911" r="18"/><circle cx="1319.8" cy="919.7" r="18"/><circle cx="1319.8" cy="928.4" r="18"/><circle cx="1319.8" cy="937" r="18"/><circle cx="1319.8" cy="945.7" r="18"/><circle cx="1319.8" cy="954.4" r="18"/><circle cx="1319.8" cy="963.1" r="18"/><circle cx="1319.8" cy="971.8" r="18"/><circle cx="1319.8" cy="980.5" r="18"/><circle cx="1319.8" cy="989.1" r="18"/><circle cx="1319.8" cy="997.8" r="18"/><circle cx="1319.8" cy="1006.5" r="18"/><circle cx="1319.8" cy="1015.2" r="18"/><circle cx="1319.8" cy="1023.9" r="18"/><circle cx="1319.8" cy="1032.5" r="18"/><circle cx="1319.8" cy="1041.2" r="18"/><circle cx="1319.8" cy="1049.9" r="18"/><circle cx="1319.8" cy="1058.6" r="18"/><circle cx="1319.8" cy="1067.3" r="18"/><circle cx="1319.8" cy="1076" r="18"/><circle cx="1319.8" cy="1084.6" r="18"/><circle cx="1319.8" cy="1093.3" r="18"/><circle cx="1319.8" cy="1102" r="18"/></g>
<g fill="#4358A9"><circle cx="941.8" cy="1040" r="18"/><circle cx="941.8" cy="1048.7" r="18"/><circle cx="941.8" cy="1057.4" r="18"/><circle cx="941.8" cy="1066.1" r="18"/><circle cx="941.8" cy="1074.9" r="18"/><circle cx="941.8" cy="1083.6" r="18"/><circle cx="941.8" cy="1092.3" r="18"/><circle cx="941.8" cy="1101" r="18"/><circle cx="962.8" cy="990" r="18"/><circle cx="962.8" cy="999" r="18"/><circle cx="962.8" cy="1008" r="18"/><circle cx="962.8" cy="1017" r="18"/><circle cx="962.8" cy="1026" r="18"/><circle cx="962.8" cy="1035" r="18"/><circle cx="962.8" cy="1044" r="18"/><circle cx="962.8" cy="1053" r="18"/><circle cx="962.8" cy="1062" r="18"/><circle cx="962.8" cy="1071" r="18"/><circle cx="962.8" cy="1080" r="18"/><circle cx="962.8" cy="1116" r="18"/><circle cx="983.8" cy="1053" r="18"/><circle cx="983.8" cy="1061" r="18"/><circle cx="983.8" cy="1069" r="18"/><circle cx="983.8" cy="1077" r="18"/><circle cx="983.8" cy="1085" r="18"/><circle cx="983.8" cy="1093" r="18"/><circle cx="983.8" cy="1130" r="18"/><circle cx="1004.8" cy="1046" r="18"/><circle cx="1004.8" cy="1053.8" r="18"/><circle cx="1004.8" cy="1061.7" r="18"/><circle cx="1004.8" cy="1069.5" r="18"/><circle cx="1004.8" cy="1077.3" r="18"/><circle cx="1004.8" cy="1085.2" r="18"/><circle cx="1004.8" cy="1093" r="18"/><circle cx="1025.8" cy="1050" r="18"/><circle cx="1025.8" cy="1058.7" r="18"/><circle cx="1025.8" cy="1067.3" r="18"/><circle cx="1025.8" cy="1076" r="18"/><circle cx="1025.8" cy="1084.7" r="18"/><circle cx="1025.8" cy="1093.3" r="18"/><circle cx="1025.8" cy="1102" r="18"/><circle cx="1046.8" cy="1062" r="18"/><circle cx="1046.8" cy="1070.4" r="18"/><circle cx="1046.8" cy="1078.8" r="18"/><circle cx="1046.8" cy="1087.1" r="18"/><circle cx="1046.8" cy="1095.5" r="18"/><circle cx="1046.8" cy="1103.9" r="18"/><circle cx="1046.8" cy="1112.2" r="18"/><circle cx="1046.8" cy="1120.6" r="18"/><circle cx="1046.8" cy="1129" r="18"/><circle cx="1067.8" cy="1052" r="18"/><circle cx="1067.8" cy="1060.7" r="18"/><circle cx="1067.8" cy="1069.4" r="18"/><circle cx="1067.8" cy="1078.1" r="18"/><circle cx="1067.8" cy="1086.8" r="18"/><circle cx="1067.8" cy="1095.5" r="18"/><circle cx="1067.8" cy="1104.2" r="18"/><circle cx="1067.8" cy="1112.9" r="18"/><circle cx="1067.8" cy="1121.6" r="18"/><circle cx="1067.8" cy="1130.3" r="18"/><circle cx="1067.8" cy="1139" r="18"/><circle cx="1088.8" cy="1055" r="18"/><circle cx="1088.8" cy="1063.2" r="18"/><circle cx="1088.8" cy="1071.4" r="18"/><circle cx="1088.8" cy="1079.6" r="18"/><circle cx="1088.8" cy="1087.8" r="18"/><circle cx="1088.8" cy="1096" r="18"/><circle cx="1088.8" cy="1134" r="18"/><circle cx="1109.8" cy="1048" r="18"/><circle cx="1109.8" cy="1057" r="18"/><circle cx="1109.8" cy="1066" r="18"/><circle cx="1109.8" cy="1075" r="18"/><circle cx="1109.8" cy="1084" r="18"/><circle cx="1109.8" cy="1093" r="18"/><circle cx="1109.8" cy="1102" r="18"/><circle cx="1109.8" cy="1111" r="18"/><circle cx="1130.8" cy="1045" r="18"/><circle cx="1130.8" cy="1053.4" r="18"/><circle cx="1130.8" cy="1061.8" r="18"/><circle cx="1130.8" cy="1070.1" r="18"/><circle cx="1130.8" cy="1078.5" r="18"/><circle cx="1130.8" cy="1086.9" r="18"/><circle cx="1130.8" cy="1095.2" r="18"/><circle cx="1130.8" cy="1103.6" r="18"/><circle cx="1130.8" cy="1112" r="18"/><circle cx="1151.8" cy="1050" r="18"/><circle cx="1151.8" cy="1058" r="18"/><circle cx="1151.8" cy="1066" r="18"/><circle cx="1151.8" cy="1074" r="18"/><circle cx="1151.8" cy="1082" r="18"/><circle cx="1151.8" cy="1090" r="18"/><circle cx="1151.8" cy="1098" r="18"/><circle cx="1151.8" cy="1106" r="18"/><circle cx="1151.8" cy="1147" r="18"/><circle cx="1172.8" cy="822" r="18"/><circle cx="1172.8" cy="941" r="18"/><circle cx="1172.8" cy="963" r="18"/><circle cx="1172.8" cy="984" r="18"/><circle cx="1172.8" cy="1050" r="18"/><circle cx="1172.8" cy="1058.7" r="18"/><circle cx="1172.8" cy="1067.5" r="18"/><circle cx="1172.8" cy="1076.2" r="18"/><circle cx="1172.8" cy="1084.9" r="18"/><circle cx="1172.8" cy="1093.6" r="18"/><circle cx="1172.8" cy="1102.4" r="18"/><circle cx="1172.8" cy="1111.1" r="18"/><circle cx="1172.8" cy="1119.8" r="18"/><circle cx="1172.8" cy="1128.5" r="18"/><circle cx="1172.8" cy="1137.3" r="18"/><circle cx="1172.8" cy="1146" r="18"/><circle cx="1193.8" cy="1043" r="18"/><circle cx="1193.8" cy="1051.4" r="18"/><circle cx="1193.8" cy="1059.9" r="18"/><circle cx="1193.8" cy="1068.3" r="18"/><circle cx="1193.8" cy="1076.7" r="18"/><circle cx="1193.8" cy="1085.1" r="18"/><circle cx="1193.8" cy="1093.6" r="18"/><circle cx="1193.8" cy="1102" r="18"/><circle cx="1193.8" cy="1142" r="18"/><circle cx="1214.8" cy="1056" r="18"/><circle cx="1214.8" cy="1064.5" r="18"/><circle cx="1214.8" cy="1073" r="18"/><circle cx="1214.8" cy="1081.5" r="18"/><circle cx="1214.8" cy="1090" r="18"/><circle cx="1214.8" cy="1098.5" r="18"/><circle cx="1214.8" cy="1107" r="18"/><circle cx="1214.8" cy="1145" r="18"/><circle cx="1235.8" cy="1061" r="18"/><circle cx="1235.8" cy="1069.4" r="18"/><circle cx="1235.8" cy="1077.8" r="18"/><circle cx="1235.8" cy="1086.1" r="18"/><circle cx="1235.8" cy="1094.5" r="18"/><circle cx="1235.8" cy="1102.9" r="18"/><circle cx="1235.8" cy="1111.2" r="18"/><circle cx="1235.8" cy="1119.6" r="18"/><circle cx="1235.8" cy="1128" r="18"/><circle cx="1256.8" cy="1051" r="18"/><circle cx="1256.8" cy="1059.7" r="18"/><circle cx="1256.8" cy="1068.5" r="18"/><circle cx="1256.8" cy="1077.2" r="18"/><circle cx="1256.8" cy="1085.9" r="18"/><circle cx="1256.8" cy="1094.6" r="18"/><circle cx="1256.8" cy="1103.4" r="18"/><circle cx="1256.8" cy="1112.1" r="18"/><circle cx="1256.8" cy="1120.8" r="18"/><circle cx="1256.8" cy="1129.5" r="18"/><circle cx="1256.8" cy="1138.3" r="18"/><circle cx="1256.8" cy="1147" r="18"/><circle cx="1277.8" cy="980" r="18"/><circle cx="1277.8" cy="1031" r="18"/><circle cx="1277.8" cy="1039.6" r="18"/><circle cx="1277.8" cy="1048.2" r="18"/><circle cx="1277.8" cy="1056.8" r="18"/><circle cx="1277.8" cy="1065.4" r="18"/><circle cx="1277.8" cy="1074" r="18"/><circle cx="1277.8" cy="1082.6" r="18"/><circle cx="1277.8" cy="1091.2" r="18"/><circle cx="1277.8" cy="1099.8" r="18"/><circle cx="1277.8" cy="1108.4" r="18"/><circle cx="1277.8" cy="1117" r="18"/><circle cx="1277.8" cy="1125.6" r="18"/><circle cx="1277.8" cy="1134.2" r="18"/><circle cx="1277.8" cy="1142.8" r="18"/><circle cx="1277.8" cy="1151.4" r="18"/><circle cx="1277.8" cy="1160" r="18"/><circle cx="1298.8" cy="918" r="18"/><circle cx="1298.8" cy="927" r="18"/><circle cx="1298.8" cy="936" r="18"/><circle cx="1298.8" cy="945" r="18"/><circle cx="1298.8" cy="954" r="18"/><circle cx="1298.8" cy="994" r="18"/><circle cx="1298.8" cy="1003" r="18"/><circle cx="1298.8" cy="1012" r="18"/><circle cx="1298.8" cy="1021" r="18"/><circle cx="1298.8" cy="1030" r="18"/><circle cx="1298.8" cy="1039" r="18"/><circle cx="1298.8" cy="1048" r="18"/><circle cx="1298.8" cy="1057" r="18"/><circle cx="1298.8" cy="1066" r="18"/><circle cx="1298.8" cy="1075" r="18"/><circle cx="1298.8" cy="1084" r="18"/><circle cx="1319.8" cy="860" r="18"/><circle cx="1319.8" cy="911" r="18"/><circle cx="1319.8" cy="919.7" r="18"/><circle cx="1319.8" cy="928.4" r="18"/><circle cx="1319.8" cy="937" r="18"/><circle cx="1319.8" cy="945.7" r="18"/><circle cx="1319.8" cy="954.4" r="18"/><circle cx="1319.8" cy="963.1" r="18"/><circle cx="1319.8" cy="971.8" r="18"/><circle cx="1319.8" cy="980.5" r="18"/><circle cx="1319.8" cy="989.1" r="18"/><circle cx="1319.8" cy="997.8" r="18"/><circle cx="1319.8" cy="1006.5" r="18"/><circle cx="1319.8" cy="1015.2" r="18"/><circle cx="1319.8" cy="1023.9" r="18"/><circle cx="1319.8" cy="1032.5" r="18"/><circle cx="1319.8" cy="1041.2" r="18"/><circle cx="1319.8" cy="1049.9" r="18"/><circle cx="1319.8" cy="1058.6" r="18"/><circle cx="1319.8" cy="1067.3" r="18"/><circle cx="1319.8" cy="1076" r="18"/><circle cx="1319.8" cy="1084.6" r="18"/><circle cx="1319.8" cy="1093.3" r="18"/><circle cx="1319.8" cy="1102" r="18"/></g>
<path d="M942,1041.6 L942.3,1041.8 L942.8,1042.1 L943.3,1042.4 L943.8,1042.7 L944.4,1043.1 L945.1,1043.5 L945.7,1044 L946.4,1044.4 L947.1,1044.8 L947.8,1045.2 L948.4,1045.6 L949,1046 L949.6,1046.3 L950.2,1046.7 L950.8,1047 L951.3,1047.3 L951.9,1047.7 L952.5,1048 L953.1,1048.3 L953.7,1048.6 L954.3,1049 L954.8,1049.3 L955.4,1049.6 L956,1049.9 L956.6,1050.2 L957.2,1050.5 L957.8,1050.8 L958.3,1051.1 L958.9,1051.4 L959.5,1051.7 L960.1,1052 L960.7,1052.2 L961.3,1052.5 L961.8,1052.8 L962.4,1053.1 L963,1053.3 L963.6,1053.6 L964.2,1053.9 L964.8,1054.1 L965.3,1054.4 L965.9,1054.6 L966.5,1054.9 L967.1,1055.1 L967.7,1055.4 L968.3,1055.6 L968.8,1055.9 L969.4,1056.1 L970,1056.3 L970.6,1056.6 L971.2,1056.8 L971.8,1057 L972.3,1057.3 L972.9,1057.5 L973.5,1057.7 L974.1,1057.9 L974.7,1058.1 L975.3,1058.3 L975.8,1058.5 L976.4,1058.7 L977,1058.9 L977.6,1059.1 L978.2,1059.3 L978.8,1059.5 L979.3,1059.7 L979.9,1059.9 L980.5,1060.1 L981.1,1060.3 L981.7,1060.4 L982.3,1060.6 L982.8,1060.8 L983.4,1061 L984,1061.1 L984.6,1061.3 L985.2,1061.5 L985.8,1061.6 L986.3,1061.8 L986.9,1061.9 L987.5,1062.1 L988.1,1062.2 L988.7,1062.4 L989.3,1062.5 L989.8,1062.7 L990.4,1062.8 L991,1063 L991.6,1063.1 L992.2,1063.2 L992.8,1063.4 L993.3,1063.5 L993.9,1063.6 L994.5,1063.7 L995.1,1063.9 L995.7,1064 L996.3,1064.1 L996.8,1064.2 L997.4,1064.3 L998,1064.4 L998.6,1064.6 L999.2,1064.7 L999.8,1064.8 L1000.3,1064.9 L1000.9,1065 L1001.5,1065.1 L1002.1,1065.2 L1002.7,1065.2 L1003.3,1065.3 L1003.8,1065.4 L1004.4,1065.5 L1005,1065.6 L1005.6,1065.7 L1006.2,1065.8 L1006.8,1065.8 L1007.4,1065.9 L1007.9,1066 L1008.5,1066.1 L1009.1,1066.1 L1009.7,1066.2 L1010.3,1066.3 L1010.9,1066.3 L1011.4,1066.4 L1012,1066.4 L1012.6,1066.5 L1013.2,1066.6 L1013.8,1066.6 L1014.4,1066.7 L1014.9,1066.7 L1015.5,1066.8 L1016.1,1066.8 L1016.7,1066.8 L1017.3,1066.9 L1017.9,1066.9 L1018.4,1067 L1019,1067 L1019.6,1067 L1020.2,1067.1 L1020.8,1067.1 L1021.4,1067.1 L1021.9,1067.2 L1022.5,1067.2 L1023.1,1067.2 L1023.7,1067.2 L1024.3,1067.2 L1024.9,1067.3 L1025.4,1067.3 L1026,1067.3 L1026.6,1067.3 L1027.2,1067.3 L1027.8,1067.3 L1028.4,1067.3 L1028.9,1067.4 L1029.5,1067.4 L1030.1,1067.4 L1030.7,1067.4 L1031.3,1067.4 L1031.9,1067.4 L1032.4,1067.4 L1033,1067.4 L1033.6,1067.4 L1034.2,1067.3 L1034.8,1067.3 L1035.4,1067.3 L1035.9,1067.3 L1036.5,1067.3 L1037.1,1067.3 L1037.7,1067.3 L1038.3,1067.3 L1038.9,1067.2 L1039.4,1067.2 L1040,1067.2 L1040.6,1067.2 L1041.2,1067.2 L1041.8,1067.1 L1042.4,1067.1 L1042.9,1067.1 L1043.5,1067 L1044.1,1067 L1044.7,1067 L1045.3,1067 L1045.9,1066.9 L1046.4,1066.9 L1047,1066.8 L1047.6,1066.8 L1048.2,1066.8 L1048.8,1066.7 L1049.4,1066.7 L1049.9,1066.7 L1050.5,1066.6 L1051.1,1066.6 L1051.7,1066.5 L1052.3,1066.5 L1052.9,1066.4 L1053.4,1066.4 L1054,1066.3 L1054.6,1066.3 L1055.2,1066.2 L1055.8,1066.2 L1056.4,1066.1 L1056.9,1066.1 L1057.5,1066 L1058.1,1066 L1058.7,1065.9 L1059.3,1065.9 L1059.9,1065.8 L1060.4,1065.8 L1061,1065.7 L1061.6,1065.7 L1062.2,1065.6 L1062.8,1065.6 L1063.4,1065.5 L1063.9,1065.5 L1064.5,1065.4 L1065.1,1065.3 L1065.7,1065.3 L1066.3,1065.2 L1066.9,1065.2 L1067.4,1065.1 L1068,1065.1 L1068.6,1065 L1069.2,1064.9 L1069.8,1064.9 L1070.4,1064.8 L1071,1064.8 L1071.5,1064.7 L1072.1,1064.7 L1072.7,1064.6 L1073.3,1064.5 L1073.9,1064.5 L1074.5,1064.4 L1075,1064.4 L1075.6,1064.3 L1076.2,1064.3 L1076.8,1064.2 L1077.4,1064.2 L1078,1064.1 L1078.5,1064.1 L1079.1,1064 L1079.7,1064 L1080.3,1063.9 L1080.9,1063.8 L1081.5,1063.8 L1082,1063.7 L1082.6,1063.7 L1083.2,1063.7 L1083.8,1063.6 L1084.4,1063.6 L1085,1063.5 L1085.5,1063.5 L1086.1,1063.4 L1086.7,1063.4 L1087.3,1063.3 L1087.9,1063.3 L1088.5,1063.2 L1089,1063.2 L1089.6,1063.2 L1090.2,1063.1 L1090.8,1063.1 L1091.4,1063.1 L1092,1063 L1092.5,1063 L1093.1,1063 L1093.7,1062.9 L1094.3,1062.9 L1094.9,1062.9 L1095.5,1062.8 L1096,1062.8 L1096.6,1062.8 L1097.2,1062.8 L1097.8,1062.7 L1098.4,1062.7 L1099,1062.7 L1099.5,1062.7 L1100.1,1062.7 L1100.7,1062.6 L1101.3,1062.6 L1101.9,1062.6 L1102.5,1062.6 L1103,1062.6 L1103.6,1062.6 L1104.2,1062.6 L1104.8,1062.6 L1105.4,1062.6 L1106,1062.6 L1106.5,1062.6 L1107.1,1062.6 L1107.7,1062.6 L1108.3,1062.6 L1108.9,1062.6 L1109.5,1062.6 L1110,1062.6 L1110.6,1062.6 L1111.2,1062.7 L1111.8,1062.7 L1112.4,1062.7 L1113,1062.7 L1113.5,1062.7 L1114.1,1062.8 L1114.7,1062.8 L1115.3,1062.8 L1115.9,1062.9 L1116.5,1062.9 L1117,1062.9 L1117.6,1063 L1118.2,1063 L1118.8,1063.1 L1119.4,1063.1 L1120,1063.2 L1120.5,1063.2 L1121.1,1063.3 L1121.7,1063.3 L1122.3,1063.4 L1122.9,1063.5 L1123.5,1063.5 L1124,1063.6 L1124.6,1063.7 L1125.2,1063.7 L1125.8,1063.8 L1126.4,1063.9 L1127,1064 L1127.5,1064.1 L1128.1,1064.1 L1128.7,1064.2 L1129.3,1064.3 L1129.9,1064.4 L1130.5,1064.5 L1131,1064.6 L1131.6,1064.7 L1132.2,1064.8 L1132.8,1065 L1133.4,1065.1 L1134,1065.2 L1134.6,1065.3 L1135.1,1065.4 L1135.7,1065.6 L1136.3,1065.7 L1136.9,1065.8 L1137.5,1066 L1138.1,1066.1 L1138.6,1066.2 L1139.2,1066.4 L1139.8,1066.5 L1140.4,1066.7 L1141,1066.8 L1141.6,1067 L1142.1,1067.1 L1142.7,1067.3 L1143.3,1067.5 L1143.9,1067.6 L1144.5,1067.8 L1145.1,1068 L1145.6,1068.1 L1146.2,1068.3 L1146.8,1068.5 L1147.4,1068.7 L1148,1068.8 L1148.6,1069 L1149.1,1069.2 L1149.7,1069.4 L1150.3,1069.6 L1150.9,1069.7 L1151.5,1069.9 L1152.1,1070.1 L1152.6,1070.3 L1153.2,1070.5 L1153.8,1070.7 L1154.4,1070.9 L1155,1071.1 L1155.6,1071.3 L1156.1,1071.5 L1156.7,1071.7 L1157.3,1071.9 L1157.9,1072.1 L1158.5,1072.3 L1159.1,1072.5 L1159.6,1072.7 L1160.2,1072.9 L1160.8,1073.1 L1161.4,1073.3 L1162,1073.5 L1162.6,1073.7 L1163.1,1073.9 L1163.7,1074.1 L1164.3,1074.3 L1164.9,1074.5 L1165.5,1074.7 L1166.1,1074.9 L1166.6,1075.1 L1167.2,1075.3 L1167.8,1075.4 L1168.4,1075.6 L1169,1075.8 L1169.6,1076 L1170.1,1076.2 L1170.7,1076.4 L1171.3,1076.6 L1171.9,1076.8 L1172.5,1077 L1173.1,1077.2 L1173.6,1077.4 L1174.2,1077.6 L1174.8,1077.8 L1175.4,1077.9 L1176,1078.1 L1176.6,1078.3 L1177.1,1078.5 L1177.7,1078.7 L1178.3,1078.9 L1178.9,1079 L1179.5,1079.2 L1180.1,1079.4 L1180.6,1079.5 L1181.2,1079.7 L1181.8,1079.9 L1182.4,1080 L1183,1080.2 L1183.6,1080.4 L1184.1,1080.5 L1184.7,1080.7 L1185.3,1080.8 L1185.9,1081 L1186.5,1081.1 L1187.1,1081.3 L1187.6,1081.4 L1188.2,1081.5 L1188.8,1081.7 L1189.4,1081.8 L1190,1081.9 L1190.6,1082 L1191.1,1082.2 L1191.7,1082.3 L1192.3,1082.4 L1192.9,1082.5 L1193.5,1082.6 L1194.1,1082.7 L1194.7,1082.8 L1195.2,1082.9 L1195.8,1083 L1196.4,1083.1 L1197,1083.2 L1197.6,1083.3 L1198.2,1083.4 L1198.7,1083.4 L1199.3,1083.5 L1199.9,1083.6 L1200.5,1083.6 L1201.1,1083.7 L1201.7,1083.7 L1202.2,1083.8 L1202.8,1083.8 L1203.4,1083.9 L1204,1083.9 L1204.6,1083.9 L1205.2,1084 L1205.7,1084 L1206.3,1084 L1206.9,1084 L1207.5,1084 L1208.1,1084 L1208.7,1084 L1209.2,1084 L1209.8,1084 L1210.4,1083.9 L1211,1083.9 L1211.6,1083.9 L1212.2,1083.8 L1212.7,1083.8 L1213.3,1083.8 L1213.9,1083.7 L1214.5,1083.6 L1215.1,1083.6 L1215.7,1083.5 L1216.2,1083.4 L1216.8,1083.3 L1217.4,1083.2 L1218,1083.1 L1218.6,1083 L1219.2,1082.9 L1219.7,1082.8 L1220.3,1082.7 L1220.9,1082.6 L1221.5,1082.4 L1222.1,1082.3 L1222.7,1082.1 L1223.2,1082 L1223.8,1081.8 L1224.4,1081.7 L1225,1081.5 L1225.6,1081.3 L1226.2,1081.1 L1226.7,1081 L1227.3,1080.8 L1227.9,1080.6 L1228.5,1080.4 L1229.1,1080.2 L1229.7,1079.9 L1230.2,1079.7 L1230.8,1079.5 L1231.4,1079.3 L1232,1079 L1232.6,1078.8 L1233.2,1078.6 L1233.7,1078.3 L1234.3,1078.1 L1234.9,1077.8 L1235.5,1077.5 L1236.1,1077.3 L1236.7,1077 L1237.2,1076.7 L1237.8,1076.4 L1238.4,1076.1 L1239,1075.8 L1239.6,1075.5 L1240.2,1075.2 L1240.7,1074.9 L1241.3,1074.6 L1241.9,1074.3 L1242.5,1073.9 L1243.1,1073.6 L1243.7,1073.3 L1244.2,1072.9 L1244.8,1072.6 L1245.4,1072.2 L1246,1071.9 L1246.6,1071.5 L1247.2,1071.1 L1247.7,1070.8 L1248.3,1070.4 L1248.9,1070 L1249.5,1069.6 L1250.1,1069.2 L1250.7,1068.8 L1251.2,1068.4 L1251.8,1068 L1252.4,1067.6 L1253,1067.2 L1253.6,1066.8 L1254.2,1066.4 L1254.7,1066 L1255.3,1065.5 L1255.9,1065.1 L1256.5,1064.7 L1257.1,1064.2 L1257.7,1063.8 L1258.3,1063.3 L1258.8,1062.9 L1259.4,1062.4 L1260,1061.9 L1260.6,1061.5 L1261.2,1061 L1261.8,1060.5 L1262.3,1060 L1262.9,1059.6 L1263.5,1059.1 L1264.1,1058.6 L1264.7,1058.1 L1265.3,1057.6 L1265.8,1057.1 L1266.4,1056.6 L1267,1056.1 L1267.6,1055.5 L1268.2,1055 L1268.8,1054.5 L1269.3,1054 L1269.9,1053.4 L1270.5,1052.9 L1271.1,1052.4 L1271.7,1051.8 L1272.3,1051.3 L1272.8,1050.7 L1273.4,1050.2 L1274,1049.6 L1274.6,1049 L1275.2,1048.5 L1275.8,1047.9 L1276.3,1047.3 L1276.9,1046.8 L1277.5,1046.2 L1278.1,1045.6 L1278.7,1045 L1279.3,1044.4 L1279.8,1043.8 L1280.4,1043.2 L1281,1042.6 L1281.6,1042 L1282.2,1041.4 L1282.8,1040.8 L1283.3,1040.2 L1283.9,1039.6 L1284.5,1039 L1285.1,1038.3 L1285.7,1037.7 L1286.3,1037.1 L1286.8,1036.5 L1287.4,1035.8 L1288,1035.2 L1288.6,1034.5 L1289.2,1033.9 L1289.8,1033.3 L1290.3,1032.6 L1290.9,1032 L1291.5,1031.3 L1292.1,1030.6 L1292.7,1030 L1293.3,1029.3 L1293.8,1028.7 L1294.4,1028 L1295,1027.3 L1295.6,1026.6 L1296.2,1026 L1296.8,1025.3 L1297.3,1024.6 L1297.9,1023.9 L1298.5,1023.2 L1299.1,1022.5 L1299.7,1021.8 L1300.3,1021.1 L1300.8,1020.4 L1301.4,1019.7 L1302,1019 L1302.6,1018.3 L1303.2,1017.6 L1303.8,1016.9 L1304.3,1016.2 L1304.9,1015.5 L1305.5,1014.8 L1306.1,1014 L1306.7,1013.3 L1307.3,1012.6 L1307.8,1011.9 L1308.4,1011.1 L1309,1010.4 L1309.6,1009.7 L1310.2,1008.9 L1310.8,1008.2 L1311.3,1007.5 L1311.9,1006.7 L1312.5,1006 L1313.1,1005.2 L1313.8,1004.4 L1314.5,1003.5 L1315.2,1002.5 L1315.9,1001.6 L1316.7,1000.6 L1317.4,999.7 L1318.1,998.8 L1318.7,998 L1319.3,997.2 L1319.7,996.6 L1320.1,996.1 L1320.1,1016.1 L1319.7,1016.6 L1319.3,1017.1 L1318.7,1017.8 L1318.1,1018.5 L1317.4,1019.3 L1316.7,1020.1 L1315.9,1021 L1315.2,1021.8 L1314.5,1022.7 L1313.8,1023.5 L1313.1,1024.2 L1312.5,1024.9 L1311.9,1025.6 L1311.3,1026.2 L1310.8,1026.9 L1310.2,1027.6 L1309.6,1028.2 L1309,1028.9 L1308.4,1029.6 L1307.8,1030.2 L1307.3,1030.9 L1306.7,1031.5 L1306.1,1032.2 L1305.5,1032.8 L1304.9,1033.5 L1304.3,1034.1 L1303.8,1034.8 L1303.2,1035.4 L1302.6,1036.1 L1302,1036.7 L1301.4,1037.4 L1300.8,1038 L1300.3,1038.6 L1299.7,1039.3 L1299.1,1039.9 L1298.5,1040.5 L1297.9,1041.2 L1297.3,1041.8 L1296.8,1042.4 L1296.2,1043 L1295.6,1043.7 L1295,1044.3 L1294.4,1044.9 L1293.8,1045.5 L1293.3,1046.1 L1292.7,1046.7 L1292.1,1047.3 L1291.5,1047.9 L1290.9,1048.5 L1290.3,1049.1 L1289.8,1049.7 L1289.2,1050.3 L1288.6,1050.9 L1288,1051.5 L1287.4,1052.1 L1286.8,1052.7 L1286.3,1053.3 L1285.7,1053.9 L1285.1,1054.4 L1284.5,1055 L1283.9,1055.6 L1283.3,1056.2 L1282.8,1056.7 L1282.2,1057.3 L1281.6,1057.8 L1281,1058.4 L1280.4,1059 L1279.8,1059.5 L1279.3,1060.1 L1278.7,1060.6 L1278.1,1061.2 L1277.5,1061.7 L1276.9,1062.2 L1276.3,1062.8 L1275.8,1063.3 L1275.2,1063.8 L1274.6,1064.4 L1274,1064.9 L1273.4,1065.4 L1272.8,1065.9 L1272.3,1066.4 L1271.7,1067 L1271.1,1067.5 L1270.5,1068 L1269.9,1068.5 L1269.3,1069 L1268.8,1069.5 L1268.2,1070 L1267.6,1070.4 L1267,1070.9 L1266.4,1071.4 L1265.8,1071.9 L1265.3,1072.4 L1264.7,1072.8 L1264.1,1073.3 L1263.5,1073.8 L1262.9,1074.2 L1262.3,1074.7 L1261.8,1075.1 L1261.2,1075.6 L1260.6,1076 L1260,1076.5 L1259.4,1076.9 L1258.8,1077.3 L1258.3,1077.8 L1257.7,1078.2 L1257.1,1078.6 L1256.5,1079 L1255.9,1079.4 L1255.3,1079.8 L1254.7,1080.2 L1254.2,1080.6 L1253.6,1081 L1253,1081.4 L1252.4,1081.8 L1251.8,1082.2 L1251.2,1082.6 L1250.7,1083 L1250.1,1083.3 L1249.5,1083.7 L1248.9,1084.1 L1248.3,1084.4 L1247.7,1084.8 L1247.2,1085.1 L1246.6,1085.5 L1246,1085.8 L1245.4,1086.2 L1244.8,1086.5 L1244.2,1086.8 L1243.7,1087.1 L1243.1,1087.5 L1242.5,1087.8 L1241.9,1088.1 L1241.3,1088.4 L1240.7,1088.7 L1240.2,1089 L1239.6,1089.3 L1239,1089.6 L1238.4,1089.8 L1237.8,1090.1 L1237.2,1090.4 L1236.7,1090.7 L1236.1,1090.9 L1235.5,1091.2 L1234.9,1091.4 L1234.3,1091.7 L1233.7,1091.9 L1233.2,1092.2 L1232.6,1092.4 L1232,1092.6 L1231.4,1092.8 L1230.8,1093.1 L1230.2,1093.3 L1229.7,1093.5 L1229.1,1093.7 L1228.5,1093.9 L1227.9,1094.1 L1227.3,1094.2 L1226.7,1094.4 L1226.2,1094.6 L1225.6,1094.8 L1225,1094.9 L1224.4,1095.1 L1223.8,1095.2 L1223.2,1095.4 L1222.7,1095.5 L1222.1,1095.7 L1221.5,1095.8 L1220.9,1095.9 L1220.3,1096 L1219.7,1096.1 L1219.2,1096.2 L1218.6,1096.3 L1218,1096.4 L1217.4,1096.5 L1216.8,1096.6 L1216.2,1096.7 L1215.7,1096.8 L1215.1,1096.8 L1214.5,1096.9 L1213.9,1097 L1213.3,1097 L1212.7,1097 L1212.2,1097.1 L1211.6,1097.1 L1211,1097.1 L1210.4,1097.2 L1209.8,1097.2 L1209.2,1097.2 L1208.7,1097.2 L1208.1,1097.2 L1207.5,1097.2 L1206.9,1097.2 L1206.3,1097.2 L1205.7,1097.1 L1205.2,1097.1 L1204.6,1097.1 L1204,1097.1 L1203.4,1097 L1202.8,1097 L1202.2,1096.9 L1201.7,1096.9 L1201.1,1096.8 L1200.5,1096.8 L1199.9,1096.7 L1199.3,1096.6 L1198.7,1096.5 L1198.2,1096.5 L1197.6,1096.4 L1197,1096.3 L1196.4,1096.2 L1195.8,1096.1 L1195.2,1096 L1194.7,1095.9 L1194.1,1095.8 L1193.5,1095.7 L1192.9,1095.6 L1192.3,1095.5 L1191.7,1095.4 L1191.1,1095.2 L1190.6,1095.1 L1190,1095 L1189.4,1094.9 L1188.8,1094.7 L1188.2,1094.6 L1187.6,1094.4 L1187.1,1094.3 L1186.5,1094.2 L1185.9,1094 L1185.3,1093.9 L1184.7,1093.7 L1184.1,1093.6 L1183.6,1093.4 L1183,1093.2 L1182.4,1093.1 L1181.8,1092.9 L1181.2,1092.7 L1180.6,1092.6 L1180.1,1092.4 L1179.5,1092.2 L1178.9,1092.1 L1178.3,1091.9 L1177.7,1091.7 L1177.1,1091.5 L1176.6,1091.3 L1176,1091.2 L1175.4,1091 L1174.8,1090.8 L1174.2,1090.6 L1173.6,1090.4 L1173.1,1090.2 L1172.5,1090 L1171.9,1089.8 L1171.3,1089.6 L1170.7,1089.4 L1170.1,1089.3 L1169.6,1089.1 L1169,1088.9 L1168.4,1088.7 L1167.8,1088.5 L1167.2,1088.3 L1166.6,1088.1 L1166.1,1087.9 L1165.5,1087.7 L1164.9,1087.5 L1164.3,1087.3 L1163.7,1087.1 L1163.1,1086.9 L1162.6,1086.7 L1162,1086.5 L1161.4,1086.3 L1160.8,1086.1 L1160.2,1085.9 L1159.6,1085.7 L1159.1,1085.5 L1158.5,1085.3 L1157.9,1085.1 L1157.3,1084.9 L1156.7,1084.7 L1156.1,1084.5 L1155.6,1084.3 L1155,1084.1 L1154.4,1083.9 L1153.8,1083.7 L1153.2,1083.5 L1152.6,1083.3 L1152.1,1083.1 L1151.5,1082.9 L1150.9,1082.7 L1150.3,1082.6 L1149.7,1082.4 L1149.1,1082.2 L1148.6,1082 L1148,1081.8 L1147.4,1081.7 L1146.8,1081.5 L1146.2,1081.3 L1145.6,1081.1 L1145.1,1081 L1144.5,1080.8 L1143.9,1080.6 L1143.3,1080.5 L1142.7,1080.3 L1142.1,1080.1 L1141.6,1080 L1141,1079.8 L1140.4,1079.7 L1139.8,1079.5 L1139.2,1079.4 L1138.6,1079.2 L1138.1,1079.1 L1137.5,1079 L1136.9,1078.8 L1136.3,1078.7 L1135.7,1078.6 L1135.1,1078.4 L1134.6,1078.3 L1134,1078.2 L1133.4,1078.1 L1132.8,1078 L1132.2,1077.8 L1131.6,1077.7 L1131,1077.6 L1130.5,1077.5 L1129.9,1077.4 L1129.3,1077.3 L1128.7,1077.2 L1128.1,1077.1 L1127.5,1077.1 L1127,1077 L1126.4,1076.9 L1125.8,1076.8 L1125.2,1076.7 L1124.6,1076.7 L1124,1076.6 L1123.5,1076.5 L1122.9,1076.5 L1122.3,1076.4 L1121.7,1076.3 L1121.1,1076.3 L1120.5,1076.2 L1120,1076.2 L1119.4,1076.1 L1118.8,1076.1 L1118.2,1076 L1117.6,1076 L1117,1075.9 L1116.5,1075.9 L1115.9,1075.9 L1115.3,1075.8 L1114.7,1075.8 L1114.1,1075.8 L1113.5,1075.7 L1113,1075.7 L1112.4,1075.7 L1111.8,1075.7 L1111.2,1075.7 L1110.6,1075.6 L1110,1075.6 L1109.5,1075.6 L1108.9,1075.6 L1108.3,1075.6 L1107.7,1075.6 L1107.1,1075.6 L1106.5,1075.6 L1106,1075.6 L1105.4,1075.6 L1104.8,1075.6 L1104.2,1075.6 L1103.6,1075.6 L1103,1075.6 L1102.5,1075.6 L1101.9,1075.6 L1101.3,1075.6 L1100.7,1075.6 L1100.1,1075.7 L1099.5,1075.7 L1099,1075.7 L1098.4,1075.7 L1097.8,1075.7 L1097.2,1075.8 L1096.6,1075.8 L1096,1075.8 L1095.5,1075.8 L1094.9,1075.9 L1094.3,1075.9 L1093.7,1075.9 L1093.1,1076 L1092.5,1076 L1092,1076 L1091.4,1076.1 L1090.8,1076.1 L1090.2,1076.1 L1089.6,1076.2 L1089,1076.2 L1088.5,1076.3 L1087.9,1076.3 L1087.3,1076.4 L1086.7,1076.4 L1086.1,1076.4 L1085.5,1076.5 L1085,1076.5 L1084.4,1076.6 L1083.8,1076.6 L1083.2,1076.7 L1082.6,1076.7 L1082,1076.8 L1081.5,1076.8 L1080.9,1076.9 L1080.3,1076.9 L1079.7,1077 L1079.1,1077 L1078.5,1077.1 L1078,1077.2 L1077.4,1077.2 L1076.8,1077.3 L1076.2,1077.3 L1075.6,1077.4 L1075,1077.4 L1074.5,1077.5 L1073.9,1077.6 L1073.3,1077.6 L1072.7,1077.7 L1072.1,1077.7 L1071.5,1077.8 L1071,1077.8 L1070.4,1077.9 L1069.8,1078 L1069.2,1078 L1068.6,1078.1 L1068,1078.1 L1067.4,1078.2 L1066.9,1078.3 L1066.3,1078.3 L1065.7,1078.4 L1065.1,1078.4 L1064.5,1078.5 L1063.9,1078.6 L1063.4,1078.6 L1062.8,1078.7 L1062.2,1078.7 L1061.6,1078.8 L1061,1078.9 L1060.4,1078.9 L1059.9,1079 L1059.3,1079 L1058.7,1079.1 L1058.1,1079.1 L1057.5,1079.2 L1056.9,1079.3 L1056.4,1079.3 L1055.8,1079.4 L1055.2,1079.4 L1054.6,1079.5 L1054,1079.5 L1053.4,1079.6 L1052.9,1079.6 L1052.3,1079.7 L1051.7,1079.7 L1051.1,1079.8 L1050.5,1079.8 L1049.9,1079.9 L1049.4,1079.9 L1048.8,1080 L1048.2,1080 L1047.6,1080.1 L1047,1080.1 L1046.4,1080.2 L1045.9,1080.2 L1045.3,1080.2 L1044.7,1080.3 L1044.1,1080.3 L1043.5,1080.4 L1042.9,1080.4 L1042.4,1080.4 L1041.8,1080.5 L1041.2,1080.5 L1040.6,1080.5 L1040,1080.6 L1039.4,1080.6 L1038.9,1080.6 L1038.3,1080.7 L1037.7,1080.7 L1037.1,1080.7 L1036.5,1080.7 L1035.9,1080.8 L1035.4,1080.8 L1034.8,1080.8 L1034.2,1080.8 L1033.6,1080.8 L1033,1080.9 L1032.4,1080.9 L1031.9,1080.9 L1031.3,1080.9 L1030.7,1080.9 L1030.1,1080.9 L1029.5,1080.9 L1028.9,1080.9 L1028.4,1081 L1027.8,1081 L1027.2,1081 L1026.6,1081 L1026,1081 L1025.4,1081 L1024.9,1081 L1024.3,1081 L1023.7,1081 L1023.1,1080.9 L1022.5,1080.9 L1021.9,1080.9 L1021.4,1080.9 L1020.8,1080.9 L1020.2,1080.9 L1019.6,1080.9 L1019,1080.9 L1018.4,1080.8 L1017.9,1080.8 L1017.3,1080.8 L1016.7,1080.8 L1016.1,1080.8 L1015.5,1080.7 L1014.9,1080.7 L1014.4,1080.7 L1013.8,1080.6 L1013.2,1080.6 L1012.6,1080.6 L1012,1080.5 L1011.4,1080.5 L1010.9,1080.5 L1010.3,1080.4 L1009.7,1080.4 L1009.1,1080.3 L1008.5,1080.3 L1007.9,1080.2 L1007.4,1080.2 L1006.8,1080.1 L1006.2,1080.1 L1005.6,1080 L1005,1080 L1004.4,1079.9 L1003.8,1079.9 L1003.3,1079.8 L1002.7,1079.7 L1002.1,1079.7 L1001.5,1079.6 L1000.9,1079.5 L1000.3,1079.5 L999.8,1079.4 L999.2,1079.3 L998.6,1079.2 L998,1079.2 L997.4,1079.1 L996.8,1079 L996.3,1078.9 L995.7,1078.8 L995.1,1078.7 L994.5,1078.7 L993.9,1078.6 L993.3,1078.5 L992.8,1078.4 L992.2,1078.3 L991.6,1078.2 L991,1078.1 L990.4,1078 L989.8,1077.9 L989.3,1077.8 L988.7,1077.6 L988.1,1077.5 L987.5,1077.4 L986.9,1077.3 L986.3,1077.2 L985.8,1077.1 L985.2,1077 L984.6,1076.8 L984,1076.7 L983.4,1076.6 L982.8,1076.4 L982.3,1076.3 L981.7,1076.2 L981.1,1076 L980.5,1075.9 L979.9,1075.8 L979.3,1075.6 L978.8,1075.5 L978.2,1075.3 L977.6,1075.2 L977,1075 L976.4,1074.9 L975.8,1074.7 L975.3,1074.6 L974.7,1074.4 L974.1,1074.2 L973.5,1074.1 L972.9,1073.9 L972.3,1073.7 L971.8,1073.6 L971.2,1073.4 L970.6,1073.2 L970,1073 L969.4,1072.9 L968.8,1072.7 L968.3,1072.5 L967.7,1072.3 L967.1,1072.1 L966.5,1071.9 L965.9,1071.7 L965.3,1071.5 L964.8,1071.3 L964.2,1071.1 L963.6,1070.9 L963,1070.7 L962.4,1070.5 L961.8,1070.3 L961.3,1070.1 L960.7,1069.9 L960.1,1069.6 L959.5,1069.4 L958.9,1069.2 L958.3,1069 L957.8,1068.7 L957.2,1068.5 L956.6,1068.3 L956,1068 L955.4,1067.8 L954.8,1067.6 L954.3,1067.3 L953.7,1067.1 L953.1,1066.8 L952.5,1066.6 L951.9,1066.3 L951.3,1066.1 L950.8,1065.8 L950.2,1065.5 L949.6,1065.3 L949,1065 L948.4,1064.7 L947.8,1064.4 L947.1,1064.1 L946.4,1063.8 L945.7,1063.4 L945.1,1063.1 L944.4,1062.8 L943.8,1062.5 L943.3,1062.2 L942.8,1062 L942.3,1061.7 L942,1061.6 Z" fill="#989898" fill-opacity="0.56"/>
<path d="M942,1051.6 C943.2,1052.2 946.7,1054.3 949,1055.5 C951.3,1056.7 953.7,1057.9 956,1059 C958.3,1060.1 960.7,1061.1 963,1062 C965.3,1063 967.7,1063.9 970,1064.7 C972.3,1065.5 974.7,1066.3 977,1067 C979.3,1067.7 981.7,1068.3 984,1068.9 C986.3,1069.5 988.7,1070 991,1070.5 C993.3,1071 995.7,1071.4 998,1071.8 C1000.3,1072.2 1002.7,1072.5 1005,1072.8 C1007.4,1073.1 1009.7,1073.3 1012,1073.5 C1014.4,1073.7 1016.7,1073.8 1019,1073.9 C1021.4,1074 1023.7,1074.1 1026,1074.1 C1028.4,1074.2 1030.7,1074.2 1033,1074.1 C1035.4,1074.1 1037.7,1074 1040,1073.9 C1042.4,1073.8 1044.7,1073.6 1047,1073.5 C1049.4,1073.3 1051.7,1073.1 1054,1072.9 C1056.4,1072.7 1058.7,1072.5 1061,1072.3 C1063.4,1072.1 1065.7,1071.8 1068,1071.6 C1070.4,1071.4 1072.7,1071.1 1075,1070.9 C1077.4,1070.7 1079.7,1070.5 1082,1070.3 C1084.4,1070.1 1086.7,1069.9 1089,1069.7 C1091.4,1069.6 1093.7,1069.4 1096,1069.3 C1098.4,1069.2 1100.7,1069.1 1103,1069.1 C1105.4,1069.1 1107.7,1069.1 1110,1069.1 C1112.4,1069.2 1114.7,1069.3 1117,1069.4 C1119.4,1069.6 1121.7,1069.8 1124,1070.1 C1126.4,1070.4 1128.7,1070.7 1131,1071.1 C1133.4,1071.5 1135.7,1072 1138.1,1072.6 C1140.4,1073.2 1142.7,1073.8 1145.1,1074.5 C1147.4,1075.1 1149.7,1075.9 1152.1,1076.6 C1154.4,1077.4 1156.7,1078.2 1159.1,1079 C1161.4,1079.7 1163.7,1080.6 1166.1,1081.4 C1168.4,1082.2 1170.7,1083 1173.1,1083.7 C1175.4,1084.5 1177.7,1085.2 1180.1,1085.9 C1182.4,1086.6 1184.7,1087.2 1187.1,1087.8 C1189.4,1088.3 1191.7,1088.9 1194.1,1089.3 C1196.4,1089.7 1198.7,1090 1201.1,1090.3 C1203.4,1090.5 1205.7,1090.6 1208.1,1090.6 C1210.4,1090.6 1212.7,1090.5 1215.1,1090.2 C1217.4,1089.9 1219.7,1089.5 1222.1,1089 C1224.4,1088.4 1226.7,1087.7 1229.1,1086.9 C1231.4,1086.1 1233.7,1085.2 1236.1,1084.1 C1238.4,1083 1240.7,1081.8 1243.1,1080.5 C1245.4,1079.2 1247.7,1077.8 1250.1,1076.3 C1252.4,1074.8 1254.7,1073.1 1257.1,1071.4 C1259.4,1069.7 1261.8,1067.9 1264.1,1065.9 C1266.4,1064 1268.8,1062 1271.1,1059.9 C1273.4,1057.8 1275.8,1055.6 1278.1,1053.4 C1280.4,1051.1 1282.8,1048.8 1285.1,1046.4 C1287.4,1044 1289.8,1041.5 1292.1,1039 C1294.4,1036.5 1296.8,1033.9 1299.1,1031.2 C1301.4,1028.6 1303.8,1025.9 1306.1,1023.1 C1308.4,1020.4 1310.8,1017.6 1313.1,1014.7 C1315.4,1011.9 1318.9,1007.6 1320.1,1006.1" fill="none" stroke="#E7A332" stroke-width="11"/>
<path d="M941.8,1070 L941.8,1101 L941.8,1040 L941.8,1054 L962.8,1035 L962.8,1117 L962.8,989.5 L962.8,1038.5 L983.8,1067 L983.8,1130 L983.8,1052.5 L983.8,1058 L1004.8,1063 L1004.8,1092.5 L1004.8,1046 L1004.8,1046.7 L1025.8,1058 L1025.8,1050 L1025.8,1102 L1025.8,1066 L1046.8,1085 L1046.8,1129 L1046.8,1062 L1046.8,1076.6 L1067.8,1076.6 L1067.8,1139 L1067.8,1052 L1067.8,1062 L1088.8,1070.6 L1088.8,1134 L1088.8,1055 L1088.8,1068 L1109.8,1076.6 L1109.8,1111 L1109.8,1048 L1109.8,1077 L1130.8,1067 L1130.8,1045 L1130.8,1112 L1130.8,1070.6 L1151.8,1071.3 L1151.8,1148 L1151.8,1050 L1172.8,946 L1172.8,822 L1172.8,1146 L1172.8,1069.3 L1193.8,1064.6 L1193.8,1043 L1193.8,1143 L1193.8,1069.6 L1214.8,1075.9 L1214.8,1147 L1214.8,1056 L1214.8,1071.7 L1235.8,1078.7 L1235.8,1061 L1235.8,1129 L1235.8,1076.6 L1256.8,1088.6 L1256.8,1051 L1256.8,1147.5 L1256.8,1106.9 L1277.8,1094.9 L1277.8,980 L1277.8,1160 L1298.8,1048 L1298.8,1086 L1298.8,917 L1298.8,936 L1319.8,1018 L1319.8,860.5 L1319.8,1103 L1319.8,1050" fill="none" stroke="#0c0c14" stroke-opacity="0.8" stroke-width="5.2" stroke-linejoin="round" stroke-linecap="butt"/>
</g>
<line x1="192.9" y1="3.5" x2="655.7" y2="3.5" stroke="#000" stroke-width="1.2"/>
<line x1="193.8" y1="2.9" x2="193.8" y2="374.3" stroke="#000" stroke-width="1.9"/>
<line x1="192.9" y1="373.5" x2="655.7" y2="373.5" stroke="#000" stroke-width="1.6"/>
<line x1="655" y1="2.9" x2="655" y2="374.3" stroke="#222" stroke-width="1.4"/>
<line x1="214.4" y1="373.5" x2="214.4" y2="355.5" stroke="#000" stroke-width="1.5"/>
<line x1="319.4" y1="373.5" x2="319.4" y2="355.5" stroke="#000" stroke-width="1.5"/>
<line x1="424.4" y1="373.5" x2="424.4" y2="355.5" stroke="#000" stroke-width="1.5"/>
<line x1="529.4" y1="373.5" x2="529.4" y2="355.5" stroke="#000" stroke-width="1.5"/>
<line x1="634.4" y1="373.5" x2="634.4" y2="355.5" stroke="#000" stroke-width="1.5"/>
<line x1="193.8" y1="362" x2="211.8" y2="362" stroke="#000" stroke-width="1.6"/>
<text transform="translate(159.3,375.8) scale(1,1.075)" class="tl" text-anchor="end">360</text>
<line x1="193.8" y1="278.2" x2="211.8" y2="278.2" stroke="#000" stroke-width="1.6"/>
<text transform="translate(159.3,292) scale(1,1.075)" class="tl" text-anchor="end">370</text>
<line x1="193.8" y1="194.4" x2="211.8" y2="194.4" stroke="#000" stroke-width="1.6"/>
<text transform="translate(159.3,208.2) scale(1,1.075)" class="tl" text-anchor="end">380</text>
<line x1="193.8" y1="110.6" x2="211.8" y2="110.6" stroke="#000" stroke-width="1.6"/>
<text transform="translate(159.3,124.4) scale(1,1.075)" class="tl" text-anchor="end">390</text>
<line x1="193.8" y1="26.8" x2="211.8" y2="26.8" stroke="#000" stroke-width="1.6"/>
<text transform="translate(159.3,40.6) scale(1,1.075)" class="tl" text-anchor="end">400</text>
<line x1="878.3" y1="3.5" x2="1341.1" y2="3.5" stroke="#000" stroke-width="1.2"/>
<line x1="879.2" y1="2.9" x2="879.2" y2="374.3" stroke="#000" stroke-width="1.9"/>
<line x1="878.3" y1="373.5" x2="1341.1" y2="373.5" stroke="#000" stroke-width="1.6"/>
<line x1="1340.4" y1="2.9" x2="1340.4" y2="374.3" stroke="#222" stroke-width="1.4"/>
<line x1="899.8" y1="373.5" x2="899.8" y2="355.5" stroke="#000" stroke-width="1.5"/>
<line x1="1004.8" y1="373.5" x2="1004.8" y2="355.5" stroke="#000" stroke-width="1.5"/>
<line x1="1109.8" y1="373.5" x2="1109.8" y2="355.5" stroke="#000" stroke-width="1.5"/>
<line x1="1214.8" y1="373.5" x2="1214.8" y2="355.5" stroke="#000" stroke-width="1.5"/>
<line x1="1319.8" y1="373.5" x2="1319.8" y2="355.5" stroke="#000" stroke-width="1.5"/>
<line x1="879.2" y1="312.7" x2="897.2" y2="312.7" stroke="#000" stroke-width="1.6"/>
<text transform="translate(843.7,326.5) scale(1,1.075)" class="tl" text-anchor="end">1160</text>
<line x1="879.2" y1="234.2" x2="897.2" y2="234.2" stroke="#000" stroke-width="1.6"/>
<text transform="translate(843.7,248) scale(1,1.075)" class="tl" text-anchor="end">1170</text>
<line x1="879.2" y1="155.8" x2="897.2" y2="155.8" stroke="#000" stroke-width="1.6"/>
<text transform="translate(843.7,169.6) scale(1,1.075)" class="tl" text-anchor="end">1180</text>
<line x1="879.2" y1="77.3" x2="897.2" y2="77.3" stroke="#000" stroke-width="1.6"/>
<text transform="translate(843.7,91.1) scale(1,1.075)" class="tl" text-anchor="end">1190</text>
<line x1="192.9" y1="404.8" x2="655.7" y2="404.8" stroke="#000" stroke-width="1.2"/>
<line x1="193.8" y1="404.2" x2="193.8" y2="775.8" stroke="#000" stroke-width="1.9"/>
<line x1="192.9" y1="775" x2="655.7" y2="775" stroke="#000" stroke-width="1.6"/>
<line x1="655" y1="404.2" x2="655" y2="775.8" stroke="#222" stroke-width="1.4"/>
<line x1="214.4" y1="775" x2="214.4" y2="757" stroke="#000" stroke-width="1.5"/>
<line x1="319.4" y1="775" x2="319.4" y2="757" stroke="#000" stroke-width="1.5"/>
<line x1="424.4" y1="775" x2="424.4" y2="757" stroke="#000" stroke-width="1.5"/>
<line x1="529.4" y1="775" x2="529.4" y2="757" stroke="#000" stroke-width="1.5"/>
<line x1="634.4" y1="775" x2="634.4" y2="757" stroke="#000" stroke-width="1.5"/>
<line x1="193.8" y1="704.2" x2="211.8" y2="704.2" stroke="#000" stroke-width="1.6"/>
<text transform="translate(159.3,718) scale(1,1.075)" class="tl" text-anchor="end">12.5</text>
<line x1="193.8" y1="590.3" x2="211.8" y2="590.3" stroke="#000" stroke-width="1.6"/>
<text transform="translate(159.3,604.1) scale(1,1.075)" class="tl" text-anchor="end">13.0</text>
<line x1="193.8" y1="476.4" x2="211.8" y2="476.4" stroke="#000" stroke-width="1.6"/>
<text transform="translate(159.3,490.2) scale(1,1.075)" class="tl" text-anchor="end">13.5</text>
<line x1="878.3" y1="404.8" x2="1341.1" y2="404.8" stroke="#000" stroke-width="1.2"/>
<line x1="879.2" y1="404.2" x2="879.2" y2="775.8" stroke="#000" stroke-width="1.9"/>
<line x1="878.3" y1="775" x2="1341.1" y2="775" stroke="#000" stroke-width="1.6"/>
<line x1="1340.4" y1="404.2" x2="1340.4" y2="775.8" stroke="#222" stroke-width="1.4"/>
<line x1="899.8" y1="775" x2="899.8" y2="757" stroke="#000" stroke-width="1.5"/>
<line x1="1004.8" y1="775" x2="1004.8" y2="757" stroke="#000" stroke-width="1.5"/>
<line x1="1109.8" y1="775" x2="1109.8" y2="757" stroke="#000" stroke-width="1.5"/>
<line x1="1214.8" y1="775" x2="1214.8" y2="757" stroke="#000" stroke-width="1.5"/>
<line x1="1319.8" y1="775" x2="1319.8" y2="757" stroke="#000" stroke-width="1.5"/>
<line x1="879.2" y1="674.8" x2="897.2" y2="674.8" stroke="#000" stroke-width="1.6"/>
<text transform="translate(843.7,688.6) scale(1,1.075)" class="tl" text-anchor="end">0</text>
<line x1="879.2" y1="549.5" x2="897.2" y2="549.5" stroke="#000" stroke-width="1.6"/>
<text transform="translate(843.7,563.3) scale(1,1.075)" class="tl" text-anchor="end">5</text>
<line x1="879.2" y1="424.2" x2="897.2" y2="424.2" stroke="#000" stroke-width="1.6"/>
<text transform="translate(843.7,438) scale(1,1.075)" class="tl" text-anchor="end">10</text>
<line x1="192.9" y1="806.3" x2="655.7" y2="806.3" stroke="#000" stroke-width="1.2"/>
<line x1="193.8" y1="805.7" x2="193.8" y2="1176.8" stroke="#000" stroke-width="1.9"/>
<line x1="192.9" y1="1176" x2="655.7" y2="1176" stroke="#000" stroke-width="1.6"/>
<line x1="655" y1="805.7" x2="655" y2="1176.8" stroke="#222" stroke-width="1.4"/>
<line x1="214.4" y1="1176" x2="214.4" y2="1158" stroke="#000" stroke-width="1.5"/>
<line x1="319.4" y1="1176" x2="319.4" y2="1158" stroke="#000" stroke-width="1.5"/>
<line x1="424.4" y1="1176" x2="424.4" y2="1158" stroke="#000" stroke-width="1.5"/>
<line x1="529.4" y1="1176" x2="529.4" y2="1158" stroke="#000" stroke-width="1.5"/>
<line x1="634.4" y1="1176" x2="634.4" y2="1158" stroke="#000" stroke-width="1.5"/>
<line x1="193.8" y1="1168.8" x2="211.8" y2="1168.8" stroke="#000" stroke-width="1.6"/>
<text transform="translate(159.3,1182.6) scale(1,1.075)" class="tl" text-anchor="end">−2.5</text>
<line x1="193.8" y1="1097" x2="211.8" y2="1097" stroke="#000" stroke-width="1.6"/>
<text transform="translate(159.3,1110.8) scale(1,1.075)" class="tl" text-anchor="end">0.0</text>
<line x1="193.8" y1="1025.2" x2="211.8" y2="1025.2" stroke="#000" stroke-width="1.6"/>
<text transform="translate(159.3,1039) scale(1,1.075)" class="tl" text-anchor="end">2.5</text>
<line x1="193.8" y1="953.4" x2="211.8" y2="953.4" stroke="#000" stroke-width="1.6"/>
<text transform="translate(159.3,967.2) scale(1,1.075)" class="tl" text-anchor="end">5.0</text>
<line x1="193.8" y1="881.5" x2="211.8" y2="881.5" stroke="#000" stroke-width="1.6"/>
<text transform="translate(159.3,895.3) scale(1,1.075)" class="tl" text-anchor="end">7.5</text>
<line x1="193.8" y1="809.7" x2="211.8" y2="809.7" stroke="#000" stroke-width="1.6"/>
<text transform="translate(159.3,823.5) scale(1,1.075)" class="tl" text-anchor="end">10.0</text>
<text transform="translate(210.4,1239.5) scale(1,1.075)" class="tl" text-anchor="middle">1995</text>
<text transform="translate(313.4,1239.5) scale(1,1.075)" class="tl" text-anchor="middle">2000</text>
<text transform="translate(418.4,1239.5) scale(1,1.075)" class="tl" text-anchor="middle">2005</text>
<text transform="translate(523.4,1239.5) scale(1,1.075)" class="tl" text-anchor="middle">2010</text>
<text transform="translate(628.4,1239.5) scale(1,1.075)" class="tl" text-anchor="middle">2015</text>
<line x1="878.3" y1="806.3" x2="1341.1" y2="806.3" stroke="#000" stroke-width="1.2"/>
<line x1="879.2" y1="805.7" x2="879.2" y2="1176.8" stroke="#000" stroke-width="1.9"/>
<line x1="878.3" y1="1176" x2="1341.1" y2="1176" stroke="#000" stroke-width="1.6"/>
<line x1="1340.4" y1="805.7" x2="1340.4" y2="1176.8" stroke="#222" stroke-width="1.4"/>
<line x1="899.8" y1="1176" x2="899.8" y2="1158" stroke="#000" stroke-width="1.5"/>
<line x1="1004.8" y1="1176" x2="1004.8" y2="1158" stroke="#000" stroke-width="1.5"/>
<line x1="1109.8" y1="1176" x2="1109.8" y2="1158" stroke="#000" stroke-width="1.5"/>
<line x1="1214.8" y1="1176" x2="1214.8" y2="1158" stroke="#000" stroke-width="1.5"/>
<line x1="1319.8" y1="1176" x2="1319.8" y2="1158" stroke="#000" stroke-width="1.5"/>
<line x1="879.2" y1="1156.3" x2="897.2" y2="1156.3" stroke="#000" stroke-width="1.6"/>
<text transform="translate(843.7,1170.1) scale(1,1.075)" class="tl" text-anchor="end">−2.5</text>
<line x1="879.2" y1="1066.3" x2="897.2" y2="1066.3" stroke="#000" stroke-width="1.6"/>
<text transform="translate(843.7,1080.1) scale(1,1.075)" class="tl" text-anchor="end">0.0</text>
<line x1="879.2" y1="976.4" x2="897.2" y2="976.4" stroke="#000" stroke-width="1.6"/>
<text transform="translate(843.7,990.2) scale(1,1.075)" class="tl" text-anchor="end">2.5</text>
<line x1="879.2" y1="886.4" x2="897.2" y2="886.4" stroke="#000" stroke-width="1.6"/>
<text transform="translate(843.7,900.2) scale(1,1.075)" class="tl" text-anchor="end">5.0</text>
<text transform="translate(890.8,1239.5) scale(1,1.075)" class="tl" text-anchor="middle">1995</text>
<text transform="translate(994.8,1239.5) scale(1,1.075)" class="tl" text-anchor="middle">2000</text>
<text transform="translate(1098.8,1239.5) scale(1,1.075)" class="tl" text-anchor="middle">2005</text>
<text transform="translate(1203.8,1239.5) scale(1,1.075)" class="tl" text-anchor="middle">2010</text>
<text transform="translate(1307.3,1239.5) scale(1,1.075)" class="tl" text-anchor="middle">2015</text>
<text transform="translate(1,55.6) scale(0.92,1.05)" class="pl">a</text>
<text x="672" y="56.3" class="pl">b</text>
<text x="672" y="457.8" class="pl">d</text>
<text x="0.8" y="859.5" class="pl">e</text>
<text transform="translate(0.5,456.5) scale(1.0,1.05)" class="pl">c</text>
<text transform="translate(675,862.8) scale(1.08,1.04)" class="pl">f</text>
<text transform="translate(65.5,194) rotate(-90)" class="yt" text-anchor="middle">CO<tspan font-size="28" dy="9">2</tspan><tspan dy="-9"> (µmol·mol</tspan><tspan font-size="28" dy="-13.5">−1</tspan><tspan dy="13.5">)</tspan></text>
<text transform="translate(750,197.8) rotate(-90)" class="yt" text-anchor="middle" style="font-size:40.5px">Evapor (mm·year<tspan font-size="28" dy="-13.5">−1</tspan><tspan dy="13.5">)</tspan></text>
<text transform="translate(65.5,588) rotate(-90)" class="yt" text-anchor="middle"><tspan letter-spacing="0.5">MAT (°C)</tspan></text>
<text transform="translate(750,590) rotate(-90)" class="yt" text-anchor="middle">Elevation AMSL (m)</text>
<text transform="translate(65.5,991.5) rotate(-90)" class="yt" text-anchor="middle">Groundwater PC1</text>
<text transform="translate(751,990) rotate(-90)" class="yt" text-anchor="middle">Groundwater PC2</text>
<text x="421" y="1317" class="yt" text-anchor="middle">Year</text>
<text x="1099.7" y="1317" class="yt" text-anchor="middle">Year</text>
</svg>
</body></html>
